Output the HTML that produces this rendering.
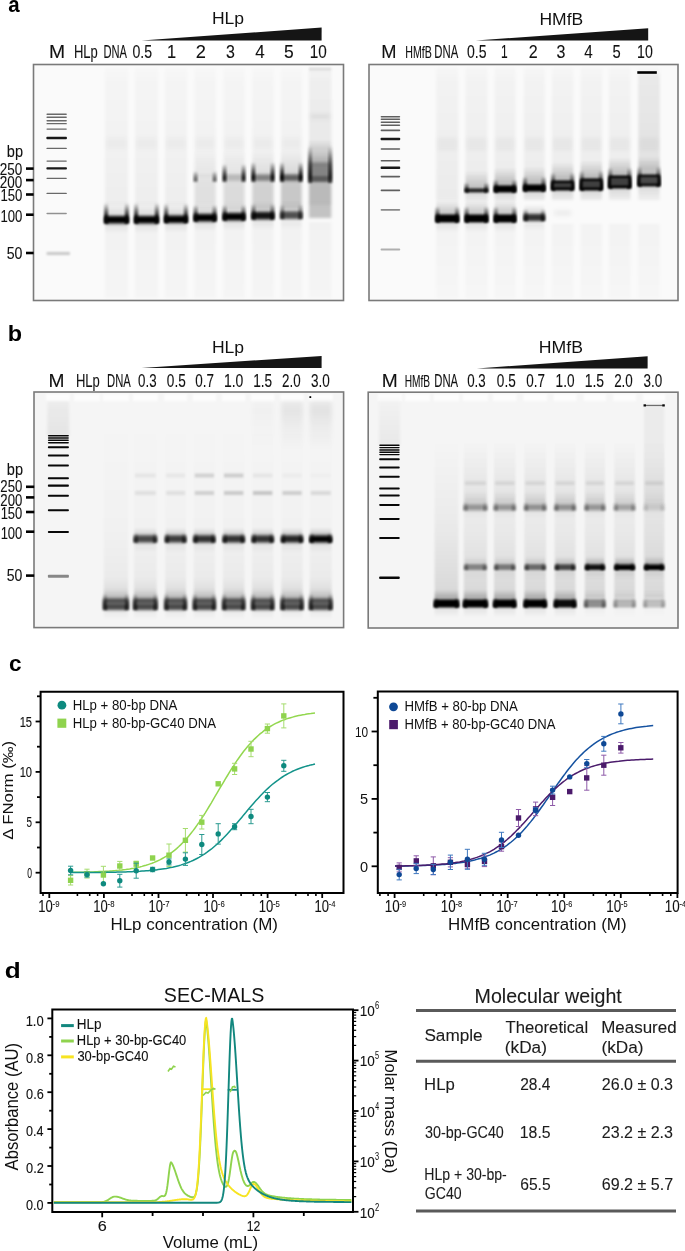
<!DOCTYPE html>
<html><head><meta charset="utf-8"><style>
html,body{margin:0;padding:0;background:#fff;}
svg{display:block;font-family:"Liberation Sans",sans-serif;will-change:transform;}
</style></head><body>
<svg width="685" height="1251" viewBox="0 0 685 1251">
<defs>
<filter id="b05" x="-20%" y="-200%" width="140%" height="500%"><feGaussianBlur stdDeviation="0.5"/></filter>
<filter id="b1" x="-30%" y="-100%" width="160%" height="300%"><feGaussianBlur stdDeviation="1"/></filter>
<filter id="b15" x="-30%" y="-100%" width="160%" height="300%"><feGaussianBlur stdDeviation="1.5"/></filter>
<filter id="b2" x="-30%" y="-100%" width="160%" height="300%"><feGaussianBlur stdDeviation="2"/></filter>
<filter id="b3" x="-30%" y="-100%" width="160%" height="300%"><feGaussianBlur stdDeviation="3"/></filter>
</defs>
<rect width="685" height="1251" fill="#fff"/>
<text x="8.19" y="12.30" font-size="22.00" text-anchor="start" font-weight="bold" fill="#000" textLength="11.38" lengthAdjust="spacingAndGlyphs">a</text>
<text x="7.68" y="341.30" font-size="22.50" text-anchor="start" font-weight="bold" fill="#000" textLength="14.27" lengthAdjust="spacingAndGlyphs">b</text>
<text x="9.10" y="670.60" font-size="21.50" text-anchor="start" font-weight="bold" fill="#000" textLength="12.55" lengthAdjust="spacingAndGlyphs">c</text>
<text x="4.75" y="978.40" font-size="21.50" text-anchor="start" font-weight="bold" fill="#000" textLength="15.97" lengthAdjust="spacingAndGlyphs">d</text>
<rect x="33.5" y="64.5" width="310.0" height="236.0" fill="#fafafa" fill-opacity="1.000"/>
<rect x="46.4" y="113.6" width="20.5" height="1.3" fill="#000" fill-opacity="0.580" rx="0.8" filter="url(#b05)"/>
<rect x="46.4" y="116.6" width="20.5" height="1.3" fill="#000" fill-opacity="0.580" rx="0.8" filter="url(#b05)"/>
<rect x="46.4" y="120.1" width="20.5" height="1.3" fill="#000" fill-opacity="0.580" rx="0.8" filter="url(#b05)"/>
<rect x="46.4" y="123.0" width="20.5" height="1.3" fill="#000" fill-opacity="0.580" rx="0.8" filter="url(#b05)"/>
<rect x="46.4" y="128.4" width="20.5" height="1.3" fill="#000" fill-opacity="0.580" rx="0.8" filter="url(#b05)"/>
<rect x="46.4" y="136.8" width="20.5" height="2.4" fill="#000" fill-opacity="0.900" rx="0.8" filter="url(#b05)"/>
<rect x="46.4" y="147.8" width="20.5" height="1.3" fill="#000" fill-opacity="0.580" rx="0.8" filter="url(#b05)"/>
<rect x="46.4" y="160.4" width="20.5" height="1.3" fill="#000" fill-opacity="0.580" rx="0.8" filter="url(#b05)"/>
<rect x="46.4" y="167.2" width="20.5" height="2.4" fill="#000" fill-opacity="0.900" rx="0.8" filter="url(#b05)"/>
<rect x="46.4" y="177.7" width="20.5" height="1.3" fill="#000" fill-opacity="0.580" rx="0.8" filter="url(#b05)"/>
<rect x="46.4" y="192.8" width="20.5" height="1.3" fill="#000" fill-opacity="0.580" rx="0.8" filter="url(#b05)"/>
<rect x="46.4" y="212.8" width="20.5" height="1.5" fill="#000" fill-opacity="0.420" rx="0.8" filter="url(#b05)"/>
<rect x="46.5" y="252.0" width="23.5" height="3.0" fill="#000" fill-opacity="0.200" rx="1" filter="url(#b1)"/>
<linearGradient id="gg1" x1="0" y1="0" x2="0" y2="1"><stop offset="0" stop-color="#000" stop-opacity="0.01"/><stop offset="0.1" stop-color="#000" stop-opacity="0.022"/><stop offset="0.6" stop-color="#000" stop-opacity="0.035"/><stop offset="1" stop-color="#000" stop-opacity="0.05"/></linearGradient>
<rect x="105.0" y="68.0" width="23.0" height="137.0" fill="url(#gg1)" filter="url(#b15)"/>
<rect x="106.0" y="137.0" width="21.0" height="12.0" fill="#000" fill-opacity="0.025" filter="url(#b2)"/>
<linearGradient id="gg2" x1="0" y1="0" x2="0" y2="1"><stop offset="0" stop-color="#000" stop-opacity="0.035"/><stop offset="1" stop-color="#000" stop-opacity="0.02"/></linearGradient>
<rect x="105.0" y="222.0" width="23.0" height="76.0" fill="url(#gg2)" filter="url(#b15)"/>
<linearGradient id="gg3" x1="0" y1="0" x2="0" y2="1"><stop offset="0" stop-color="#000" stop-opacity="0.01"/><stop offset="0.1" stop-color="#000" stop-opacity="0.022"/><stop offset="0.6" stop-color="#000" stop-opacity="0.035"/><stop offset="1" stop-color="#000" stop-opacity="0.05"/></linearGradient>
<rect x="135.0" y="68.0" width="23.0" height="137.0" fill="url(#gg3)" filter="url(#b15)"/>
<rect x="136.0" y="137.0" width="21.0" height="12.0" fill="#000" fill-opacity="0.025" filter="url(#b2)"/>
<linearGradient id="gg4" x1="0" y1="0" x2="0" y2="1"><stop offset="0" stop-color="#000" stop-opacity="0.035"/><stop offset="1" stop-color="#000" stop-opacity="0.02"/></linearGradient>
<rect x="135.0" y="222.0" width="23.0" height="76.0" fill="url(#gg4)" filter="url(#b15)"/>
<linearGradient id="gg5" x1="0" y1="0" x2="0" y2="1"><stop offset="0" stop-color="#000" stop-opacity="0.01"/><stop offset="0.1" stop-color="#000" stop-opacity="0.022"/><stop offset="0.6" stop-color="#000" stop-opacity="0.035"/><stop offset="1" stop-color="#000" stop-opacity="0.05"/></linearGradient>
<rect x="165.0" y="68.0" width="22.0" height="137.0" fill="url(#gg5)" filter="url(#b15)"/>
<rect x="166.0" y="137.0" width="20.0" height="12.0" fill="#000" fill-opacity="0.025" filter="url(#b2)"/>
<linearGradient id="gg6" x1="0" y1="0" x2="0" y2="1"><stop offset="0" stop-color="#000" stop-opacity="0.035"/><stop offset="1" stop-color="#000" stop-opacity="0.02"/></linearGradient>
<rect x="165.0" y="222.0" width="22.0" height="76.0" fill="url(#gg6)" filter="url(#b15)"/>
<linearGradient id="gg7" x1="0" y1="0" x2="0" y2="1"><stop offset="0" stop-color="#000" stop-opacity="0.01"/><stop offset="0.1" stop-color="#000" stop-opacity="0.022"/><stop offset="0.6" stop-color="#000" stop-opacity="0.035"/><stop offset="1" stop-color="#000" stop-opacity="0.05"/></linearGradient>
<rect x="194.5" y="68.0" width="21.2" height="137.0" fill="url(#gg7)" filter="url(#b15)"/>
<rect x="195.5" y="137.0" width="19.2" height="12.0" fill="#000" fill-opacity="0.025" filter="url(#b2)"/>
<linearGradient id="gg8" x1="0" y1="0" x2="0" y2="1"><stop offset="0" stop-color="#000" stop-opacity="0.035"/><stop offset="1" stop-color="#000" stop-opacity="0.02"/></linearGradient>
<rect x="194.5" y="222.0" width="21.2" height="76.0" fill="url(#gg8)" filter="url(#b15)"/>
<linearGradient id="gg9" x1="0" y1="0" x2="0" y2="1"><stop offset="0" stop-color="#000" stop-opacity="0.01"/><stop offset="0.1" stop-color="#000" stop-opacity="0.022"/><stop offset="0.6" stop-color="#000" stop-opacity="0.035"/><stop offset="1" stop-color="#000" stop-opacity="0.05"/></linearGradient>
<rect x="223.5" y="68.0" width="21.1" height="137.0" fill="url(#gg9)" filter="url(#b15)"/>
<rect x="224.5" y="137.0" width="19.1" height="12.0" fill="#000" fill-opacity="0.025" filter="url(#b2)"/>
<linearGradient id="gg10" x1="0" y1="0" x2="0" y2="1"><stop offset="0" stop-color="#000" stop-opacity="0.035"/><stop offset="1" stop-color="#000" stop-opacity="0.02"/></linearGradient>
<rect x="223.5" y="222.0" width="21.1" height="76.0" fill="url(#gg10)" filter="url(#b15)"/>
<linearGradient id="gg11" x1="0" y1="0" x2="0" y2="1"><stop offset="0" stop-color="#000" stop-opacity="0.01"/><stop offset="0.1" stop-color="#000" stop-opacity="0.022"/><stop offset="0.6" stop-color="#000" stop-opacity="0.035"/><stop offset="1" stop-color="#000" stop-opacity="0.05"/></linearGradient>
<rect x="252.3" y="68.0" width="21.3" height="137.0" fill="url(#gg11)" filter="url(#b15)"/>
<rect x="253.3" y="137.0" width="19.3" height="12.0" fill="#000" fill-opacity="0.025" filter="url(#b2)"/>
<linearGradient id="gg12" x1="0" y1="0" x2="0" y2="1"><stop offset="0" stop-color="#000" stop-opacity="0.035"/><stop offset="1" stop-color="#000" stop-opacity="0.02"/></linearGradient>
<rect x="252.3" y="222.0" width="21.3" height="76.0" fill="url(#gg12)" filter="url(#b15)"/>
<linearGradient id="gg13" x1="0" y1="0" x2="0" y2="1"><stop offset="0" stop-color="#000" stop-opacity="0.01"/><stop offset="0.1" stop-color="#000" stop-opacity="0.022"/><stop offset="0.6" stop-color="#000" stop-opacity="0.035"/><stop offset="1" stop-color="#000" stop-opacity="0.05"/></linearGradient>
<rect x="281.0" y="68.0" width="20.7" height="137.0" fill="url(#gg13)" filter="url(#b15)"/>
<rect x="282.0" y="137.0" width="18.7" height="12.0" fill="#000" fill-opacity="0.025" filter="url(#b2)"/>
<linearGradient id="gg14" x1="0" y1="0" x2="0" y2="1"><stop offset="0" stop-color="#000" stop-opacity="0.035"/><stop offset="1" stop-color="#000" stop-opacity="0.02"/></linearGradient>
<rect x="281.0" y="222.0" width="20.7" height="76.0" fill="url(#gg14)" filter="url(#b15)"/>
<linearGradient id="gg15" x1="0" y1="0" x2="0" y2="1"><stop offset="0" stop-color="#000" stop-opacity="0.01"/><stop offset="0.1" stop-color="#000" stop-opacity="0.022"/><stop offset="0.6" stop-color="#000" stop-opacity="0.035"/><stop offset="1" stop-color="#000" stop-opacity="0.05"/></linearGradient>
<rect x="309.0" y="68.0" width="22.3" height="137.0" fill="url(#gg15)" filter="url(#b15)"/>
<rect x="310.0" y="137.0" width="20.3" height="12.0" fill="#000" fill-opacity="0.000" filter="url(#b2)"/>
<linearGradient id="gg16" x1="0" y1="0" x2="0" y2="1"><stop offset="0" stop-color="#000" stop-opacity="0.035"/><stop offset="1" stop-color="#000" stop-opacity="0.02"/></linearGradient>
<rect x="309.0" y="222.0" width="22.3" height="76.0" fill="url(#gg16)" filter="url(#b15)"/>
<rect x="104.5" y="216.0" width="24.0" height="7.5" fill="#000" fill-opacity="1.000" rx="2" filter="url(#b15)"/>
<linearGradient id="gg17" x1="0" y1="0" x2="0" y2="1"><stop offset="0" stop-color="#000" stop-opacity="0"/><stop offset="0.35" stop-color="#000" stop-opacity="0.45"/><stop offset="0.7" stop-color="#000" stop-opacity="0.9"/><stop offset="1" stop-color="#000" stop-opacity="1"/></linearGradient>
<rect x="104.0" y="203.0" width="4.2" height="20.5" fill="url(#gg17)" filter="url(#b1)"/>
<linearGradient id="gg18" x1="0" y1="0" x2="0" y2="1"><stop offset="0" stop-color="#000" stop-opacity="0"/><stop offset="0.35" stop-color="#000" stop-opacity="0.45"/><stop offset="0.7" stop-color="#000" stop-opacity="0.9"/><stop offset="1" stop-color="#000" stop-opacity="1"/></linearGradient>
<rect x="124.8" y="203.0" width="4.2" height="20.5" fill="url(#gg18)" filter="url(#b1)"/>
<linearGradient id="gg19" x1="0" y1="0" x2="0" y2="1"><stop offset="0" stop-color="#000" stop-opacity="0"/><stop offset="1" stop-color="#000" stop-opacity="0.15"/></linearGradient>
<rect x="105.0" y="202.0" width="23.0" height="15.5" fill="url(#gg19)" filter="url(#b1)"/>
<linearGradient id="gg20" x1="0" y1="0" x2="0" y2="1"><stop offset="0" stop-color="#000" stop-opacity="0.08"/><stop offset="1" stop-color="#000" stop-opacity="0"/></linearGradient>
<rect x="105.0" y="223.0" width="23.0" height="10.5" fill="url(#gg20)" filter="url(#b1)"/>
<rect x="134.5" y="216.0" width="24.0" height="7.5" fill="#000" fill-opacity="1.000" rx="2" filter="url(#b15)"/>
<linearGradient id="gg21" x1="0" y1="0" x2="0" y2="1"><stop offset="0" stop-color="#000" stop-opacity="0"/><stop offset="0.35" stop-color="#000" stop-opacity="0.45"/><stop offset="0.7" stop-color="#000" stop-opacity="0.9"/><stop offset="1" stop-color="#000" stop-opacity="1"/></linearGradient>
<rect x="134.0" y="203.0" width="4.2" height="20.5" fill="url(#gg21)" filter="url(#b1)"/>
<linearGradient id="gg22" x1="0" y1="0" x2="0" y2="1"><stop offset="0" stop-color="#000" stop-opacity="0"/><stop offset="0.35" stop-color="#000" stop-opacity="0.45"/><stop offset="0.7" stop-color="#000" stop-opacity="0.9"/><stop offset="1" stop-color="#000" stop-opacity="1"/></linearGradient>
<rect x="154.8" y="203.0" width="4.2" height="20.5" fill="url(#gg22)" filter="url(#b1)"/>
<linearGradient id="gg23" x1="0" y1="0" x2="0" y2="1"><stop offset="0" stop-color="#000" stop-opacity="0"/><stop offset="1" stop-color="#000" stop-opacity="0.15"/></linearGradient>
<rect x="135.0" y="202.0" width="23.0" height="15.5" fill="url(#gg23)" filter="url(#b1)"/>
<linearGradient id="gg24" x1="0" y1="0" x2="0" y2="1"><stop offset="0" stop-color="#000" stop-opacity="0.08"/><stop offset="1" stop-color="#000" stop-opacity="0"/></linearGradient>
<rect x="135.0" y="223.0" width="23.0" height="10.5" fill="url(#gg24)" filter="url(#b1)"/>
<rect x="164.5" y="215.5" width="23.0" height="7.5" fill="#000" fill-opacity="1.000" rx="2" filter="url(#b15)"/>
<linearGradient id="gg25" x1="0" y1="0" x2="0" y2="1"><stop offset="0" stop-color="#000" stop-opacity="0"/><stop offset="0.35" stop-color="#000" stop-opacity="0.45"/><stop offset="0.7" stop-color="#000" stop-opacity="0.9"/><stop offset="1" stop-color="#000" stop-opacity="1"/></linearGradient>
<rect x="164.0" y="203.5" width="4.2" height="19.5" fill="url(#gg25)" filter="url(#b1)"/>
<linearGradient id="gg26" x1="0" y1="0" x2="0" y2="1"><stop offset="0" stop-color="#000" stop-opacity="0"/><stop offset="0.35" stop-color="#000" stop-opacity="0.45"/><stop offset="0.7" stop-color="#000" stop-opacity="0.9"/><stop offset="1" stop-color="#000" stop-opacity="1"/></linearGradient>
<rect x="183.8" y="203.5" width="4.2" height="19.5" fill="url(#gg26)" filter="url(#b1)"/>
<linearGradient id="gg27" x1="0" y1="0" x2="0" y2="1"><stop offset="0" stop-color="#000" stop-opacity="0"/><stop offset="1" stop-color="#000" stop-opacity="0.15"/></linearGradient>
<rect x="165.0" y="201.5" width="22.0" height="15.5" fill="url(#gg27)" filter="url(#b1)"/>
<linearGradient id="gg28" x1="0" y1="0" x2="0" y2="1"><stop offset="0" stop-color="#000" stop-opacity="0.08"/><stop offset="1" stop-color="#000" stop-opacity="0"/></linearGradient>
<rect x="165.0" y="222.5" width="22.0" height="10.5" fill="url(#gg28)" filter="url(#b1)"/>
<rect x="194.0" y="214.0" width="22.2" height="7.5" fill="#000" fill-opacity="1.000" rx="2" filter="url(#b15)"/>
<linearGradient id="gg29" x1="0" y1="0" x2="0" y2="1"><stop offset="0" stop-color="#000" stop-opacity="0"/><stop offset="0.35" stop-color="#000" stop-opacity="0.45"/><stop offset="0.7" stop-color="#000" stop-opacity="0.9"/><stop offset="1" stop-color="#000" stop-opacity="1"/></linearGradient>
<rect x="193.5" y="205.0" width="4.2" height="16.5" fill="url(#gg29)" filter="url(#b1)"/>
<linearGradient id="gg30" x1="0" y1="0" x2="0" y2="1"><stop offset="0" stop-color="#000" stop-opacity="0"/><stop offset="0.35" stop-color="#000" stop-opacity="0.45"/><stop offset="0.7" stop-color="#000" stop-opacity="0.9"/><stop offset="1" stop-color="#000" stop-opacity="1"/></linearGradient>
<rect x="212.5" y="205.0" width="4.2" height="16.5" fill="url(#gg30)" filter="url(#b1)"/>
<linearGradient id="gg31" x1="0" y1="0" x2="0" y2="1"><stop offset="0" stop-color="#000" stop-opacity="0"/><stop offset="1" stop-color="#000" stop-opacity="0.2"/></linearGradient>
<rect x="194.5" y="204.0" width="21.2" height="11.5" fill="url(#gg31)" filter="url(#b1)"/>
<linearGradient id="gg32" x1="0" y1="0" x2="0" y2="1"><stop offset="0" stop-color="#000" stop-opacity="0.08"/><stop offset="1" stop-color="#000" stop-opacity="0"/></linearGradient>
<rect x="194.5" y="221.0" width="21.2" height="10.5" fill="url(#gg32)" filter="url(#b1)"/>
<rect x="223.0" y="213.0" width="22.1" height="7.5" fill="#000" fill-opacity="1.000" rx="2" filter="url(#b15)"/>
<linearGradient id="gg33" x1="0" y1="0" x2="0" y2="1"><stop offset="0" stop-color="#000" stop-opacity="0"/><stop offset="0.35" stop-color="#000" stop-opacity="0.45"/><stop offset="0.7" stop-color="#000" stop-opacity="0.9"/><stop offset="1" stop-color="#000" stop-opacity="1"/></linearGradient>
<rect x="222.5" y="205.0" width="4.2" height="15.5" fill="url(#gg33)" filter="url(#b1)"/>
<linearGradient id="gg34" x1="0" y1="0" x2="0" y2="1"><stop offset="0" stop-color="#000" stop-opacity="0"/><stop offset="0.35" stop-color="#000" stop-opacity="0.45"/><stop offset="0.7" stop-color="#000" stop-opacity="0.9"/><stop offset="1" stop-color="#000" stop-opacity="1"/></linearGradient>
<rect x="241.4" y="205.0" width="4.2" height="15.5" fill="url(#gg34)" filter="url(#b1)"/>
<linearGradient id="gg35" x1="0" y1="0" x2="0" y2="1"><stop offset="0" stop-color="#000" stop-opacity="0"/><stop offset="1" stop-color="#000" stop-opacity="0.2"/></linearGradient>
<rect x="223.5" y="203.0" width="21.1" height="11.5" fill="url(#gg35)" filter="url(#b1)"/>
<linearGradient id="gg36" x1="0" y1="0" x2="0" y2="1"><stop offset="0" stop-color="#000" stop-opacity="0.08"/><stop offset="1" stop-color="#000" stop-opacity="0"/></linearGradient>
<rect x="223.5" y="220.0" width="21.1" height="10.5" fill="url(#gg36)" filter="url(#b1)"/>
<rect x="251.8" y="212.0" width="22.3" height="7.5" fill="#000" fill-opacity="0.920" rx="2" filter="url(#b15)"/>
<linearGradient id="gg37" x1="0" y1="0" x2="0" y2="1"><stop offset="0" stop-color="#000" stop-opacity="0"/><stop offset="0.35" stop-color="#000" stop-opacity="0.41400000000000003"/><stop offset="0.7" stop-color="#000" stop-opacity="0.8280000000000001"/><stop offset="1" stop-color="#000" stop-opacity="0.92"/></linearGradient>
<rect x="251.3" y="204.0" width="4.2" height="15.5" fill="url(#gg37)" filter="url(#b1)"/>
<linearGradient id="gg38" x1="0" y1="0" x2="0" y2="1"><stop offset="0" stop-color="#000" stop-opacity="0"/><stop offset="0.35" stop-color="#000" stop-opacity="0.41400000000000003"/><stop offset="0.7" stop-color="#000" stop-opacity="0.8280000000000001"/><stop offset="1" stop-color="#000" stop-opacity="0.92"/></linearGradient>
<rect x="270.4" y="204.0" width="4.2" height="15.5" fill="url(#gg38)" filter="url(#b1)"/>
<linearGradient id="gg39" x1="0" y1="0" x2="0" y2="1"><stop offset="0" stop-color="#000" stop-opacity="0"/><stop offset="1" stop-color="#000" stop-opacity="0.23"/></linearGradient>
<rect x="252.3" y="202.0" width="21.3" height="11.5" fill="url(#gg39)" filter="url(#b1)"/>
<linearGradient id="gg40" x1="0" y1="0" x2="0" y2="1"><stop offset="0" stop-color="#000" stop-opacity="0.0736"/><stop offset="1" stop-color="#000" stop-opacity="0"/></linearGradient>
<rect x="252.3" y="219.0" width="21.3" height="10.5" fill="url(#gg40)" filter="url(#b1)"/>
<rect x="280.5" y="211.5" width="21.7" height="7.5" fill="#000" fill-opacity="0.680" rx="2" filter="url(#b15)"/>
<linearGradient id="gg41" x1="0" y1="0" x2="0" y2="1"><stop offset="0" stop-color="#000" stop-opacity="0"/><stop offset="0.35" stop-color="#000" stop-opacity="0.30600000000000005"/><stop offset="0.7" stop-color="#000" stop-opacity="0.6120000000000001"/><stop offset="1" stop-color="#000" stop-opacity="0.68"/></linearGradient>
<rect x="280.0" y="204.5" width="4.2" height="14.5" fill="url(#gg41)" filter="url(#b1)"/>
<linearGradient id="gg42" x1="0" y1="0" x2="0" y2="1"><stop offset="0" stop-color="#000" stop-opacity="0"/><stop offset="0.35" stop-color="#000" stop-opacity="0.30600000000000005"/><stop offset="0.7" stop-color="#000" stop-opacity="0.6120000000000001"/><stop offset="1" stop-color="#000" stop-opacity="0.68"/></linearGradient>
<rect x="298.5" y="204.5" width="4.2" height="14.5" fill="url(#gg42)" filter="url(#b1)"/>
<linearGradient id="gg43" x1="0" y1="0" x2="0" y2="1"><stop offset="0" stop-color="#000" stop-opacity="0"/><stop offset="1" stop-color="#000" stop-opacity="0.17"/></linearGradient>
<rect x="281.0" y="201.5" width="20.7" height="11.5" fill="url(#gg43)" filter="url(#b1)"/>
<linearGradient id="gg44" x1="0" y1="0" x2="0" y2="1"><stop offset="0" stop-color="#000" stop-opacity="0.054400000000000004"/><stop offset="1" stop-color="#000" stop-opacity="0"/></linearGradient>
<rect x="281.0" y="218.5" width="20.7" height="10.5" fill="url(#gg44)" filter="url(#b1)"/>
<rect x="194.5" y="181.0" width="21.2" height="28.0" fill="#000" fill-opacity="0.060" filter="url(#b15)"/>
<linearGradient id="gg45" x1="0" y1="0" x2="0" y2="1"><stop offset="0" stop-color="#000" stop-opacity="0"/><stop offset="1" stop-color="#000" stop-opacity="0.041999999999999996"/></linearGradient>
<rect x="194.5" y="150.0" width="21.2" height="26.0" fill="url(#gg45)" filter="url(#b15)"/>
<rect x="195.0" y="174.5" width="20.2" height="6.5" fill="#000" fill-opacity="0.050" rx="1.5" filter="url(#b15)"/>
<linearGradient id="gg46" x1="0" y1="0" x2="0" y2="1"><stop offset="0" stop-color="#000" stop-opacity="0"/><stop offset="0.5" stop-color="#000" stop-opacity="0.42"/><stop offset="0.8" stop-color="#000" stop-opacity="0.6"/><stop offset="1" stop-color="#000" stop-opacity="0.36"/></linearGradient>
<rect x="193.5" y="171.0" width="4.0" height="11.0" fill="url(#gg46)" filter="url(#b1)"/>
<linearGradient id="gg47" x1="0" y1="0" x2="0" y2="1"><stop offset="0" stop-color="#000" stop-opacity="0"/><stop offset="0.5" stop-color="#000" stop-opacity="0.42"/><stop offset="0.8" stop-color="#000" stop-opacity="0.6"/><stop offset="1" stop-color="#000" stop-opacity="0.36"/></linearGradient>
<rect x="212.7" y="171.0" width="4.0" height="11.0" fill="url(#gg47)" filter="url(#b1)"/>
<rect x="223.5" y="181.0" width="21.1" height="28.0" fill="#000" fill-opacity="0.080" filter="url(#b15)"/>
<linearGradient id="gg48" x1="0" y1="0" x2="0" y2="1"><stop offset="0" stop-color="#000" stop-opacity="0"/><stop offset="1" stop-color="#000" stop-opacity="0.055999999999999994"/></linearGradient>
<rect x="223.5" y="150.0" width="21.1" height="26.0" fill="url(#gg48)" filter="url(#b15)"/>
<rect x="224.0" y="174.5" width="20.1" height="6.5" fill="#000" fill-opacity="0.220" rx="1.5" filter="url(#b15)"/>
<linearGradient id="gg49" x1="0" y1="0" x2="0" y2="1"><stop offset="0" stop-color="#000" stop-opacity="0"/><stop offset="0.5" stop-color="#000" stop-opacity="0.63"/><stop offset="0.8" stop-color="#000" stop-opacity="0.9"/><stop offset="1" stop-color="#000" stop-opacity="0.54"/></linearGradient>
<rect x="222.5" y="164.0" width="4.0" height="18.0" fill="url(#gg49)" filter="url(#b1)"/>
<linearGradient id="gg50" x1="0" y1="0" x2="0" y2="1"><stop offset="0" stop-color="#000" stop-opacity="0"/><stop offset="0.5" stop-color="#000" stop-opacity="0.63"/><stop offset="0.8" stop-color="#000" stop-opacity="0.9"/><stop offset="1" stop-color="#000" stop-opacity="0.54"/></linearGradient>
<rect x="241.6" y="164.0" width="4.0" height="18.0" fill="url(#gg50)" filter="url(#b1)"/>
<rect x="252.3" y="181.0" width="21.3" height="28.0" fill="#000" fill-opacity="0.120" filter="url(#b15)"/>
<linearGradient id="gg51" x1="0" y1="0" x2="0" y2="1"><stop offset="0" stop-color="#000" stop-opacity="0"/><stop offset="1" stop-color="#000" stop-opacity="0.08399999999999999"/></linearGradient>
<rect x="252.3" y="150.0" width="21.3" height="26.0" fill="url(#gg51)" filter="url(#b15)"/>
<rect x="252.8" y="174.5" width="20.3" height="6.5" fill="#000" fill-opacity="0.450" rx="1.5" filter="url(#b15)"/>
<linearGradient id="gg52" x1="0" y1="0" x2="0" y2="1"><stop offset="0" stop-color="#000" stop-opacity="0"/><stop offset="0.5" stop-color="#000" stop-opacity="0.6649999999999999"/><stop offset="0.8" stop-color="#000" stop-opacity="0.95"/><stop offset="1" stop-color="#000" stop-opacity="0.57"/></linearGradient>
<rect x="251.3" y="162.0" width="4.0" height="20.0" fill="url(#gg52)" filter="url(#b1)"/>
<linearGradient id="gg53" x1="0" y1="0" x2="0" y2="1"><stop offset="0" stop-color="#000" stop-opacity="0"/><stop offset="0.5" stop-color="#000" stop-opacity="0.6649999999999999"/><stop offset="0.8" stop-color="#000" stop-opacity="0.95"/><stop offset="1" stop-color="#000" stop-opacity="0.57"/></linearGradient>
<rect x="270.6" y="162.0" width="4.0" height="20.0" fill="url(#gg53)" filter="url(#b1)"/>
<rect x="281.0" y="181.0" width="20.7" height="28.0" fill="#000" fill-opacity="0.160" filter="url(#b15)"/>
<linearGradient id="gg54" x1="0" y1="0" x2="0" y2="1"><stop offset="0" stop-color="#000" stop-opacity="0"/><stop offset="1" stop-color="#000" stop-opacity="0.11199999999999999"/></linearGradient>
<rect x="281.0" y="150.0" width="20.7" height="26.0" fill="url(#gg54)" filter="url(#b15)"/>
<rect x="281.5" y="174.5" width="19.7" height="6.5" fill="#000" fill-opacity="0.600" rx="1.5" filter="url(#b15)"/>
<linearGradient id="gg55" x1="0" y1="0" x2="0" y2="1"><stop offset="0" stop-color="#000" stop-opacity="0"/><stop offset="0.5" stop-color="#000" stop-opacity="0.7"/><stop offset="0.8" stop-color="#000" stop-opacity="1.0"/><stop offset="1" stop-color="#000" stop-opacity="0.6"/></linearGradient>
<rect x="280.0" y="162.0" width="4.0" height="20.0" fill="url(#gg55)" filter="url(#b1)"/>
<linearGradient id="gg56" x1="0" y1="0" x2="0" y2="1"><stop offset="0" stop-color="#000" stop-opacity="0"/><stop offset="0.5" stop-color="#000" stop-opacity="0.7"/><stop offset="0.8" stop-color="#000" stop-opacity="1.0"/><stop offset="1" stop-color="#000" stop-opacity="0.6"/></linearGradient>
<rect x="298.7" y="162.0" width="4.0" height="20.0" fill="url(#gg56)" filter="url(#b1)"/>
<rect x="309.0" y="67.5" width="22.3" height="3.0" fill="#000" fill-opacity="0.100" filter="url(#b1)"/>
<linearGradient id="gg57" x1="0" y1="0" x2="0" y2="1"><stop offset="0" stop-color="#000" stop-opacity="0.02"/><stop offset="1" stop-color="#000" stop-opacity="0.035"/></linearGradient>
<rect x="309.0" y="70.0" width="22.3" height="80.0" fill="url(#gg57)" filter="url(#b15)"/>
<rect x="310.0" y="114.0" width="20.3" height="5.0" fill="#000" fill-opacity="0.070" filter="url(#b2)"/>
<linearGradient id="gg58" x1="0" y1="0" x2="0" y2="1"><stop offset="0" stop-color="#000" stop-opacity="0"/><stop offset="1" stop-color="#000" stop-opacity="0.3"/></linearGradient>
<rect x="309.0" y="140.0" width="22.3" height="24.0" fill="url(#gg58)" filter="url(#b15)"/>
<rect x="309.0" y="163.0" width="22.3" height="19.0" fill="#000" fill-opacity="0.450" rx="2" filter="url(#b15)"/>
<rect x="309.0" y="176.0" width="22.3" height="6.0" fill="#000" fill-opacity="0.300" rx="2" filter="url(#b1)"/>
<linearGradient id="gg59" x1="0" y1="0" x2="0" y2="1"><stop offset="0" stop-color="#000" stop-opacity="0"/><stop offset="0.4" stop-color="#000" stop-opacity="0.5"/><stop offset="0.8" stop-color="#000" stop-opacity="0.8"/><stop offset="1" stop-color="#000" stop-opacity="0.6"/></linearGradient>
<rect x="308.0" y="146.0" width="4.0" height="37.0" fill="url(#gg59)" filter="url(#b1)"/>
<linearGradient id="gg60" x1="0" y1="0" x2="0" y2="1"><stop offset="0" stop-color="#000" stop-opacity="0"/><stop offset="0.4" stop-color="#000" stop-opacity="0.5"/><stop offset="0.8" stop-color="#000" stop-opacity="0.8"/><stop offset="1" stop-color="#000" stop-opacity="0.6"/></linearGradient>
<rect x="328.3" y="146.0" width="4.0" height="37.0" fill="url(#gg60)" filter="url(#b1)"/>
<rect x="309.0" y="182.0" width="22.3" height="36.0" fill="#000" fill-opacity="0.220" filter="url(#b15)"/>
<rect x="33.5" y="64.5" width="310.0" height="236.0" fill="none" stroke="#7a7a7a" stroke-width="1.6"/>
<rect x="369.0" y="64.5" width="309.0" height="236.0" fill="#fafafa" fill-opacity="1.000"/>
<rect x="380.6" y="116.0" width="19.6" height="1.5" fill="#000" fill-opacity="0.620" rx="0.8" filter="url(#b05)"/>
<rect x="380.6" y="118.5" width="19.6" height="1.5" fill="#000" fill-opacity="0.620" rx="0.8" filter="url(#b05)"/>
<rect x="380.6" y="121.5" width="19.6" height="1.5" fill="#000" fill-opacity="0.620" rx="0.8" filter="url(#b05)"/>
<rect x="380.6" y="124.5" width="19.6" height="1.5" fill="#000" fill-opacity="0.620" rx="0.8" filter="url(#b05)"/>
<rect x="380.6" y="129.6" width="19.6" height="1.6" fill="#000" fill-opacity="0.620" rx="0.8" filter="url(#b05)"/>
<rect x="380.6" y="137.8" width="19.6" height="2.4" fill="#000" fill-opacity="0.900" rx="0.8" filter="url(#b05)"/>
<rect x="380.6" y="148.2" width="19.6" height="1.6" fill="#000" fill-opacity="0.620" rx="0.8" filter="url(#b05)"/>
<rect x="380.6" y="159.9" width="19.6" height="1.6" fill="#000" fill-opacity="0.620" rx="0.8" filter="url(#b05)"/>
<rect x="380.6" y="166.6" width="19.6" height="2.4" fill="#000" fill-opacity="0.900" rx="0.8" filter="url(#b05)"/>
<rect x="380.6" y="175.8" width="19.6" height="1.6" fill="#000" fill-opacity="0.620" rx="0.8" filter="url(#b05)"/>
<rect x="380.6" y="189.6" width="19.6" height="1.6" fill="#000" fill-opacity="0.620" rx="0.8" filter="url(#b05)"/>
<rect x="380.6" y="208.9" width="19.6" height="1.8" fill="#000" fill-opacity="0.450" rx="0.8" filter="url(#b05)"/>
<rect x="380.6" y="248.4" width="19.6" height="2.2" fill="#000" fill-opacity="0.300" rx="0.8" filter="url(#b05)"/>
<linearGradient id="gg61" x1="0" y1="0" x2="0" y2="1"><stop offset="0" stop-color="#000" stop-opacity="0.015"/><stop offset="0.1" stop-color="#000" stop-opacity="0.03"/><stop offset="0.6" stop-color="#000" stop-opacity="0.045"/><stop offset="1" stop-color="#000" stop-opacity="0.06"/></linearGradient>
<rect x="436.2" y="68.0" width="22.1" height="132.0" fill="url(#gg61)" filter="url(#b15)"/>
<rect x="437.2" y="138.0" width="20.1" height="12.0" fill="#000" fill-opacity="0.035" filter="url(#b2)"/>
<linearGradient id="gg62" x1="0" y1="0" x2="0" y2="1"><stop offset="0" stop-color="#000" stop-opacity="0.03"/><stop offset="1" stop-color="#000" stop-opacity="0.015"/></linearGradient>
<rect x="436.2" y="224.0" width="22.1" height="74.0" fill="url(#gg62)" filter="url(#b15)"/>
<linearGradient id="gg63" x1="0" y1="0" x2="0" y2="1"><stop offset="0" stop-color="#000" stop-opacity="0.015"/><stop offset="0.1" stop-color="#000" stop-opacity="0.03"/><stop offset="0.6" stop-color="#000" stop-opacity="0.045"/><stop offset="1" stop-color="#000" stop-opacity="0.06"/></linearGradient>
<rect x="465.4" y="68.0" width="22.1" height="132.0" fill="url(#gg63)" filter="url(#b15)"/>
<rect x="466.4" y="138.0" width="20.1" height="12.0" fill="#000" fill-opacity="0.035" filter="url(#b2)"/>
<linearGradient id="gg64" x1="0" y1="0" x2="0" y2="1"><stop offset="0" stop-color="#000" stop-opacity="0.03"/><stop offset="1" stop-color="#000" stop-opacity="0.015"/></linearGradient>
<rect x="465.4" y="224.0" width="22.1" height="74.0" fill="url(#gg64)" filter="url(#b15)"/>
<linearGradient id="gg65" x1="0" y1="0" x2="0" y2="1"><stop offset="0" stop-color="#000" stop-opacity="0.015"/><stop offset="0.1" stop-color="#000" stop-opacity="0.03"/><stop offset="0.6" stop-color="#000" stop-opacity="0.045"/><stop offset="1" stop-color="#000" stop-opacity="0.06"/></linearGradient>
<rect x="494.6" y="68.0" width="20.9" height="132.0" fill="url(#gg65)" filter="url(#b15)"/>
<rect x="495.6" y="138.0" width="18.9" height="12.0" fill="#000" fill-opacity="0.035" filter="url(#b2)"/>
<linearGradient id="gg66" x1="0" y1="0" x2="0" y2="1"><stop offset="0" stop-color="#000" stop-opacity="0.03"/><stop offset="1" stop-color="#000" stop-opacity="0.015"/></linearGradient>
<rect x="494.6" y="224.0" width="20.9" height="74.0" fill="url(#gg66)" filter="url(#b15)"/>
<linearGradient id="gg67" x1="0" y1="0" x2="0" y2="1"><stop offset="0" stop-color="#000" stop-opacity="0.015"/><stop offset="0.1" stop-color="#000" stop-opacity="0.03"/><stop offset="0.6" stop-color="#000" stop-opacity="0.045"/><stop offset="1" stop-color="#000" stop-opacity="0.06"/></linearGradient>
<rect x="523.9" y="68.0" width="20.8" height="132.0" fill="url(#gg67)" filter="url(#b15)"/>
<rect x="524.9" y="138.0" width="18.8" height="12.0" fill="#000" fill-opacity="0.035" filter="url(#b2)"/>
<linearGradient id="gg68" x1="0" y1="0" x2="0" y2="1"><stop offset="0" stop-color="#000" stop-opacity="0.03"/><stop offset="1" stop-color="#000" stop-opacity="0.015"/></linearGradient>
<rect x="523.9" y="224.0" width="20.8" height="74.0" fill="url(#gg68)" filter="url(#b15)"/>
<linearGradient id="gg69" x1="0" y1="0" x2="0" y2="1"><stop offset="0" stop-color="#000" stop-opacity="0.015"/><stop offset="0.1" stop-color="#000" stop-opacity="0.03"/><stop offset="0.6" stop-color="#000" stop-opacity="0.045"/><stop offset="1" stop-color="#000" stop-opacity="0.06"/></linearGradient>
<rect x="551.9" y="68.0" width="21.4" height="132.0" fill="url(#gg69)" filter="url(#b15)"/>
<rect x="552.9" y="138.0" width="19.4" height="12.0" fill="#000" fill-opacity="0.035" filter="url(#b2)"/>
<linearGradient id="gg70" x1="0" y1="0" x2="0" y2="1"><stop offset="0" stop-color="#000" stop-opacity="0.03"/><stop offset="1" stop-color="#000" stop-opacity="0.015"/></linearGradient>
<rect x="551.9" y="224.0" width="21.4" height="74.0" fill="url(#gg70)" filter="url(#b15)"/>
<linearGradient id="gg71" x1="0" y1="0" x2="0" y2="1"><stop offset="0" stop-color="#000" stop-opacity="0.015"/><stop offset="0.1" stop-color="#000" stop-opacity="0.03"/><stop offset="0.6" stop-color="#000" stop-opacity="0.045"/><stop offset="1" stop-color="#000" stop-opacity="0.06"/></linearGradient>
<rect x="580.6" y="68.0" width="21.4" height="132.0" fill="url(#gg71)" filter="url(#b15)"/>
<rect x="581.6" y="138.0" width="19.4" height="12.0" fill="#000" fill-opacity="0.035" filter="url(#b2)"/>
<linearGradient id="gg72" x1="0" y1="0" x2="0" y2="1"><stop offset="0" stop-color="#000" stop-opacity="0.03"/><stop offset="1" stop-color="#000" stop-opacity="0.015"/></linearGradient>
<rect x="580.6" y="224.0" width="21.4" height="74.0" fill="url(#gg72)" filter="url(#b15)"/>
<linearGradient id="gg73" x1="0" y1="0" x2="0" y2="1"><stop offset="0" stop-color="#000" stop-opacity="0.015"/><stop offset="0.1" stop-color="#000" stop-opacity="0.03"/><stop offset="0.6" stop-color="#000" stop-opacity="0.045"/><stop offset="1" stop-color="#000" stop-opacity="0.06"/></linearGradient>
<rect x="609.0" y="68.0" width="21.5" height="132.0" fill="url(#gg73)" filter="url(#b15)"/>
<rect x="610.0" y="138.0" width="19.5" height="12.0" fill="#000" fill-opacity="0.035" filter="url(#b2)"/>
<linearGradient id="gg74" x1="0" y1="0" x2="0" y2="1"><stop offset="0" stop-color="#000" stop-opacity="0.03"/><stop offset="1" stop-color="#000" stop-opacity="0.015"/></linearGradient>
<rect x="609.0" y="224.0" width="21.5" height="74.0" fill="url(#gg74)" filter="url(#b15)"/>
<linearGradient id="gg75" x1="0" y1="0" x2="0" y2="1"><stop offset="0" stop-color="#000" stop-opacity="0.015"/><stop offset="0.1" stop-color="#000" stop-opacity="0.03"/><stop offset="0.6" stop-color="#000" stop-opacity="0.045"/><stop offset="1" stop-color="#000" stop-opacity="0.06"/></linearGradient>
<rect x="638.3" y="68.0" width="21.4" height="132.0" fill="url(#gg75)" filter="url(#b15)"/>
<rect x="639.3" y="138.0" width="19.4" height="12.0" fill="#000" fill-opacity="0.035" filter="url(#b2)"/>
<linearGradient id="gg76" x1="0" y1="0" x2="0" y2="1"><stop offset="0" stop-color="#000" stop-opacity="0.03"/><stop offset="1" stop-color="#000" stop-opacity="0.015"/></linearGradient>
<rect x="638.3" y="224.0" width="21.4" height="74.0" fill="url(#gg76)" filter="url(#b15)"/>
<rect x="435.7" y="214.5" width="23.1" height="8.0" fill="#000" fill-opacity="1.000" rx="2" filter="url(#b1)"/>
<linearGradient id="gg77" x1="0" y1="0" x2="0" y2="1"><stop offset="0" stop-color="#000" stop-opacity="0"/><stop offset="0.35" stop-color="#000" stop-opacity="0.45"/><stop offset="0.7" stop-color="#000" stop-opacity="0.9"/><stop offset="1" stop-color="#000" stop-opacity="1"/></linearGradient>
<rect x="435.2" y="206.5" width="4.2" height="16.0" fill="url(#gg77)" filter="url(#b1)"/>
<linearGradient id="gg78" x1="0" y1="0" x2="0" y2="1"><stop offset="0" stop-color="#000" stop-opacity="0"/><stop offset="0.35" stop-color="#000" stop-opacity="0.45"/><stop offset="0.7" stop-color="#000" stop-opacity="0.9"/><stop offset="1" stop-color="#000" stop-opacity="1"/></linearGradient>
<rect x="455.1" y="206.5" width="4.2" height="16.0" fill="url(#gg78)" filter="url(#b1)"/>
<linearGradient id="gg79" x1="0" y1="0" x2="0" y2="1"><stop offset="0" stop-color="#000" stop-opacity="0"/><stop offset="1" stop-color="#000" stop-opacity="0.25"/></linearGradient>
<rect x="436.2" y="198.5" width="22.1" height="17.5" fill="url(#gg79)" filter="url(#b1)"/>
<linearGradient id="gg80" x1="0" y1="0" x2="0" y2="1"><stop offset="0" stop-color="#000" stop-opacity="0.08"/><stop offset="1" stop-color="#000" stop-opacity="0"/></linearGradient>
<rect x="436.2" y="222.0" width="22.1" height="10.5" fill="url(#gg80)" filter="url(#b1)"/>
<rect x="464.9" y="214.5" width="23.1" height="8.0" fill="#000" fill-opacity="1.000" rx="2" filter="url(#b1)"/>
<linearGradient id="gg81" x1="0" y1="0" x2="0" y2="1"><stop offset="0" stop-color="#000" stop-opacity="0"/><stop offset="0.35" stop-color="#000" stop-opacity="0.45"/><stop offset="0.7" stop-color="#000" stop-opacity="0.9"/><stop offset="1" stop-color="#000" stop-opacity="1"/></linearGradient>
<rect x="464.4" y="206.5" width="4.2" height="16.0" fill="url(#gg81)" filter="url(#b1)"/>
<linearGradient id="gg82" x1="0" y1="0" x2="0" y2="1"><stop offset="0" stop-color="#000" stop-opacity="0"/><stop offset="0.35" stop-color="#000" stop-opacity="0.45"/><stop offset="0.7" stop-color="#000" stop-opacity="0.9"/><stop offset="1" stop-color="#000" stop-opacity="1"/></linearGradient>
<rect x="484.3" y="206.5" width="4.2" height="16.0" fill="url(#gg82)" filter="url(#b1)"/>
<linearGradient id="gg83" x1="0" y1="0" x2="0" y2="1"><stop offset="0" stop-color="#000" stop-opacity="0"/><stop offset="1" stop-color="#000" stop-opacity="0.25"/></linearGradient>
<rect x="465.4" y="198.5" width="22.1" height="17.5" fill="url(#gg83)" filter="url(#b1)"/>
<linearGradient id="gg84" x1="0" y1="0" x2="0" y2="1"><stop offset="0" stop-color="#000" stop-opacity="0.08"/><stop offset="1" stop-color="#000" stop-opacity="0"/></linearGradient>
<rect x="465.4" y="222.0" width="22.1" height="10.5" fill="url(#gg84)" filter="url(#b1)"/>
<rect x="494.1" y="214.5" width="21.9" height="8.0" fill="#000" fill-opacity="1.000" rx="2" filter="url(#b1)"/>
<linearGradient id="gg85" x1="0" y1="0" x2="0" y2="1"><stop offset="0" stop-color="#000" stop-opacity="0"/><stop offset="0.35" stop-color="#000" stop-opacity="0.45"/><stop offset="0.7" stop-color="#000" stop-opacity="0.9"/><stop offset="1" stop-color="#000" stop-opacity="1"/></linearGradient>
<rect x="493.6" y="206.5" width="4.2" height="16.0" fill="url(#gg85)" filter="url(#b1)"/>
<linearGradient id="gg86" x1="0" y1="0" x2="0" y2="1"><stop offset="0" stop-color="#000" stop-opacity="0"/><stop offset="0.35" stop-color="#000" stop-opacity="0.45"/><stop offset="0.7" stop-color="#000" stop-opacity="0.9"/><stop offset="1" stop-color="#000" stop-opacity="1"/></linearGradient>
<rect x="512.3" y="206.5" width="4.2" height="16.0" fill="url(#gg86)" filter="url(#b1)"/>
<linearGradient id="gg87" x1="0" y1="0" x2="0" y2="1"><stop offset="0" stop-color="#000" stop-opacity="0"/><stop offset="1" stop-color="#000" stop-opacity="0.25"/></linearGradient>
<rect x="494.6" y="198.5" width="20.9" height="17.5" fill="url(#gg87)" filter="url(#b1)"/>
<linearGradient id="gg88" x1="0" y1="0" x2="0" y2="1"><stop offset="0" stop-color="#000" stop-opacity="0.08"/><stop offset="1" stop-color="#000" stop-opacity="0"/></linearGradient>
<rect x="494.6" y="222.0" width="20.9" height="10.5" fill="url(#gg88)" filter="url(#b1)"/>
<rect x="523.9" y="214.0" width="20.8" height="7.0" fill="#000" fill-opacity="0.800" rx="2" filter="url(#b15)"/>
<linearGradient id="gg89" x1="0" y1="0" x2="0" y2="1"><stop offset="0" stop-color="#000" stop-opacity="0"/><stop offset="0.35" stop-color="#000" stop-opacity="0.36000000000000004"/><stop offset="0.7" stop-color="#000" stop-opacity="0.7200000000000001"/><stop offset="1" stop-color="#000" stop-opacity="0.8"/></linearGradient>
<rect x="523.4" y="209.0" width="4.2" height="12.0" fill="url(#gg89)" filter="url(#b1)"/>
<linearGradient id="gg90" x1="0" y1="0" x2="0" y2="1"><stop offset="0" stop-color="#000" stop-opacity="0"/><stop offset="0.35" stop-color="#000" stop-opacity="0.36000000000000004"/><stop offset="0.7" stop-color="#000" stop-opacity="0.7200000000000001"/><stop offset="1" stop-color="#000" stop-opacity="0.8"/></linearGradient>
<rect x="541.0" y="209.0" width="4.2" height="12.0" fill="url(#gg90)" filter="url(#b1)"/>
<linearGradient id="gg91" x1="0" y1="0" x2="0" y2="1"><stop offset="0" stop-color="#000" stop-opacity="0"/><stop offset="1" stop-color="#000" stop-opacity="0.16000000000000003"/></linearGradient>
<rect x="524.4" y="204.0" width="19.8" height="11.5" fill="url(#gg91)" filter="url(#b1)"/>
<linearGradient id="gg92" x1="0" y1="0" x2="0" y2="1"><stop offset="0" stop-color="#000" stop-opacity="0.064"/><stop offset="1" stop-color="#000" stop-opacity="0"/></linearGradient>
<rect x="524.4" y="220.5" width="19.8" height="10.5" fill="url(#gg92)" filter="url(#b1)"/>
<rect x="464.9" y="188.5" width="23.1" height="4.0" fill="#000" fill-opacity="0.850" rx="2" filter="url(#b1)"/>
<linearGradient id="gg93" x1="0" y1="0" x2="0" y2="1"><stop offset="0" stop-color="#000" stop-opacity="0"/><stop offset="0.35" stop-color="#000" stop-opacity="0.3825"/><stop offset="0.7" stop-color="#000" stop-opacity="0.765"/><stop offset="1" stop-color="#000" stop-opacity="0.85"/></linearGradient>
<rect x="464.4" y="182.5" width="4.2" height="10.0" fill="url(#gg93)" filter="url(#b1)"/>
<linearGradient id="gg94" x1="0" y1="0" x2="0" y2="1"><stop offset="0" stop-color="#000" stop-opacity="0"/><stop offset="0.35" stop-color="#000" stop-opacity="0.3825"/><stop offset="0.7" stop-color="#000" stop-opacity="0.765"/><stop offset="1" stop-color="#000" stop-opacity="0.85"/></linearGradient>
<rect x="484.3" y="182.5" width="4.2" height="10.0" fill="url(#gg94)" filter="url(#b1)"/>
<linearGradient id="gg95" x1="0" y1="0" x2="0" y2="1"><stop offset="0" stop-color="#000" stop-opacity="0"/><stop offset="1" stop-color="#000" stop-opacity="0.2125"/></linearGradient>
<rect x="465.4" y="170.5" width="22.1" height="19.5" fill="url(#gg95)" filter="url(#b1)"/>
<linearGradient id="gg96" x1="0" y1="0" x2="0" y2="1"><stop offset="0" stop-color="#000" stop-opacity="0.068"/><stop offset="1" stop-color="#000" stop-opacity="0"/></linearGradient>
<rect x="465.4" y="192.0" width="22.1" height="10.5" fill="url(#gg96)" filter="url(#b1)"/>
<rect x="494.1" y="185.5" width="21.9" height="7.0" fill="#000" fill-opacity="1.000" rx="2" filter="url(#b1)"/>
<linearGradient id="gg97" x1="0" y1="0" x2="0" y2="1"><stop offset="0" stop-color="#000" stop-opacity="0"/><stop offset="0.35" stop-color="#000" stop-opacity="0.45"/><stop offset="0.7" stop-color="#000" stop-opacity="0.9"/><stop offset="1" stop-color="#000" stop-opacity="1"/></linearGradient>
<rect x="493.6" y="179.5" width="4.2" height="13.0" fill="url(#gg97)" filter="url(#b1)"/>
<linearGradient id="gg98" x1="0" y1="0" x2="0" y2="1"><stop offset="0" stop-color="#000" stop-opacity="0"/><stop offset="0.35" stop-color="#000" stop-opacity="0.45"/><stop offset="0.7" stop-color="#000" stop-opacity="0.9"/><stop offset="1" stop-color="#000" stop-opacity="1"/></linearGradient>
<rect x="512.3" y="179.5" width="4.2" height="13.0" fill="url(#gg98)" filter="url(#b1)"/>
<linearGradient id="gg99" x1="0" y1="0" x2="0" y2="1"><stop offset="0" stop-color="#000" stop-opacity="0"/><stop offset="1" stop-color="#000" stop-opacity="0.25"/></linearGradient>
<rect x="494.6" y="167.5" width="20.9" height="19.5" fill="url(#gg99)" filter="url(#b1)"/>
<linearGradient id="gg100" x1="0" y1="0" x2="0" y2="1"><stop offset="0" stop-color="#000" stop-opacity="0.08"/><stop offset="1" stop-color="#000" stop-opacity="0"/></linearGradient>
<rect x="494.6" y="192.0" width="20.9" height="10.5" fill="url(#gg100)" filter="url(#b1)"/>
<rect x="523.4" y="184.5" width="21.8" height="7.0" fill="#000" fill-opacity="1.000" rx="2" filter="url(#b1)"/>
<linearGradient id="gg101" x1="0" y1="0" x2="0" y2="1"><stop offset="0" stop-color="#000" stop-opacity="0"/><stop offset="0.35" stop-color="#000" stop-opacity="0.45"/><stop offset="0.7" stop-color="#000" stop-opacity="0.9"/><stop offset="1" stop-color="#000" stop-opacity="1"/></linearGradient>
<rect x="522.9" y="176.5" width="4.2" height="15.0" fill="url(#gg101)" filter="url(#b1)"/>
<linearGradient id="gg102" x1="0" y1="0" x2="0" y2="1"><stop offset="0" stop-color="#000" stop-opacity="0"/><stop offset="0.35" stop-color="#000" stop-opacity="0.45"/><stop offset="0.7" stop-color="#000" stop-opacity="0.9"/><stop offset="1" stop-color="#000" stop-opacity="1"/></linearGradient>
<rect x="541.5" y="176.5" width="4.2" height="15.0" fill="url(#gg102)" filter="url(#b1)"/>
<linearGradient id="gg103" x1="0" y1="0" x2="0" y2="1"><stop offset="0" stop-color="#000" stop-opacity="0"/><stop offset="1" stop-color="#000" stop-opacity="0.25"/></linearGradient>
<rect x="523.9" y="166.5" width="20.8" height="19.5" fill="url(#gg103)" filter="url(#b1)"/>
<linearGradient id="gg104" x1="0" y1="0" x2="0" y2="1"><stop offset="0" stop-color="#000" stop-opacity="0.08"/><stop offset="1" stop-color="#000" stop-opacity="0"/></linearGradient>
<rect x="523.9" y="191.0" width="20.8" height="10.5" fill="url(#gg104)" filter="url(#b1)"/>
<rect x="551.4" y="180.5" width="22.4" height="10.0" fill="#000" fill-opacity="1.000" rx="2" filter="url(#b1)"/>
<linearGradient id="gg105" x1="0" y1="0" x2="0" y2="1"><stop offset="0" stop-color="#000" stop-opacity="0"/><stop offset="0.35" stop-color="#000" stop-opacity="0.45"/><stop offset="0.7" stop-color="#000" stop-opacity="0.9"/><stop offset="1" stop-color="#000" stop-opacity="1"/></linearGradient>
<rect x="550.9" y="172.5" width="4.2" height="18.0" fill="url(#gg105)" filter="url(#b1)"/>
<linearGradient id="gg106" x1="0" y1="0" x2="0" y2="1"><stop offset="0" stop-color="#000" stop-opacity="0"/><stop offset="0.35" stop-color="#000" stop-opacity="0.45"/><stop offset="0.7" stop-color="#000" stop-opacity="0.9"/><stop offset="1" stop-color="#000" stop-opacity="1"/></linearGradient>
<rect x="570.1" y="172.5" width="4.2" height="18.0" fill="url(#gg106)" filter="url(#b1)"/>
<linearGradient id="gg107" x1="0" y1="0" x2="0" y2="1"><stop offset="0" stop-color="#000" stop-opacity="0"/><stop offset="1" stop-color="#000" stop-opacity="0.25"/></linearGradient>
<rect x="551.9" y="162.5" width="21.4" height="19.5" fill="url(#gg107)" filter="url(#b1)"/>
<linearGradient id="gg108" x1="0" y1="0" x2="0" y2="1"><stop offset="0" stop-color="#000" stop-opacity="0.08"/><stop offset="1" stop-color="#000" stop-opacity="0"/></linearGradient>
<rect x="551.9" y="190.0" width="21.4" height="10.5" fill="url(#gg108)" filter="url(#b1)"/>
<rect x="553.9" y="183.0" width="17.4" height="4.5" fill="#fff" fill-opacity="0.250" filter="url(#b1)"/>
<rect x="580.1" y="178.5" width="22.4" height="12.0" fill="#000" fill-opacity="1.000" rx="2" filter="url(#b1)"/>
<linearGradient id="gg109" x1="0" y1="0" x2="0" y2="1"><stop offset="0" stop-color="#000" stop-opacity="0"/><stop offset="0.35" stop-color="#000" stop-opacity="0.45"/><stop offset="0.7" stop-color="#000" stop-opacity="0.9"/><stop offset="1" stop-color="#000" stop-opacity="1"/></linearGradient>
<rect x="579.6" y="170.5" width="4.2" height="20.0" fill="url(#gg109)" filter="url(#b1)"/>
<linearGradient id="gg110" x1="0" y1="0" x2="0" y2="1"><stop offset="0" stop-color="#000" stop-opacity="0"/><stop offset="0.35" stop-color="#000" stop-opacity="0.45"/><stop offset="0.7" stop-color="#000" stop-opacity="0.9"/><stop offset="1" stop-color="#000" stop-opacity="1"/></linearGradient>
<rect x="598.8" y="170.5" width="4.2" height="20.0" fill="url(#gg110)" filter="url(#b1)"/>
<linearGradient id="gg111" x1="0" y1="0" x2="0" y2="1"><stop offset="0" stop-color="#000" stop-opacity="0"/><stop offset="1" stop-color="#000" stop-opacity="0.25"/></linearGradient>
<rect x="580.6" y="160.5" width="21.4" height="19.5" fill="url(#gg111)" filter="url(#b1)"/>
<linearGradient id="gg112" x1="0" y1="0" x2="0" y2="1"><stop offset="0" stop-color="#000" stop-opacity="0.08"/><stop offset="1" stop-color="#000" stop-opacity="0"/></linearGradient>
<rect x="580.6" y="190.0" width="21.4" height="10.5" fill="url(#gg112)" filter="url(#b1)"/>
<rect x="582.6" y="181.0" width="17.4" height="6.5" fill="#fff" fill-opacity="0.250" filter="url(#b1)"/>
<rect x="608.5" y="175.5" width="22.5" height="13.0" fill="#000" fill-opacity="1.000" rx="2" filter="url(#b1)"/>
<linearGradient id="gg113" x1="0" y1="0" x2="0" y2="1"><stop offset="0" stop-color="#000" stop-opacity="0"/><stop offset="0.35" stop-color="#000" stop-opacity="0.45"/><stop offset="0.7" stop-color="#000" stop-opacity="0.9"/><stop offset="1" stop-color="#000" stop-opacity="1"/></linearGradient>
<rect x="608.0" y="167.5" width="4.2" height="21.0" fill="url(#gg113)" filter="url(#b1)"/>
<linearGradient id="gg114" x1="0" y1="0" x2="0" y2="1"><stop offset="0" stop-color="#000" stop-opacity="0"/><stop offset="0.35" stop-color="#000" stop-opacity="0.45"/><stop offset="0.7" stop-color="#000" stop-opacity="0.9"/><stop offset="1" stop-color="#000" stop-opacity="1"/></linearGradient>
<rect x="627.3" y="167.5" width="4.2" height="21.0" fill="url(#gg114)" filter="url(#b1)"/>
<linearGradient id="gg115" x1="0" y1="0" x2="0" y2="1"><stop offset="0" stop-color="#000" stop-opacity="0"/><stop offset="1" stop-color="#000" stop-opacity="0.25"/></linearGradient>
<rect x="609.0" y="157.5" width="21.5" height="19.5" fill="url(#gg115)" filter="url(#b1)"/>
<linearGradient id="gg116" x1="0" y1="0" x2="0" y2="1"><stop offset="0" stop-color="#000" stop-opacity="0.08"/><stop offset="1" stop-color="#000" stop-opacity="0"/></linearGradient>
<rect x="609.0" y="188.0" width="21.5" height="10.5" fill="url(#gg116)" filter="url(#b1)"/>
<rect x="611.0" y="178.0" width="17.5" height="7.5" fill="#fff" fill-opacity="0.250" filter="url(#b1)"/>
<rect x="637.8" y="174.5" width="22.4" height="12.0" fill="#000" fill-opacity="0.950" rx="2" filter="url(#b1)"/>
<linearGradient id="gg117" x1="0" y1="0" x2="0" y2="1"><stop offset="0" stop-color="#000" stop-opacity="0"/><stop offset="0.35" stop-color="#000" stop-opacity="0.4275"/><stop offset="0.7" stop-color="#000" stop-opacity="0.855"/><stop offset="1" stop-color="#000" stop-opacity="0.95"/></linearGradient>
<rect x="637.3" y="166.5" width="4.2" height="20.0" fill="url(#gg117)" filter="url(#b1)"/>
<linearGradient id="gg118" x1="0" y1="0" x2="0" y2="1"><stop offset="0" stop-color="#000" stop-opacity="0"/><stop offset="0.35" stop-color="#000" stop-opacity="0.4275"/><stop offset="0.7" stop-color="#000" stop-opacity="0.855"/><stop offset="1" stop-color="#000" stop-opacity="0.95"/></linearGradient>
<rect x="656.5" y="166.5" width="4.2" height="20.0" fill="url(#gg118)" filter="url(#b1)"/>
<linearGradient id="gg119" x1="0" y1="0" x2="0" y2="1"><stop offset="0" stop-color="#000" stop-opacity="0"/><stop offset="1" stop-color="#000" stop-opacity="0.2375"/></linearGradient>
<rect x="638.3" y="156.5" width="21.4" height="19.5" fill="url(#gg119)" filter="url(#b1)"/>
<linearGradient id="gg120" x1="0" y1="0" x2="0" y2="1"><stop offset="0" stop-color="#000" stop-opacity="0.076"/><stop offset="1" stop-color="#000" stop-opacity="0"/></linearGradient>
<rect x="638.3" y="186.0" width="21.4" height="10.5" fill="url(#gg120)" filter="url(#b1)"/>
<rect x="640.3" y="177.0" width="17.4" height="6.5" fill="#fff" fill-opacity="0.250" filter="url(#b1)"/>
<rect x="553.9" y="210.0" width="17.4" height="6.0" fill="#000" fill-opacity="0.050" filter="url(#b2)"/>
<rect x="637.3" y="71.2" width="19.5" height="2.6" fill="#000" fill-opacity="1.000" filter="url(#b05)"/>
<linearGradient id="gg121" x1="0" y1="0" x2="0" y2="1"><stop offset="0" stop-color="#000" stop-opacity="0.04"/><stop offset="1" stop-color="#000" stop-opacity="0.05"/></linearGradient>
<rect x="638.3" y="74.0" width="21.4" height="96.0" fill="url(#gg121)" filter="url(#b1)"/>
<rect x="369.0" y="64.5" width="309.0" height="236.0" fill="none" stroke="#7a7a7a" stroke-width="1.6"/>
<rect x="34.0" y="392.0" width="309.6" height="235.6" fill="#f5f5f5" fill-opacity="1.000"/>
<rect x="47.9" y="434.9" width="21.0" height="1.6" fill="#000" fill-opacity="0.970" rx="0.8" filter="url(#b05)"/>
<rect x="47.9" y="437.2" width="21.0" height="1.6" fill="#000" fill-opacity="0.970" rx="0.8" filter="url(#b05)"/>
<rect x="47.9" y="439.5" width="21.0" height="1.6" fill="#000" fill-opacity="0.970" rx="0.8" filter="url(#b05)"/>
<rect x="47.9" y="441.9" width="21.0" height="1.6" fill="#000" fill-opacity="0.970" rx="0.8" filter="url(#b05)"/>
<rect x="47.9" y="446.3" width="21.0" height="2.0" fill="#000" fill-opacity="0.970" rx="0.8" filter="url(#b05)"/>
<rect x="47.9" y="454.5" width="21.0" height="2.0" fill="#000" fill-opacity="0.970" rx="0.8" filter="url(#b05)"/>
<rect x="47.9" y="464.6" width="21.0" height="2.0" fill="#000" fill-opacity="0.970" rx="0.8" filter="url(#b05)"/>
<rect x="47.9" y="477.2" width="21.0" height="2.0" fill="#000" fill-opacity="0.970" rx="0.8" filter="url(#b05)"/>
<rect x="47.9" y="484.6" width="21.0" height="2.2" fill="#000" fill-opacity="0.970" rx="0.8" filter="url(#b05)"/>
<rect x="47.9" y="494.7" width="21.0" height="2.0" fill="#000" fill-opacity="0.970" rx="0.8" filter="url(#b05)"/>
<rect x="47.9" y="509.2" width="21.0" height="2.0" fill="#000" fill-opacity="0.970" rx="0.8" filter="url(#b05)"/>
<rect x="47.9" y="531.0" width="21.0" height="2.0" fill="#000" fill-opacity="0.970" rx="0.8" filter="url(#b05)"/>
<rect x="47.9" y="574.8" width="21.0" height="3.0" fill="#000" fill-opacity="0.450" rx="0.8" filter="url(#b05)"/>
<linearGradient id="gg122" x1="0" y1="0" x2="0" y2="1"><stop offset="0" stop-color="#000" stop-opacity="0.02"/><stop offset="0.3" stop-color="#000" stop-opacity="0.045"/><stop offset="1" stop-color="#000" stop-opacity="0.07"/></linearGradient>
<rect x="47.5" y="397.0" width="21.5" height="39.0" fill="url(#gg122)" filter="url(#b15)"/>
<rect x="46.0" y="394.0" width="24.0" height="7.0" fill="#fff" fill-opacity="0.800" filter="url(#b1)"/>
<rect x="74.0" y="394.0" width="26.0" height="7.0" fill="#fff" fill-opacity="0.800" filter="url(#b1)"/>
<rect x="102.8" y="394.0" width="26.2" height="7.0" fill="#fff" fill-opacity="0.800" filter="url(#b1)"/>
<linearGradient id="gg123" x1="0" y1="0" x2="0" y2="1"><stop offset="0" stop-color="#000" stop-opacity="0.0"/><stop offset="0.6" stop-color="#000" stop-opacity="0.015"/><stop offset="0.88" stop-color="#000" stop-opacity="0.04"/><stop offset="1" stop-color="#000" stop-opacity="0.12"/></linearGradient>
<rect x="103.8" y="420.0" width="24.2" height="178.0" fill="url(#gg123)" filter="url(#b1)"/>
<rect x="103.3" y="598.5" width="25.2" height="11.5" fill="#000" fill-opacity="0.700" rx="2" filter="url(#b15)"/>
<linearGradient id="gg124" x1="0" y1="0" x2="0" y2="1"><stop offset="0" stop-color="#000" stop-opacity="0"/><stop offset="0.35" stop-color="#000" stop-opacity="0.315"/><stop offset="0.7" stop-color="#000" stop-opacity="0.63"/><stop offset="1" stop-color="#000" stop-opacity="0.7"/></linearGradient>
<rect x="102.8" y="593.5" width="4.2" height="16.5" fill="url(#gg124)" filter="url(#b1)"/>
<linearGradient id="gg125" x1="0" y1="0" x2="0" y2="1"><stop offset="0" stop-color="#000" stop-opacity="0"/><stop offset="0.35" stop-color="#000" stop-opacity="0.315"/><stop offset="0.7" stop-color="#000" stop-opacity="0.63"/><stop offset="1" stop-color="#000" stop-opacity="0.7"/></linearGradient>
<rect x="124.8" y="593.5" width="4.2" height="16.5" fill="url(#gg125)" filter="url(#b1)"/>
<linearGradient id="gg126" x1="0" y1="0" x2="0" y2="1"><stop offset="0" stop-color="#000" stop-opacity="0"/><stop offset="1" stop-color="#000" stop-opacity="0.175"/></linearGradient>
<rect x="103.8" y="588.5" width="24.2" height="11.5" fill="url(#gg126)" filter="url(#b1)"/>
<linearGradient id="gg127" x1="0" y1="0" x2="0" y2="1"><stop offset="0" stop-color="#000" stop-opacity="0.055999999999999994"/><stop offset="1" stop-color="#000" stop-opacity="0"/></linearGradient>
<rect x="103.8" y="609.5" width="24.2" height="10.5" fill="url(#gg127)" filter="url(#b1)"/>
<rect x="105.8" y="601.5" width="20.2" height="3.5" fill="#fff" fill-opacity="0.120" filter="url(#b1)"/>
<rect x="133.0" y="394.0" width="24.7" height="7.0" fill="#fff" fill-opacity="0.800" filter="url(#b1)"/>
<linearGradient id="gg128" x1="0" y1="0" x2="0" y2="1"><stop offset="0" stop-color="#000" stop-opacity="0.0"/><stop offset="0.6" stop-color="#000" stop-opacity="0.015"/><stop offset="0.88" stop-color="#000" stop-opacity="0.04"/><stop offset="1" stop-color="#000" stop-opacity="0.12"/></linearGradient>
<rect x="134.0" y="420.0" width="22.7" height="178.0" fill="url(#gg128)" filter="url(#b1)"/>
<rect x="133.5" y="598.5" width="23.7" height="11.5" fill="#000" fill-opacity="0.700" rx="2" filter="url(#b15)"/>
<linearGradient id="gg129" x1="0" y1="0" x2="0" y2="1"><stop offset="0" stop-color="#000" stop-opacity="0"/><stop offset="0.35" stop-color="#000" stop-opacity="0.315"/><stop offset="0.7" stop-color="#000" stop-opacity="0.63"/><stop offset="1" stop-color="#000" stop-opacity="0.7"/></linearGradient>
<rect x="133.0" y="593.5" width="4.2" height="16.5" fill="url(#gg129)" filter="url(#b1)"/>
<linearGradient id="gg130" x1="0" y1="0" x2="0" y2="1"><stop offset="0" stop-color="#000" stop-opacity="0"/><stop offset="0.35" stop-color="#000" stop-opacity="0.315"/><stop offset="0.7" stop-color="#000" stop-opacity="0.63"/><stop offset="1" stop-color="#000" stop-opacity="0.7"/></linearGradient>
<rect x="153.5" y="593.5" width="4.2" height="16.5" fill="url(#gg130)" filter="url(#b1)"/>
<linearGradient id="gg131" x1="0" y1="0" x2="0" y2="1"><stop offset="0" stop-color="#000" stop-opacity="0"/><stop offset="1" stop-color="#000" stop-opacity="0.175"/></linearGradient>
<rect x="134.0" y="588.5" width="22.7" height="11.5" fill="url(#gg131)" filter="url(#b1)"/>
<linearGradient id="gg132" x1="0" y1="0" x2="0" y2="1"><stop offset="0" stop-color="#000" stop-opacity="0.055999999999999994"/><stop offset="1" stop-color="#000" stop-opacity="0"/></linearGradient>
<rect x="134.0" y="609.5" width="22.7" height="10.5" fill="url(#gg132)" filter="url(#b1)"/>
<rect x="136.0" y="601.5" width="18.7" height="3.5" fill="#fff" fill-opacity="0.120" filter="url(#b1)"/>
<rect x="134.0" y="535.6" width="22.7" height="7.0" fill="#000" fill-opacity="0.700" rx="2" filter="url(#b15)"/>
<linearGradient id="gg133" x1="0" y1="0" x2="0" y2="1"><stop offset="0" stop-color="#000" stop-opacity="0"/><stop offset="0.35" stop-color="#000" stop-opacity="0.315"/><stop offset="0.7" stop-color="#000" stop-opacity="0.63"/><stop offset="1" stop-color="#000" stop-opacity="0.7"/></linearGradient>
<rect x="133.5" y="533.1" width="4.2" height="9.5" fill="url(#gg133)" filter="url(#b1)"/>
<linearGradient id="gg134" x1="0" y1="0" x2="0" y2="1"><stop offset="0" stop-color="#000" stop-opacity="0"/><stop offset="0.35" stop-color="#000" stop-opacity="0.315"/><stop offset="0.7" stop-color="#000" stop-opacity="0.63"/><stop offset="1" stop-color="#000" stop-opacity="0.7"/></linearGradient>
<rect x="153.0" y="533.1" width="4.2" height="9.5" fill="url(#gg134)" filter="url(#b1)"/>
<linearGradient id="gg135" x1="0" y1="0" x2="0" y2="1"><stop offset="0" stop-color="#000" stop-opacity="0"/><stop offset="1" stop-color="#000" stop-opacity="0.175"/></linearGradient>
<rect x="134.5" y="527.6" width="21.7" height="9.5" fill="url(#gg135)" filter="url(#b1)"/>
<linearGradient id="gg136" x1="0" y1="0" x2="0" y2="1"><stop offset="0" stop-color="#000" stop-opacity="0.055999999999999994"/><stop offset="1" stop-color="#000" stop-opacity="0"/></linearGradient>
<rect x="134.5" y="542.1" width="21.7" height="10.5" fill="url(#gg136)" filter="url(#b1)"/>
<rect x="135.0" y="491.0" width="20.7" height="4.0" fill="#000" fill-opacity="0.080" filter="url(#b1)"/>
<rect x="135.0" y="473.5" width="20.7" height="4.0" fill="#000" fill-opacity="0.060" filter="url(#b1)"/>
<rect x="164.2" y="394.0" width="22.8" height="7.0" fill="#fff" fill-opacity="0.800" filter="url(#b1)"/>
<linearGradient id="gg137" x1="0" y1="0" x2="0" y2="1"><stop offset="0" stop-color="#000" stop-opacity="0.0"/><stop offset="0.6" stop-color="#000" stop-opacity="0.015"/><stop offset="0.88" stop-color="#000" stop-opacity="0.04"/><stop offset="1" stop-color="#000" stop-opacity="0.12"/></linearGradient>
<rect x="165.2" y="420.0" width="20.8" height="178.0" fill="url(#gg137)" filter="url(#b1)"/>
<rect x="164.7" y="598.5" width="21.8" height="11.5" fill="#000" fill-opacity="0.700" rx="2" filter="url(#b15)"/>
<linearGradient id="gg138" x1="0" y1="0" x2="0" y2="1"><stop offset="0" stop-color="#000" stop-opacity="0"/><stop offset="0.35" stop-color="#000" stop-opacity="0.315"/><stop offset="0.7" stop-color="#000" stop-opacity="0.63"/><stop offset="1" stop-color="#000" stop-opacity="0.7"/></linearGradient>
<rect x="164.2" y="593.5" width="4.2" height="16.5" fill="url(#gg138)" filter="url(#b1)"/>
<linearGradient id="gg139" x1="0" y1="0" x2="0" y2="1"><stop offset="0" stop-color="#000" stop-opacity="0"/><stop offset="0.35" stop-color="#000" stop-opacity="0.315"/><stop offset="0.7" stop-color="#000" stop-opacity="0.63"/><stop offset="1" stop-color="#000" stop-opacity="0.7"/></linearGradient>
<rect x="182.8" y="593.5" width="4.2" height="16.5" fill="url(#gg139)" filter="url(#b1)"/>
<linearGradient id="gg140" x1="0" y1="0" x2="0" y2="1"><stop offset="0" stop-color="#000" stop-opacity="0"/><stop offset="1" stop-color="#000" stop-opacity="0.175"/></linearGradient>
<rect x="165.2" y="588.5" width="20.8" height="11.5" fill="url(#gg140)" filter="url(#b1)"/>
<linearGradient id="gg141" x1="0" y1="0" x2="0" y2="1"><stop offset="0" stop-color="#000" stop-opacity="0.055999999999999994"/><stop offset="1" stop-color="#000" stop-opacity="0"/></linearGradient>
<rect x="165.2" y="609.5" width="20.8" height="10.5" fill="url(#gg141)" filter="url(#b1)"/>
<rect x="167.2" y="601.5" width="16.8" height="3.5" fill="#fff" fill-opacity="0.120" filter="url(#b1)"/>
<rect x="165.2" y="535.6" width="20.8" height="7.0" fill="#000" fill-opacity="0.750" rx="2" filter="url(#b15)"/>
<linearGradient id="gg142" x1="0" y1="0" x2="0" y2="1"><stop offset="0" stop-color="#000" stop-opacity="0"/><stop offset="0.35" stop-color="#000" stop-opacity="0.3375"/><stop offset="0.7" stop-color="#000" stop-opacity="0.675"/><stop offset="1" stop-color="#000" stop-opacity="0.75"/></linearGradient>
<rect x="164.7" y="533.1" width="4.2" height="9.5" fill="url(#gg142)" filter="url(#b1)"/>
<linearGradient id="gg143" x1="0" y1="0" x2="0" y2="1"><stop offset="0" stop-color="#000" stop-opacity="0"/><stop offset="0.35" stop-color="#000" stop-opacity="0.3375"/><stop offset="0.7" stop-color="#000" stop-opacity="0.675"/><stop offset="1" stop-color="#000" stop-opacity="0.75"/></linearGradient>
<rect x="182.3" y="533.1" width="4.2" height="9.5" fill="url(#gg143)" filter="url(#b1)"/>
<linearGradient id="gg144" x1="0" y1="0" x2="0" y2="1"><stop offset="0" stop-color="#000" stop-opacity="0"/><stop offset="1" stop-color="#000" stop-opacity="0.1875"/></linearGradient>
<rect x="165.7" y="527.6" width="19.8" height="9.5" fill="url(#gg144)" filter="url(#b1)"/>
<linearGradient id="gg145" x1="0" y1="0" x2="0" y2="1"><stop offset="0" stop-color="#000" stop-opacity="0.06"/><stop offset="1" stop-color="#000" stop-opacity="0"/></linearGradient>
<rect x="165.7" y="542.1" width="19.8" height="10.5" fill="url(#gg145)" filter="url(#b1)"/>
<rect x="166.2" y="491.0" width="18.8" height="4.0" fill="#000" fill-opacity="0.080" filter="url(#b1)"/>
<rect x="166.2" y="473.5" width="18.8" height="4.0" fill="#000" fill-opacity="0.050" filter="url(#b1)"/>
<rect x="192.7" y="394.0" width="23.3" height="7.0" fill="#fff" fill-opacity="0.800" filter="url(#b1)"/>
<linearGradient id="gg146" x1="0" y1="0" x2="0" y2="1"><stop offset="0" stop-color="#000" stop-opacity="0.0"/><stop offset="0.6" stop-color="#000" stop-opacity="0.015"/><stop offset="0.88" stop-color="#000" stop-opacity="0.04"/><stop offset="1" stop-color="#000" stop-opacity="0.12"/></linearGradient>
<rect x="193.7" y="420.0" width="21.3" height="178.0" fill="url(#gg146)" filter="url(#b1)"/>
<rect x="193.2" y="598.5" width="22.3" height="11.5" fill="#000" fill-opacity="0.700" rx="2" filter="url(#b15)"/>
<linearGradient id="gg147" x1="0" y1="0" x2="0" y2="1"><stop offset="0" stop-color="#000" stop-opacity="0"/><stop offset="0.35" stop-color="#000" stop-opacity="0.315"/><stop offset="0.7" stop-color="#000" stop-opacity="0.63"/><stop offset="1" stop-color="#000" stop-opacity="0.7"/></linearGradient>
<rect x="192.7" y="593.5" width="4.2" height="16.5" fill="url(#gg147)" filter="url(#b1)"/>
<linearGradient id="gg148" x1="0" y1="0" x2="0" y2="1"><stop offset="0" stop-color="#000" stop-opacity="0"/><stop offset="0.35" stop-color="#000" stop-opacity="0.315"/><stop offset="0.7" stop-color="#000" stop-opacity="0.63"/><stop offset="1" stop-color="#000" stop-opacity="0.7"/></linearGradient>
<rect x="211.8" y="593.5" width="4.2" height="16.5" fill="url(#gg148)" filter="url(#b1)"/>
<linearGradient id="gg149" x1="0" y1="0" x2="0" y2="1"><stop offset="0" stop-color="#000" stop-opacity="0"/><stop offset="1" stop-color="#000" stop-opacity="0.175"/></linearGradient>
<rect x="193.7" y="588.5" width="21.3" height="11.5" fill="url(#gg149)" filter="url(#b1)"/>
<linearGradient id="gg150" x1="0" y1="0" x2="0" y2="1"><stop offset="0" stop-color="#000" stop-opacity="0.055999999999999994"/><stop offset="1" stop-color="#000" stop-opacity="0"/></linearGradient>
<rect x="193.7" y="609.5" width="21.3" height="10.5" fill="url(#gg150)" filter="url(#b1)"/>
<rect x="195.7" y="601.5" width="17.3" height="3.5" fill="#fff" fill-opacity="0.120" filter="url(#b1)"/>
<rect x="193.7" y="535.6" width="21.3" height="7.0" fill="#000" fill-opacity="0.800" rx="2" filter="url(#b15)"/>
<linearGradient id="gg151" x1="0" y1="0" x2="0" y2="1"><stop offset="0" stop-color="#000" stop-opacity="0"/><stop offset="0.35" stop-color="#000" stop-opacity="0.36000000000000004"/><stop offset="0.7" stop-color="#000" stop-opacity="0.7200000000000001"/><stop offset="1" stop-color="#000" stop-opacity="0.8"/></linearGradient>
<rect x="193.2" y="533.1" width="4.2" height="9.5" fill="url(#gg151)" filter="url(#b1)"/>
<linearGradient id="gg152" x1="0" y1="0" x2="0" y2="1"><stop offset="0" stop-color="#000" stop-opacity="0"/><stop offset="0.35" stop-color="#000" stop-opacity="0.36000000000000004"/><stop offset="0.7" stop-color="#000" stop-opacity="0.7200000000000001"/><stop offset="1" stop-color="#000" stop-opacity="0.8"/></linearGradient>
<rect x="211.3" y="533.1" width="4.2" height="9.5" fill="url(#gg152)" filter="url(#b1)"/>
<linearGradient id="gg153" x1="0" y1="0" x2="0" y2="1"><stop offset="0" stop-color="#000" stop-opacity="0"/><stop offset="1" stop-color="#000" stop-opacity="0.2"/></linearGradient>
<rect x="194.2" y="527.6" width="20.3" height="9.5" fill="url(#gg153)" filter="url(#b1)"/>
<linearGradient id="gg154" x1="0" y1="0" x2="0" y2="1"><stop offset="0" stop-color="#000" stop-opacity="0.064"/><stop offset="1" stop-color="#000" stop-opacity="0"/></linearGradient>
<rect x="194.2" y="542.1" width="20.3" height="10.5" fill="url(#gg154)" filter="url(#b1)"/>
<rect x="194.7" y="491.0" width="19.3" height="4.0" fill="#000" fill-opacity="0.140" filter="url(#b1)"/>
<rect x="194.7" y="473.5" width="19.3" height="4.0" fill="#000" fill-opacity="0.140" filter="url(#b1)"/>
<rect x="222.0" y="394.0" width="23.4" height="7.0" fill="#fff" fill-opacity="0.800" filter="url(#b1)"/>
<linearGradient id="gg155" x1="0" y1="0" x2="0" y2="1"><stop offset="0" stop-color="#000" stop-opacity="0.0"/><stop offset="0.6" stop-color="#000" stop-opacity="0.015"/><stop offset="0.88" stop-color="#000" stop-opacity="0.04"/><stop offset="1" stop-color="#000" stop-opacity="0.12"/></linearGradient>
<rect x="223.0" y="420.0" width="21.4" height="178.0" fill="url(#gg155)" filter="url(#b1)"/>
<rect x="222.5" y="598.5" width="22.4" height="11.5" fill="#000" fill-opacity="0.700" rx="2" filter="url(#b15)"/>
<linearGradient id="gg156" x1="0" y1="0" x2="0" y2="1"><stop offset="0" stop-color="#000" stop-opacity="0"/><stop offset="0.35" stop-color="#000" stop-opacity="0.315"/><stop offset="0.7" stop-color="#000" stop-opacity="0.63"/><stop offset="1" stop-color="#000" stop-opacity="0.7"/></linearGradient>
<rect x="222.0" y="593.5" width="4.2" height="16.5" fill="url(#gg156)" filter="url(#b1)"/>
<linearGradient id="gg157" x1="0" y1="0" x2="0" y2="1"><stop offset="0" stop-color="#000" stop-opacity="0"/><stop offset="0.35" stop-color="#000" stop-opacity="0.315"/><stop offset="0.7" stop-color="#000" stop-opacity="0.63"/><stop offset="1" stop-color="#000" stop-opacity="0.7"/></linearGradient>
<rect x="241.2" y="593.5" width="4.2" height="16.5" fill="url(#gg157)" filter="url(#b1)"/>
<linearGradient id="gg158" x1="0" y1="0" x2="0" y2="1"><stop offset="0" stop-color="#000" stop-opacity="0"/><stop offset="1" stop-color="#000" stop-opacity="0.175"/></linearGradient>
<rect x="223.0" y="588.5" width="21.4" height="11.5" fill="url(#gg158)" filter="url(#b1)"/>
<linearGradient id="gg159" x1="0" y1="0" x2="0" y2="1"><stop offset="0" stop-color="#000" stop-opacity="0.055999999999999994"/><stop offset="1" stop-color="#000" stop-opacity="0"/></linearGradient>
<rect x="223.0" y="609.5" width="21.4" height="10.5" fill="url(#gg159)" filter="url(#b1)"/>
<rect x="225.0" y="601.5" width="17.4" height="3.5" fill="#fff" fill-opacity="0.120" filter="url(#b1)"/>
<rect x="223.0" y="535.6" width="21.4" height="7.0" fill="#000" fill-opacity="0.800" rx="2" filter="url(#b15)"/>
<linearGradient id="gg160" x1="0" y1="0" x2="0" y2="1"><stop offset="0" stop-color="#000" stop-opacity="0"/><stop offset="0.35" stop-color="#000" stop-opacity="0.36000000000000004"/><stop offset="0.7" stop-color="#000" stop-opacity="0.7200000000000001"/><stop offset="1" stop-color="#000" stop-opacity="0.8"/></linearGradient>
<rect x="222.5" y="533.1" width="4.2" height="9.5" fill="url(#gg160)" filter="url(#b1)"/>
<linearGradient id="gg161" x1="0" y1="0" x2="0" y2="1"><stop offset="0" stop-color="#000" stop-opacity="0"/><stop offset="0.35" stop-color="#000" stop-opacity="0.36000000000000004"/><stop offset="0.7" stop-color="#000" stop-opacity="0.7200000000000001"/><stop offset="1" stop-color="#000" stop-opacity="0.8"/></linearGradient>
<rect x="240.7" y="533.1" width="4.2" height="9.5" fill="url(#gg161)" filter="url(#b1)"/>
<linearGradient id="gg162" x1="0" y1="0" x2="0" y2="1"><stop offset="0" stop-color="#000" stop-opacity="0"/><stop offset="1" stop-color="#000" stop-opacity="0.2"/></linearGradient>
<rect x="223.5" y="527.6" width="20.4" height="9.5" fill="url(#gg162)" filter="url(#b1)"/>
<linearGradient id="gg163" x1="0" y1="0" x2="0" y2="1"><stop offset="0" stop-color="#000" stop-opacity="0.064"/><stop offset="1" stop-color="#000" stop-opacity="0"/></linearGradient>
<rect x="223.5" y="542.1" width="20.4" height="10.5" fill="url(#gg163)" filter="url(#b1)"/>
<rect x="224.0" y="491.0" width="19.4" height="4.0" fill="#000" fill-opacity="0.160" filter="url(#b1)"/>
<rect x="224.0" y="473.5" width="19.4" height="4.0" fill="#000" fill-opacity="0.160" filter="url(#b1)"/>
<rect x="251.0" y="394.0" width="23.4" height="7.0" fill="#fff" fill-opacity="0.800" filter="url(#b1)"/>
<linearGradient id="gg164" x1="0" y1="0" x2="0" y2="1"><stop offset="0" stop-color="#000" stop-opacity="0.0"/><stop offset="0.6" stop-color="#000" stop-opacity="0.015"/><stop offset="0.88" stop-color="#000" stop-opacity="0.04"/><stop offset="1" stop-color="#000" stop-opacity="0.12"/></linearGradient>
<rect x="252.0" y="420.0" width="21.4" height="178.0" fill="url(#gg164)" filter="url(#b1)"/>
<rect x="251.5" y="598.5" width="22.4" height="11.5" fill="#000" fill-opacity="0.700" rx="2" filter="url(#b15)"/>
<linearGradient id="gg165" x1="0" y1="0" x2="0" y2="1"><stop offset="0" stop-color="#000" stop-opacity="0"/><stop offset="0.35" stop-color="#000" stop-opacity="0.315"/><stop offset="0.7" stop-color="#000" stop-opacity="0.63"/><stop offset="1" stop-color="#000" stop-opacity="0.7"/></linearGradient>
<rect x="251.0" y="593.5" width="4.2" height="16.5" fill="url(#gg165)" filter="url(#b1)"/>
<linearGradient id="gg166" x1="0" y1="0" x2="0" y2="1"><stop offset="0" stop-color="#000" stop-opacity="0"/><stop offset="0.35" stop-color="#000" stop-opacity="0.315"/><stop offset="0.7" stop-color="#000" stop-opacity="0.63"/><stop offset="1" stop-color="#000" stop-opacity="0.7"/></linearGradient>
<rect x="270.2" y="593.5" width="4.2" height="16.5" fill="url(#gg166)" filter="url(#b1)"/>
<linearGradient id="gg167" x1="0" y1="0" x2="0" y2="1"><stop offset="0" stop-color="#000" stop-opacity="0"/><stop offset="1" stop-color="#000" stop-opacity="0.175"/></linearGradient>
<rect x="252.0" y="588.5" width="21.4" height="11.5" fill="url(#gg167)" filter="url(#b1)"/>
<linearGradient id="gg168" x1="0" y1="0" x2="0" y2="1"><stop offset="0" stop-color="#000" stop-opacity="0.055999999999999994"/><stop offset="1" stop-color="#000" stop-opacity="0"/></linearGradient>
<rect x="252.0" y="609.5" width="21.4" height="10.5" fill="url(#gg168)" filter="url(#b1)"/>
<rect x="254.0" y="601.5" width="17.4" height="3.5" fill="#fff" fill-opacity="0.120" filter="url(#b1)"/>
<rect x="252.0" y="535.6" width="21.4" height="7.0" fill="#000" fill-opacity="0.800" rx="2" filter="url(#b15)"/>
<linearGradient id="gg169" x1="0" y1="0" x2="0" y2="1"><stop offset="0" stop-color="#000" stop-opacity="0"/><stop offset="0.35" stop-color="#000" stop-opacity="0.36000000000000004"/><stop offset="0.7" stop-color="#000" stop-opacity="0.7200000000000001"/><stop offset="1" stop-color="#000" stop-opacity="0.8"/></linearGradient>
<rect x="251.5" y="533.1" width="4.2" height="9.5" fill="url(#gg169)" filter="url(#b1)"/>
<linearGradient id="gg170" x1="0" y1="0" x2="0" y2="1"><stop offset="0" stop-color="#000" stop-opacity="0"/><stop offset="0.35" stop-color="#000" stop-opacity="0.36000000000000004"/><stop offset="0.7" stop-color="#000" stop-opacity="0.7200000000000001"/><stop offset="1" stop-color="#000" stop-opacity="0.8"/></linearGradient>
<rect x="269.7" y="533.1" width="4.2" height="9.5" fill="url(#gg170)" filter="url(#b1)"/>
<linearGradient id="gg171" x1="0" y1="0" x2="0" y2="1"><stop offset="0" stop-color="#000" stop-opacity="0"/><stop offset="1" stop-color="#000" stop-opacity="0.2"/></linearGradient>
<rect x="252.5" y="527.6" width="20.4" height="9.5" fill="url(#gg171)" filter="url(#b1)"/>
<linearGradient id="gg172" x1="0" y1="0" x2="0" y2="1"><stop offset="0" stop-color="#000" stop-opacity="0.064"/><stop offset="1" stop-color="#000" stop-opacity="0"/></linearGradient>
<rect x="252.5" y="542.1" width="20.4" height="10.5" fill="url(#gg172)" filter="url(#b1)"/>
<rect x="253.0" y="491.0" width="19.4" height="4.0" fill="#000" fill-opacity="0.180" filter="url(#b1)"/>
<rect x="253.0" y="473.5" width="19.4" height="4.0" fill="#000" fill-opacity="0.060" filter="url(#b1)"/>
<rect x="280.4" y="394.0" width="23.3" height="7.0" fill="#fff" fill-opacity="0.800" filter="url(#b1)"/>
<linearGradient id="gg173" x1="0" y1="0" x2="0" y2="1"><stop offset="0" stop-color="#000" stop-opacity="0.0"/><stop offset="0.6" stop-color="#000" stop-opacity="0.015"/><stop offset="0.88" stop-color="#000" stop-opacity="0.04"/><stop offset="1" stop-color="#000" stop-opacity="0.12"/></linearGradient>
<rect x="281.4" y="420.0" width="21.3" height="178.0" fill="url(#gg173)" filter="url(#b1)"/>
<rect x="280.9" y="598.5" width="22.3" height="11.5" fill="#000" fill-opacity="0.700" rx="2" filter="url(#b15)"/>
<linearGradient id="gg174" x1="0" y1="0" x2="0" y2="1"><stop offset="0" stop-color="#000" stop-opacity="0"/><stop offset="0.35" stop-color="#000" stop-opacity="0.315"/><stop offset="0.7" stop-color="#000" stop-opacity="0.63"/><stop offset="1" stop-color="#000" stop-opacity="0.7"/></linearGradient>
<rect x="280.4" y="593.5" width="4.2" height="16.5" fill="url(#gg174)" filter="url(#b1)"/>
<linearGradient id="gg175" x1="0" y1="0" x2="0" y2="1"><stop offset="0" stop-color="#000" stop-opacity="0"/><stop offset="0.35" stop-color="#000" stop-opacity="0.315"/><stop offset="0.7" stop-color="#000" stop-opacity="0.63"/><stop offset="1" stop-color="#000" stop-opacity="0.7"/></linearGradient>
<rect x="299.5" y="593.5" width="4.2" height="16.5" fill="url(#gg175)" filter="url(#b1)"/>
<linearGradient id="gg176" x1="0" y1="0" x2="0" y2="1"><stop offset="0" stop-color="#000" stop-opacity="0"/><stop offset="1" stop-color="#000" stop-opacity="0.175"/></linearGradient>
<rect x="281.4" y="588.5" width="21.3" height="11.5" fill="url(#gg176)" filter="url(#b1)"/>
<linearGradient id="gg177" x1="0" y1="0" x2="0" y2="1"><stop offset="0" stop-color="#000" stop-opacity="0.055999999999999994"/><stop offset="1" stop-color="#000" stop-opacity="0"/></linearGradient>
<rect x="281.4" y="609.5" width="21.3" height="10.5" fill="url(#gg177)" filter="url(#b1)"/>
<rect x="283.4" y="601.5" width="17.3" height="3.5" fill="#fff" fill-opacity="0.120" filter="url(#b1)"/>
<rect x="281.4" y="535.6" width="21.3" height="7.0" fill="#000" fill-opacity="0.850" rx="2" filter="url(#b15)"/>
<linearGradient id="gg178" x1="0" y1="0" x2="0" y2="1"><stop offset="0" stop-color="#000" stop-opacity="0"/><stop offset="0.35" stop-color="#000" stop-opacity="0.3825"/><stop offset="0.7" stop-color="#000" stop-opacity="0.765"/><stop offset="1" stop-color="#000" stop-opacity="0.85"/></linearGradient>
<rect x="280.9" y="533.1" width="4.2" height="9.5" fill="url(#gg178)" filter="url(#b1)"/>
<linearGradient id="gg179" x1="0" y1="0" x2="0" y2="1"><stop offset="0" stop-color="#000" stop-opacity="0"/><stop offset="0.35" stop-color="#000" stop-opacity="0.3825"/><stop offset="0.7" stop-color="#000" stop-opacity="0.765"/><stop offset="1" stop-color="#000" stop-opacity="0.85"/></linearGradient>
<rect x="299.0" y="533.1" width="4.2" height="9.5" fill="url(#gg179)" filter="url(#b1)"/>
<linearGradient id="gg180" x1="0" y1="0" x2="0" y2="1"><stop offset="0" stop-color="#000" stop-opacity="0"/><stop offset="1" stop-color="#000" stop-opacity="0.2125"/></linearGradient>
<rect x="281.9" y="527.6" width="20.3" height="9.5" fill="url(#gg180)" filter="url(#b1)"/>
<linearGradient id="gg181" x1="0" y1="0" x2="0" y2="1"><stop offset="0" stop-color="#000" stop-opacity="0.068"/><stop offset="1" stop-color="#000" stop-opacity="0"/></linearGradient>
<rect x="281.9" y="542.1" width="20.3" height="10.5" fill="url(#gg181)" filter="url(#b1)"/>
<rect x="282.4" y="491.0" width="19.3" height="4.0" fill="#000" fill-opacity="0.150" filter="url(#b1)"/>
<rect x="282.4" y="473.5" width="19.3" height="4.0" fill="#000" fill-opacity="0.030" filter="url(#b1)"/>
<rect x="308.8" y="394.0" width="23.9" height="7.0" fill="#fff" fill-opacity="0.800" filter="url(#b1)"/>
<linearGradient id="gg182" x1="0" y1="0" x2="0" y2="1"><stop offset="0" stop-color="#000" stop-opacity="0.0"/><stop offset="0.6" stop-color="#000" stop-opacity="0.015"/><stop offset="0.88" stop-color="#000" stop-opacity="0.04"/><stop offset="1" stop-color="#000" stop-opacity="0.12"/></linearGradient>
<rect x="309.8" y="420.0" width="21.9" height="178.0" fill="url(#gg182)" filter="url(#b1)"/>
<rect x="309.3" y="598.5" width="22.9" height="11.5" fill="#000" fill-opacity="0.700" rx="2" filter="url(#b15)"/>
<linearGradient id="gg183" x1="0" y1="0" x2="0" y2="1"><stop offset="0" stop-color="#000" stop-opacity="0"/><stop offset="0.35" stop-color="#000" stop-opacity="0.315"/><stop offset="0.7" stop-color="#000" stop-opacity="0.63"/><stop offset="1" stop-color="#000" stop-opacity="0.7"/></linearGradient>
<rect x="308.8" y="593.5" width="4.2" height="16.5" fill="url(#gg183)" filter="url(#b1)"/>
<linearGradient id="gg184" x1="0" y1="0" x2="0" y2="1"><stop offset="0" stop-color="#000" stop-opacity="0"/><stop offset="0.35" stop-color="#000" stop-opacity="0.315"/><stop offset="0.7" stop-color="#000" stop-opacity="0.63"/><stop offset="1" stop-color="#000" stop-opacity="0.7"/></linearGradient>
<rect x="328.5" y="593.5" width="4.2" height="16.5" fill="url(#gg184)" filter="url(#b1)"/>
<linearGradient id="gg185" x1="0" y1="0" x2="0" y2="1"><stop offset="0" stop-color="#000" stop-opacity="0"/><stop offset="1" stop-color="#000" stop-opacity="0.175"/></linearGradient>
<rect x="309.8" y="588.5" width="21.9" height="11.5" fill="url(#gg185)" filter="url(#b1)"/>
<linearGradient id="gg186" x1="0" y1="0" x2="0" y2="1"><stop offset="0" stop-color="#000" stop-opacity="0.055999999999999994"/><stop offset="1" stop-color="#000" stop-opacity="0"/></linearGradient>
<rect x="309.8" y="609.5" width="21.9" height="10.5" fill="url(#gg186)" filter="url(#b1)"/>
<rect x="311.8" y="601.5" width="17.9" height="3.5" fill="#fff" fill-opacity="0.120" filter="url(#b1)"/>
<rect x="309.8" y="535.6" width="21.9" height="7.0" fill="#000" fill-opacity="1.000" rx="2" filter="url(#b15)"/>
<linearGradient id="gg187" x1="0" y1="0" x2="0" y2="1"><stop offset="0" stop-color="#000" stop-opacity="0"/><stop offset="0.35" stop-color="#000" stop-opacity="0.45"/><stop offset="0.7" stop-color="#000" stop-opacity="0.9"/><stop offset="1" stop-color="#000" stop-opacity="1"/></linearGradient>
<rect x="309.3" y="533.1" width="4.2" height="9.5" fill="url(#gg187)" filter="url(#b1)"/>
<linearGradient id="gg188" x1="0" y1="0" x2="0" y2="1"><stop offset="0" stop-color="#000" stop-opacity="0"/><stop offset="0.35" stop-color="#000" stop-opacity="0.45"/><stop offset="0.7" stop-color="#000" stop-opacity="0.9"/><stop offset="1" stop-color="#000" stop-opacity="1"/></linearGradient>
<rect x="328.0" y="533.1" width="4.2" height="9.5" fill="url(#gg188)" filter="url(#b1)"/>
<linearGradient id="gg189" x1="0" y1="0" x2="0" y2="1"><stop offset="0" stop-color="#000" stop-opacity="0"/><stop offset="1" stop-color="#000" stop-opacity="0.25"/></linearGradient>
<rect x="310.3" y="527.6" width="20.9" height="9.5" fill="url(#gg189)" filter="url(#b1)"/>
<linearGradient id="gg190" x1="0" y1="0" x2="0" y2="1"><stop offset="0" stop-color="#000" stop-opacity="0.08"/><stop offset="1" stop-color="#000" stop-opacity="0"/></linearGradient>
<rect x="310.3" y="542.1" width="20.9" height="10.5" fill="url(#gg190)" filter="url(#b1)"/>
<rect x="310.8" y="491.0" width="19.9" height="4.0" fill="#000" fill-opacity="0.100" filter="url(#b1)"/>
<rect x="310.8" y="473.5" width="19.9" height="4.0" fill="#000" fill-opacity="0.020" filter="url(#b1)"/>
<linearGradient id="gg191" x1="0" y1="0" x2="0" y2="1"><stop offset="0" stop-color="#000" stop-opacity="0.012"/><stop offset="0.2" stop-color="#000" stop-opacity="0.02"/><stop offset="0.5" stop-color="#000" stop-opacity="0.01"/><stop offset="1" stop-color="#000" stop-opacity="0.0"/></linearGradient>
<rect x="252.0" y="401.0" width="21.4" height="49.0" fill="url(#gg191)" filter="url(#b2)"/>
<linearGradient id="gg192" x1="0" y1="0" x2="0" y2="1"><stop offset="0" stop-color="#000" stop-opacity="0.042"/><stop offset="0.2" stop-color="#000" stop-opacity="0.07"/><stop offset="0.5" stop-color="#000" stop-opacity="0.035"/><stop offset="1" stop-color="#000" stop-opacity="0.0"/></linearGradient>
<rect x="281.4" y="401.0" width="21.3" height="49.0" fill="url(#gg192)" filter="url(#b2)"/>
<linearGradient id="gg193" x1="0" y1="0" x2="0" y2="1"><stop offset="0" stop-color="#000" stop-opacity="0.048"/><stop offset="0.2" stop-color="#000" stop-opacity="0.08"/><stop offset="0.5" stop-color="#000" stop-opacity="0.04"/><stop offset="1" stop-color="#000" stop-opacity="0.0"/></linearGradient>
<rect x="309.8" y="401.0" width="21.9" height="49.0" fill="url(#gg193)" filter="url(#b2)"/>
<rect x="309.4" y="396.2" width="1.8" height="1.8" fill="#000" fill-opacity="1.000"/>
<rect x="34.0" y="392.0" width="309.6" height="235.6" fill="none" stroke="#7a7a7a" stroke-width="1.6"/>
<rect x="368.2" y="392.2" width="309.8" height="235.8" fill="#f5f5f5" fill-opacity="1.000"/>
<rect x="379.2" y="444.6" width="20.5" height="1.4" fill="#000" fill-opacity="0.970" rx="0.8" filter="url(#b05)"/>
<rect x="379.2" y="446.9" width="20.5" height="1.4" fill="#000" fill-opacity="0.970" rx="0.8" filter="url(#b05)"/>
<rect x="379.2" y="449.3" width="20.5" height="1.4" fill="#000" fill-opacity="0.970" rx="0.8" filter="url(#b05)"/>
<rect x="379.2" y="451.6" width="20.5" height="1.4" fill="#000" fill-opacity="0.970" rx="0.8" filter="url(#b05)"/>
<rect x="379.2" y="453.9" width="20.5" height="1.4" fill="#000" fill-opacity="0.970" rx="0.8" filter="url(#b05)"/>
<rect x="379.2" y="458.3" width="20.5" height="2.0" fill="#000" fill-opacity="0.970" rx="0.8" filter="url(#b05)"/>
<rect x="379.2" y="466.5" width="20.5" height="2.0" fill="#000" fill-opacity="0.970" rx="0.8" filter="url(#b05)"/>
<rect x="379.2" y="475.8" width="20.5" height="2.0" fill="#000" fill-opacity="0.970" rx="0.8" filter="url(#b05)"/>
<rect x="379.2" y="487.5" width="20.5" height="2.0" fill="#000" fill-opacity="0.970" rx="0.8" filter="url(#b05)"/>
<rect x="379.2" y="494.5" width="20.5" height="2.0" fill="#000" fill-opacity="0.970" rx="0.8" filter="url(#b05)"/>
<rect x="379.2" y="503.9" width="20.5" height="2.0" fill="#000" fill-opacity="0.970" rx="0.8" filter="url(#b05)"/>
<rect x="379.2" y="517.9" width="20.5" height="2.0" fill="#000" fill-opacity="0.970" rx="0.8" filter="url(#b05)"/>
<rect x="379.2" y="536.9" width="20.5" height="2.2" fill="#000" fill-opacity="0.970" rx="0.8" filter="url(#b05)"/>
<rect x="379.2" y="576.5" width="20.5" height="2.6" fill="#000" fill-opacity="0.970" rx="0.8" filter="url(#b05)"/>
<rect x="378.0" y="394.0" width="24.0" height="7.0" fill="#fff" fill-opacity="0.800" filter="url(#b1)"/>
<rect x="405.0" y="394.0" width="25.0" height="7.0" fill="#fff" fill-opacity="0.800" filter="url(#b1)"/>
<linearGradient id="gg194" x1="0" y1="0" x2="0" y2="1"><stop offset="0" stop-color="#000" stop-opacity="0.01"/><stop offset="0.5" stop-color="#000" stop-opacity="0.03"/><stop offset="1" stop-color="#000" stop-opacity="0.05"/></linearGradient>
<rect x="379.0" y="397.0" width="21.0" height="48.0" fill="url(#gg194)" filter="url(#b15)"/>
<rect x="433.6" y="394.0" width="25.7" height="7.0" fill="#fff" fill-opacity="0.800" filter="url(#b1)"/>
<linearGradient id="gg195" x1="0" y1="0" x2="0" y2="1"><stop offset="0" stop-color="#000" stop-opacity="0.0"/><stop offset="0.5" stop-color="#000" stop-opacity="0.04"/><stop offset="1" stop-color="#000" stop-opacity="0.12"/></linearGradient>
<rect x="434.6" y="440.0" width="23.7" height="158.0" fill="url(#gg195)" filter="url(#b1)"/>
<rect x="434.1" y="599.5" width="24.7" height="8.0" fill="#000" fill-opacity="1.000" rx="2" filter="url(#b1)"/>
<linearGradient id="gg196" x1="0" y1="0" x2="0" y2="1"><stop offset="0" stop-color="#000" stop-opacity="0"/><stop offset="0.35" stop-color="#000" stop-opacity="0.45"/><stop offset="0.7" stop-color="#000" stop-opacity="0.9"/><stop offset="1" stop-color="#000" stop-opacity="1"/></linearGradient>
<rect x="433.6" y="597.5" width="4.2" height="10.0" fill="url(#gg196)" filter="url(#b1)"/>
<linearGradient id="gg197" x1="0" y1="0" x2="0" y2="1"><stop offset="0" stop-color="#000" stop-opacity="0"/><stop offset="0.35" stop-color="#000" stop-opacity="0.45"/><stop offset="0.7" stop-color="#000" stop-opacity="0.9"/><stop offset="1" stop-color="#000" stop-opacity="1"/></linearGradient>
<rect x="455.1" y="597.5" width="4.2" height="10.0" fill="url(#gg197)" filter="url(#b1)"/>
<linearGradient id="gg198" x1="0" y1="0" x2="0" y2="1"><stop offset="0" stop-color="#000" stop-opacity="0"/><stop offset="1" stop-color="#000" stop-opacity="0.3"/></linearGradient>
<rect x="434.6" y="589.5" width="23.7" height="11.5" fill="url(#gg198)" filter="url(#b1)"/>
<linearGradient id="gg199" x1="0" y1="0" x2="0" y2="1"><stop offset="0" stop-color="#000" stop-opacity="0.08"/><stop offset="1" stop-color="#000" stop-opacity="0"/></linearGradient>
<rect x="434.6" y="607.0" width="23.7" height="10.5" fill="url(#gg199)" filter="url(#b1)"/>
<rect x="462.8" y="394.0" width="25.2" height="7.0" fill="#fff" fill-opacity="0.800" filter="url(#b1)"/>
<linearGradient id="gg200" x1="0" y1="0" x2="0" y2="1"><stop offset="0" stop-color="#000" stop-opacity="0.0"/><stop offset="0.5" stop-color="#000" stop-opacity="0.04"/><stop offset="1" stop-color="#000" stop-opacity="0.12"/></linearGradient>
<rect x="463.8" y="440.0" width="23.2" height="158.0" fill="url(#gg200)" filter="url(#b1)"/>
<rect x="463.3" y="599.5" width="24.2" height="8.0" fill="#000" fill-opacity="1.000" rx="2" filter="url(#b1)"/>
<linearGradient id="gg201" x1="0" y1="0" x2="0" y2="1"><stop offset="0" stop-color="#000" stop-opacity="0"/><stop offset="0.35" stop-color="#000" stop-opacity="0.45"/><stop offset="0.7" stop-color="#000" stop-opacity="0.9"/><stop offset="1" stop-color="#000" stop-opacity="1"/></linearGradient>
<rect x="462.8" y="597.5" width="4.2" height="10.0" fill="url(#gg201)" filter="url(#b1)"/>
<linearGradient id="gg202" x1="0" y1="0" x2="0" y2="1"><stop offset="0" stop-color="#000" stop-opacity="0"/><stop offset="0.35" stop-color="#000" stop-opacity="0.45"/><stop offset="0.7" stop-color="#000" stop-opacity="0.9"/><stop offset="1" stop-color="#000" stop-opacity="1"/></linearGradient>
<rect x="483.8" y="597.5" width="4.2" height="10.0" fill="url(#gg202)" filter="url(#b1)"/>
<linearGradient id="gg203" x1="0" y1="0" x2="0" y2="1"><stop offset="0" stop-color="#000" stop-opacity="0"/><stop offset="1" stop-color="#000" stop-opacity="0.3"/></linearGradient>
<rect x="463.8" y="589.5" width="23.2" height="11.5" fill="url(#gg203)" filter="url(#b1)"/>
<linearGradient id="gg204" x1="0" y1="0" x2="0" y2="1"><stop offset="0" stop-color="#000" stop-opacity="0.08"/><stop offset="1" stop-color="#000" stop-opacity="0"/></linearGradient>
<rect x="463.8" y="607.0" width="23.2" height="10.5" fill="url(#gg204)" filter="url(#b1)"/>
<rect x="464.3" y="564.5" width="22.2" height="5.5" fill="#000" fill-opacity="0.400" rx="2" filter="url(#b1)"/>
<linearGradient id="gg205" x1="0" y1="0" x2="0" y2="1"><stop offset="0" stop-color="#000" stop-opacity="0"/><stop offset="0.35" stop-color="#000" stop-opacity="0.18000000000000002"/><stop offset="0.7" stop-color="#000" stop-opacity="0.36000000000000004"/><stop offset="1" stop-color="#000" stop-opacity="0.4"/></linearGradient>
<rect x="463.8" y="562.5" width="4.2" height="7.5" fill="url(#gg205)" filter="url(#b1)"/>
<linearGradient id="gg206" x1="0" y1="0" x2="0" y2="1"><stop offset="0" stop-color="#000" stop-opacity="0"/><stop offset="0.35" stop-color="#000" stop-opacity="0.18000000000000002"/><stop offset="0.7" stop-color="#000" stop-opacity="0.36000000000000004"/><stop offset="1" stop-color="#000" stop-opacity="0.4"/></linearGradient>
<rect x="482.8" y="562.5" width="4.2" height="7.5" fill="url(#gg206)" filter="url(#b1)"/>
<linearGradient id="gg207" x1="0" y1="0" x2="0" y2="1"><stop offset="0" stop-color="#000" stop-opacity="0"/><stop offset="1" stop-color="#000" stop-opacity="0.12"/></linearGradient>
<rect x="464.8" y="556.5" width="21.2" height="9.5" fill="url(#gg207)" filter="url(#b1)"/>
<linearGradient id="gg208" x1="0" y1="0" x2="0" y2="1"><stop offset="0" stop-color="#000" stop-opacity="0.032"/><stop offset="1" stop-color="#000" stop-opacity="0"/></linearGradient>
<rect x="464.8" y="569.5" width="21.2" height="10.5" fill="url(#gg208)" filter="url(#b1)"/>
<rect x="463.8" y="505.0" width="23.2" height="5.5" fill="#000" fill-opacity="0.360" rx="2" filter="url(#b15)"/>
<linearGradient id="gg209" x1="0" y1="0" x2="0" y2="1"><stop offset="0" stop-color="#000" stop-opacity="0"/><stop offset="0.35" stop-color="#000" stop-opacity="0.162"/><stop offset="0.7" stop-color="#000" stop-opacity="0.324"/><stop offset="1" stop-color="#000" stop-opacity="0.36"/></linearGradient>
<rect x="463.3" y="502.0" width="4.2" height="8.5" fill="url(#gg209)" filter="url(#b1)"/>
<linearGradient id="gg210" x1="0" y1="0" x2="0" y2="1"><stop offset="0" stop-color="#000" stop-opacity="0"/><stop offset="0.35" stop-color="#000" stop-opacity="0.162"/><stop offset="0.7" stop-color="#000" stop-opacity="0.324"/><stop offset="1" stop-color="#000" stop-opacity="0.36"/></linearGradient>
<rect x="483.3" y="502.0" width="4.2" height="8.5" fill="url(#gg210)" filter="url(#b1)"/>
<linearGradient id="gg211" x1="0" y1="0" x2="0" y2="1"><stop offset="0" stop-color="#000" stop-opacity="0"/><stop offset="1" stop-color="#000" stop-opacity="0.126"/></linearGradient>
<rect x="464.3" y="491.0" width="22.2" height="15.5" fill="url(#gg211)" filter="url(#b1)"/>
<linearGradient id="gg212" x1="0" y1="0" x2="0" y2="1"><stop offset="0" stop-color="#000" stop-opacity="0.0288"/><stop offset="1" stop-color="#000" stop-opacity="0"/></linearGradient>
<rect x="464.3" y="510.0" width="22.2" height="10.5" fill="url(#gg212)" filter="url(#b1)"/>
<rect x="464.8" y="481.0" width="21.2" height="4.0" fill="#000" fill-opacity="0.080" filter="url(#b1)"/>
<linearGradient id="gg213" x1="0" y1="0" x2="0" y2="1"><stop offset="0" stop-color="#000" stop-opacity="0.0"/><stop offset="1" stop-color="#000" stop-opacity="0.05"/></linearGradient>
<rect x="463.8" y="440.0" width="23.2" height="65.0" fill="url(#gg213)" filter="url(#b1)"/>
<rect x="493.0" y="394.0" width="23.5" height="7.0" fill="#fff" fill-opacity="0.800" filter="url(#b1)"/>
<linearGradient id="gg214" x1="0" y1="0" x2="0" y2="1"><stop offset="0" stop-color="#000" stop-opacity="0.0"/><stop offset="0.5" stop-color="#000" stop-opacity="0.04"/><stop offset="1" stop-color="#000" stop-opacity="0.12"/></linearGradient>
<rect x="494.0" y="440.0" width="21.5" height="158.0" fill="url(#gg214)" filter="url(#b1)"/>
<rect x="493.5" y="599.5" width="22.5" height="8.0" fill="#000" fill-opacity="1.000" rx="2" filter="url(#b1)"/>
<linearGradient id="gg215" x1="0" y1="0" x2="0" y2="1"><stop offset="0" stop-color="#000" stop-opacity="0"/><stop offset="0.35" stop-color="#000" stop-opacity="0.45"/><stop offset="0.7" stop-color="#000" stop-opacity="0.9"/><stop offset="1" stop-color="#000" stop-opacity="1"/></linearGradient>
<rect x="493.0" y="597.5" width="4.2" height="10.0" fill="url(#gg215)" filter="url(#b1)"/>
<linearGradient id="gg216" x1="0" y1="0" x2="0" y2="1"><stop offset="0" stop-color="#000" stop-opacity="0"/><stop offset="0.35" stop-color="#000" stop-opacity="0.45"/><stop offset="0.7" stop-color="#000" stop-opacity="0.9"/><stop offset="1" stop-color="#000" stop-opacity="1"/></linearGradient>
<rect x="512.3" y="597.5" width="4.2" height="10.0" fill="url(#gg216)" filter="url(#b1)"/>
<linearGradient id="gg217" x1="0" y1="0" x2="0" y2="1"><stop offset="0" stop-color="#000" stop-opacity="0"/><stop offset="1" stop-color="#000" stop-opacity="0.3"/></linearGradient>
<rect x="494.0" y="589.5" width="21.5" height="11.5" fill="url(#gg217)" filter="url(#b1)"/>
<linearGradient id="gg218" x1="0" y1="0" x2="0" y2="1"><stop offset="0" stop-color="#000" stop-opacity="0.08"/><stop offset="1" stop-color="#000" stop-opacity="0"/></linearGradient>
<rect x="494.0" y="607.0" width="21.5" height="10.5" fill="url(#gg218)" filter="url(#b1)"/>
<rect x="494.5" y="564.5" width="20.5" height="5.5" fill="#000" fill-opacity="0.450" rx="2" filter="url(#b1)"/>
<linearGradient id="gg219" x1="0" y1="0" x2="0" y2="1"><stop offset="0" stop-color="#000" stop-opacity="0"/><stop offset="0.35" stop-color="#000" stop-opacity="0.2025"/><stop offset="0.7" stop-color="#000" stop-opacity="0.405"/><stop offset="1" stop-color="#000" stop-opacity="0.45"/></linearGradient>
<rect x="494.0" y="562.5" width="4.2" height="7.5" fill="url(#gg219)" filter="url(#b1)"/>
<linearGradient id="gg220" x1="0" y1="0" x2="0" y2="1"><stop offset="0" stop-color="#000" stop-opacity="0"/><stop offset="0.35" stop-color="#000" stop-opacity="0.2025"/><stop offset="0.7" stop-color="#000" stop-opacity="0.405"/><stop offset="1" stop-color="#000" stop-opacity="0.45"/></linearGradient>
<rect x="511.3" y="562.5" width="4.2" height="7.5" fill="url(#gg220)" filter="url(#b1)"/>
<linearGradient id="gg221" x1="0" y1="0" x2="0" y2="1"><stop offset="0" stop-color="#000" stop-opacity="0"/><stop offset="1" stop-color="#000" stop-opacity="0.135"/></linearGradient>
<rect x="495.0" y="556.5" width="19.5" height="9.5" fill="url(#gg221)" filter="url(#b1)"/>
<linearGradient id="gg222" x1="0" y1="0" x2="0" y2="1"><stop offset="0" stop-color="#000" stop-opacity="0.036000000000000004"/><stop offset="1" stop-color="#000" stop-opacity="0"/></linearGradient>
<rect x="495.0" y="569.5" width="19.5" height="10.5" fill="url(#gg222)" filter="url(#b1)"/>
<rect x="494.0" y="505.0" width="21.5" height="5.5" fill="#000" fill-opacity="0.360" rx="2" filter="url(#b15)"/>
<linearGradient id="gg223" x1="0" y1="0" x2="0" y2="1"><stop offset="0" stop-color="#000" stop-opacity="0"/><stop offset="0.35" stop-color="#000" stop-opacity="0.162"/><stop offset="0.7" stop-color="#000" stop-opacity="0.324"/><stop offset="1" stop-color="#000" stop-opacity="0.36"/></linearGradient>
<rect x="493.5" y="502.0" width="4.2" height="8.5" fill="url(#gg223)" filter="url(#b1)"/>
<linearGradient id="gg224" x1="0" y1="0" x2="0" y2="1"><stop offset="0" stop-color="#000" stop-opacity="0"/><stop offset="0.35" stop-color="#000" stop-opacity="0.162"/><stop offset="0.7" stop-color="#000" stop-opacity="0.324"/><stop offset="1" stop-color="#000" stop-opacity="0.36"/></linearGradient>
<rect x="511.8" y="502.0" width="4.2" height="8.5" fill="url(#gg224)" filter="url(#b1)"/>
<linearGradient id="gg225" x1="0" y1="0" x2="0" y2="1"><stop offset="0" stop-color="#000" stop-opacity="0"/><stop offset="1" stop-color="#000" stop-opacity="0.126"/></linearGradient>
<rect x="494.5" y="491.0" width="20.5" height="15.5" fill="url(#gg225)" filter="url(#b1)"/>
<linearGradient id="gg226" x1="0" y1="0" x2="0" y2="1"><stop offset="0" stop-color="#000" stop-opacity="0.0288"/><stop offset="1" stop-color="#000" stop-opacity="0"/></linearGradient>
<rect x="494.5" y="510.0" width="20.5" height="10.5" fill="url(#gg226)" filter="url(#b1)"/>
<rect x="495.0" y="481.0" width="19.5" height="4.0" fill="#000" fill-opacity="0.080" filter="url(#b1)"/>
<linearGradient id="gg227" x1="0" y1="0" x2="0" y2="1"><stop offset="0" stop-color="#000" stop-opacity="0.0"/><stop offset="1" stop-color="#000" stop-opacity="0.05"/></linearGradient>
<rect x="494.0" y="440.0" width="21.5" height="65.0" fill="url(#gg227)" filter="url(#b1)"/>
<rect x="523.4" y="394.0" width="23.6" height="7.0" fill="#fff" fill-opacity="0.800" filter="url(#b1)"/>
<linearGradient id="gg228" x1="0" y1="0" x2="0" y2="1"><stop offset="0" stop-color="#000" stop-opacity="0.0"/><stop offset="0.5" stop-color="#000" stop-opacity="0.04"/><stop offset="1" stop-color="#000" stop-opacity="0.12"/></linearGradient>
<rect x="524.4" y="440.0" width="21.6" height="158.0" fill="url(#gg228)" filter="url(#b1)"/>
<rect x="523.9" y="599.5" width="22.6" height="8.0" fill="#000" fill-opacity="1.000" rx="2" filter="url(#b1)"/>
<linearGradient id="gg229" x1="0" y1="0" x2="0" y2="1"><stop offset="0" stop-color="#000" stop-opacity="0"/><stop offset="0.35" stop-color="#000" stop-opacity="0.45"/><stop offset="0.7" stop-color="#000" stop-opacity="0.9"/><stop offset="1" stop-color="#000" stop-opacity="1"/></linearGradient>
<rect x="523.4" y="597.5" width="4.2" height="10.0" fill="url(#gg229)" filter="url(#b1)"/>
<linearGradient id="gg230" x1="0" y1="0" x2="0" y2="1"><stop offset="0" stop-color="#000" stop-opacity="0"/><stop offset="0.35" stop-color="#000" stop-opacity="0.45"/><stop offset="0.7" stop-color="#000" stop-opacity="0.9"/><stop offset="1" stop-color="#000" stop-opacity="1"/></linearGradient>
<rect x="542.8" y="597.5" width="4.2" height="10.0" fill="url(#gg230)" filter="url(#b1)"/>
<linearGradient id="gg231" x1="0" y1="0" x2="0" y2="1"><stop offset="0" stop-color="#000" stop-opacity="0"/><stop offset="1" stop-color="#000" stop-opacity="0.3"/></linearGradient>
<rect x="524.4" y="589.5" width="21.6" height="11.5" fill="url(#gg231)" filter="url(#b1)"/>
<linearGradient id="gg232" x1="0" y1="0" x2="0" y2="1"><stop offset="0" stop-color="#000" stop-opacity="0.08"/><stop offset="1" stop-color="#000" stop-opacity="0"/></linearGradient>
<rect x="524.4" y="607.0" width="21.6" height="10.5" fill="url(#gg232)" filter="url(#b1)"/>
<rect x="524.9" y="564.5" width="20.6" height="5.5" fill="#000" fill-opacity="0.520" rx="2" filter="url(#b1)"/>
<linearGradient id="gg233" x1="0" y1="0" x2="0" y2="1"><stop offset="0" stop-color="#000" stop-opacity="0"/><stop offset="0.35" stop-color="#000" stop-opacity="0.234"/><stop offset="0.7" stop-color="#000" stop-opacity="0.468"/><stop offset="1" stop-color="#000" stop-opacity="0.52"/></linearGradient>
<rect x="524.4" y="562.5" width="4.2" height="7.5" fill="url(#gg233)" filter="url(#b1)"/>
<linearGradient id="gg234" x1="0" y1="0" x2="0" y2="1"><stop offset="0" stop-color="#000" stop-opacity="0"/><stop offset="0.35" stop-color="#000" stop-opacity="0.234"/><stop offset="0.7" stop-color="#000" stop-opacity="0.468"/><stop offset="1" stop-color="#000" stop-opacity="0.52"/></linearGradient>
<rect x="541.8" y="562.5" width="4.2" height="7.5" fill="url(#gg234)" filter="url(#b1)"/>
<linearGradient id="gg235" x1="0" y1="0" x2="0" y2="1"><stop offset="0" stop-color="#000" stop-opacity="0"/><stop offset="1" stop-color="#000" stop-opacity="0.156"/></linearGradient>
<rect x="525.4" y="556.5" width="19.6" height="9.5" fill="url(#gg235)" filter="url(#b1)"/>
<linearGradient id="gg236" x1="0" y1="0" x2="0" y2="1"><stop offset="0" stop-color="#000" stop-opacity="0.041600000000000005"/><stop offset="1" stop-color="#000" stop-opacity="0"/></linearGradient>
<rect x="525.4" y="569.5" width="19.6" height="10.5" fill="url(#gg236)" filter="url(#b1)"/>
<rect x="524.4" y="505.0" width="21.6" height="5.5" fill="#000" fill-opacity="0.380" rx="2" filter="url(#b15)"/>
<linearGradient id="gg237" x1="0" y1="0" x2="0" y2="1"><stop offset="0" stop-color="#000" stop-opacity="0"/><stop offset="0.35" stop-color="#000" stop-opacity="0.171"/><stop offset="0.7" stop-color="#000" stop-opacity="0.342"/><stop offset="1" stop-color="#000" stop-opacity="0.38"/></linearGradient>
<rect x="523.9" y="502.0" width="4.2" height="8.5" fill="url(#gg237)" filter="url(#b1)"/>
<linearGradient id="gg238" x1="0" y1="0" x2="0" y2="1"><stop offset="0" stop-color="#000" stop-opacity="0"/><stop offset="0.35" stop-color="#000" stop-opacity="0.171"/><stop offset="0.7" stop-color="#000" stop-opacity="0.342"/><stop offset="1" stop-color="#000" stop-opacity="0.38"/></linearGradient>
<rect x="542.3" y="502.0" width="4.2" height="8.5" fill="url(#gg238)" filter="url(#b1)"/>
<linearGradient id="gg239" x1="0" y1="0" x2="0" y2="1"><stop offset="0" stop-color="#000" stop-opacity="0"/><stop offset="1" stop-color="#000" stop-opacity="0.13299999999999998"/></linearGradient>
<rect x="524.9" y="491.0" width="20.6" height="15.5" fill="url(#gg239)" filter="url(#b1)"/>
<linearGradient id="gg240" x1="0" y1="0" x2="0" y2="1"><stop offset="0" stop-color="#000" stop-opacity="0.0304"/><stop offset="1" stop-color="#000" stop-opacity="0"/></linearGradient>
<rect x="524.9" y="510.0" width="20.6" height="10.5" fill="url(#gg240)" filter="url(#b1)"/>
<rect x="525.4" y="481.0" width="19.6" height="4.0" fill="#000" fill-opacity="0.080" filter="url(#b1)"/>
<linearGradient id="gg241" x1="0" y1="0" x2="0" y2="1"><stop offset="0" stop-color="#000" stop-opacity="0.0"/><stop offset="1" stop-color="#000" stop-opacity="0.05"/></linearGradient>
<rect x="524.4" y="440.0" width="21.6" height="65.0" fill="url(#gg241)" filter="url(#b1)"/>
<rect x="553.6" y="394.0" width="22.9" height="7.0" fill="#fff" fill-opacity="0.800" filter="url(#b1)"/>
<linearGradient id="gg242" x1="0" y1="0" x2="0" y2="1"><stop offset="0" stop-color="#000" stop-opacity="0.0"/><stop offset="0.5" stop-color="#000" stop-opacity="0.04"/><stop offset="1" stop-color="#000" stop-opacity="0.12"/></linearGradient>
<rect x="554.6" y="440.0" width="20.9" height="158.0" fill="url(#gg242)" filter="url(#b1)"/>
<rect x="554.1" y="599.5" width="21.9" height="8.0" fill="#000" fill-opacity="0.950" rx="2" filter="url(#b1)"/>
<linearGradient id="gg243" x1="0" y1="0" x2="0" y2="1"><stop offset="0" stop-color="#000" stop-opacity="0"/><stop offset="0.35" stop-color="#000" stop-opacity="0.4275"/><stop offset="0.7" stop-color="#000" stop-opacity="0.855"/><stop offset="1" stop-color="#000" stop-opacity="0.95"/></linearGradient>
<rect x="553.6" y="597.5" width="4.2" height="10.0" fill="url(#gg243)" filter="url(#b1)"/>
<linearGradient id="gg244" x1="0" y1="0" x2="0" y2="1"><stop offset="0" stop-color="#000" stop-opacity="0"/><stop offset="0.35" stop-color="#000" stop-opacity="0.4275"/><stop offset="0.7" stop-color="#000" stop-opacity="0.855"/><stop offset="1" stop-color="#000" stop-opacity="0.95"/></linearGradient>
<rect x="572.3" y="597.5" width="4.2" height="10.0" fill="url(#gg244)" filter="url(#b1)"/>
<linearGradient id="gg245" x1="0" y1="0" x2="0" y2="1"><stop offset="0" stop-color="#000" stop-opacity="0"/><stop offset="1" stop-color="#000" stop-opacity="0.285"/></linearGradient>
<rect x="554.6" y="589.5" width="20.9" height="11.5" fill="url(#gg245)" filter="url(#b1)"/>
<linearGradient id="gg246" x1="0" y1="0" x2="0" y2="1"><stop offset="0" stop-color="#000" stop-opacity="0.076"/><stop offset="1" stop-color="#000" stop-opacity="0"/></linearGradient>
<rect x="554.6" y="607.0" width="20.9" height="10.5" fill="url(#gg246)" filter="url(#b1)"/>
<rect x="555.1" y="564.5" width="19.9" height="5.5" fill="#000" fill-opacity="0.680" rx="2" filter="url(#b1)"/>
<linearGradient id="gg247" x1="0" y1="0" x2="0" y2="1"><stop offset="0" stop-color="#000" stop-opacity="0"/><stop offset="0.35" stop-color="#000" stop-opacity="0.30600000000000005"/><stop offset="0.7" stop-color="#000" stop-opacity="0.6120000000000001"/><stop offset="1" stop-color="#000" stop-opacity="0.68"/></linearGradient>
<rect x="554.6" y="562.5" width="4.2" height="7.5" fill="url(#gg247)" filter="url(#b1)"/>
<linearGradient id="gg248" x1="0" y1="0" x2="0" y2="1"><stop offset="0" stop-color="#000" stop-opacity="0"/><stop offset="0.35" stop-color="#000" stop-opacity="0.30600000000000005"/><stop offset="0.7" stop-color="#000" stop-opacity="0.6120000000000001"/><stop offset="1" stop-color="#000" stop-opacity="0.68"/></linearGradient>
<rect x="571.3" y="562.5" width="4.2" height="7.5" fill="url(#gg248)" filter="url(#b1)"/>
<linearGradient id="gg249" x1="0" y1="0" x2="0" y2="1"><stop offset="0" stop-color="#000" stop-opacity="0"/><stop offset="1" stop-color="#000" stop-opacity="0.20400000000000001"/></linearGradient>
<rect x="555.6" y="556.5" width="18.9" height="9.5" fill="url(#gg249)" filter="url(#b1)"/>
<linearGradient id="gg250" x1="0" y1="0" x2="0" y2="1"><stop offset="0" stop-color="#000" stop-opacity="0.054400000000000004"/><stop offset="1" stop-color="#000" stop-opacity="0"/></linearGradient>
<rect x="555.6" y="569.5" width="18.9" height="10.5" fill="url(#gg250)" filter="url(#b1)"/>
<rect x="554.6" y="505.0" width="20.9" height="5.5" fill="#000" fill-opacity="0.380" rx="2" filter="url(#b15)"/>
<linearGradient id="gg251" x1="0" y1="0" x2="0" y2="1"><stop offset="0" stop-color="#000" stop-opacity="0"/><stop offset="0.35" stop-color="#000" stop-opacity="0.171"/><stop offset="0.7" stop-color="#000" stop-opacity="0.342"/><stop offset="1" stop-color="#000" stop-opacity="0.38"/></linearGradient>
<rect x="554.1" y="502.0" width="4.2" height="8.5" fill="url(#gg251)" filter="url(#b1)"/>
<linearGradient id="gg252" x1="0" y1="0" x2="0" y2="1"><stop offset="0" stop-color="#000" stop-opacity="0"/><stop offset="0.35" stop-color="#000" stop-opacity="0.171"/><stop offset="0.7" stop-color="#000" stop-opacity="0.342"/><stop offset="1" stop-color="#000" stop-opacity="0.38"/></linearGradient>
<rect x="571.8" y="502.0" width="4.2" height="8.5" fill="url(#gg252)" filter="url(#b1)"/>
<linearGradient id="gg253" x1="0" y1="0" x2="0" y2="1"><stop offset="0" stop-color="#000" stop-opacity="0"/><stop offset="1" stop-color="#000" stop-opacity="0.13299999999999998"/></linearGradient>
<rect x="555.1" y="491.0" width="19.9" height="15.5" fill="url(#gg253)" filter="url(#b1)"/>
<linearGradient id="gg254" x1="0" y1="0" x2="0" y2="1"><stop offset="0" stop-color="#000" stop-opacity="0.0304"/><stop offset="1" stop-color="#000" stop-opacity="0"/></linearGradient>
<rect x="555.1" y="510.0" width="19.9" height="10.5" fill="url(#gg254)" filter="url(#b1)"/>
<rect x="555.6" y="481.0" width="18.9" height="4.0" fill="#000" fill-opacity="0.080" filter="url(#b1)"/>
<linearGradient id="gg255" x1="0" y1="0" x2="0" y2="1"><stop offset="0" stop-color="#000" stop-opacity="0.0"/><stop offset="1" stop-color="#000" stop-opacity="0.05"/></linearGradient>
<rect x="554.6" y="440.0" width="20.9" height="65.0" fill="url(#gg255)" filter="url(#b1)"/>
<rect x="583.8" y="394.0" width="22.2" height="7.0" fill="#fff" fill-opacity="0.800" filter="url(#b1)"/>
<linearGradient id="gg256" x1="0" y1="0" x2="0" y2="1"><stop offset="0" stop-color="#000" stop-opacity="0.0"/><stop offset="0.5" stop-color="#000" stop-opacity="0.04"/><stop offset="1" stop-color="#000" stop-opacity="0.12"/></linearGradient>
<rect x="584.8" y="440.0" width="20.2" height="158.0" fill="url(#gg256)" filter="url(#b1)"/>
<rect x="584.3" y="599.5" width="21.2" height="8.0" fill="#000" fill-opacity="0.420" rx="2" filter="url(#b1)"/>
<linearGradient id="gg257" x1="0" y1="0" x2="0" y2="1"><stop offset="0" stop-color="#000" stop-opacity="0"/><stop offset="0.35" stop-color="#000" stop-opacity="0.189"/><stop offset="0.7" stop-color="#000" stop-opacity="0.378"/><stop offset="1" stop-color="#000" stop-opacity="0.42"/></linearGradient>
<rect x="583.8" y="597.5" width="4.2" height="10.0" fill="url(#gg257)" filter="url(#b1)"/>
<linearGradient id="gg258" x1="0" y1="0" x2="0" y2="1"><stop offset="0" stop-color="#000" stop-opacity="0"/><stop offset="0.35" stop-color="#000" stop-opacity="0.189"/><stop offset="0.7" stop-color="#000" stop-opacity="0.378"/><stop offset="1" stop-color="#000" stop-opacity="0.42"/></linearGradient>
<rect x="601.8" y="597.5" width="4.2" height="10.0" fill="url(#gg258)" filter="url(#b1)"/>
<linearGradient id="gg259" x1="0" y1="0" x2="0" y2="1"><stop offset="0" stop-color="#000" stop-opacity="0"/><stop offset="1" stop-color="#000" stop-opacity="0.126"/></linearGradient>
<rect x="584.8" y="589.5" width="20.2" height="11.5" fill="url(#gg259)" filter="url(#b1)"/>
<linearGradient id="gg260" x1="0" y1="0" x2="0" y2="1"><stop offset="0" stop-color="#000" stop-opacity="0.0336"/><stop offset="1" stop-color="#000" stop-opacity="0"/></linearGradient>
<rect x="584.8" y="607.0" width="20.2" height="10.5" fill="url(#gg260)" filter="url(#b1)"/>
<rect x="585.3" y="564.5" width="19.2" height="5.5" fill="#000" fill-opacity="0.920" rx="2" filter="url(#b1)"/>
<linearGradient id="gg261" x1="0" y1="0" x2="0" y2="1"><stop offset="0" stop-color="#000" stop-opacity="0"/><stop offset="0.35" stop-color="#000" stop-opacity="0.41400000000000003"/><stop offset="0.7" stop-color="#000" stop-opacity="0.8280000000000001"/><stop offset="1" stop-color="#000" stop-opacity="0.92"/></linearGradient>
<rect x="584.8" y="562.5" width="4.2" height="7.5" fill="url(#gg261)" filter="url(#b1)"/>
<linearGradient id="gg262" x1="0" y1="0" x2="0" y2="1"><stop offset="0" stop-color="#000" stop-opacity="0"/><stop offset="0.35" stop-color="#000" stop-opacity="0.41400000000000003"/><stop offset="0.7" stop-color="#000" stop-opacity="0.8280000000000001"/><stop offset="1" stop-color="#000" stop-opacity="0.92"/></linearGradient>
<rect x="600.8" y="562.5" width="4.2" height="7.5" fill="url(#gg262)" filter="url(#b1)"/>
<linearGradient id="gg263" x1="0" y1="0" x2="0" y2="1"><stop offset="0" stop-color="#000" stop-opacity="0"/><stop offset="1" stop-color="#000" stop-opacity="0.276"/></linearGradient>
<rect x="585.8" y="556.5" width="18.2" height="9.5" fill="url(#gg263)" filter="url(#b1)"/>
<linearGradient id="gg264" x1="0" y1="0" x2="0" y2="1"><stop offset="0" stop-color="#000" stop-opacity="0.0736"/><stop offset="1" stop-color="#000" stop-opacity="0"/></linearGradient>
<rect x="585.8" y="569.5" width="18.2" height="10.5" fill="url(#gg264)" filter="url(#b1)"/>
<rect x="584.8" y="505.0" width="20.2" height="5.5" fill="#000" fill-opacity="0.360" rx="2" filter="url(#b15)"/>
<linearGradient id="gg265" x1="0" y1="0" x2="0" y2="1"><stop offset="0" stop-color="#000" stop-opacity="0"/><stop offset="0.35" stop-color="#000" stop-opacity="0.162"/><stop offset="0.7" stop-color="#000" stop-opacity="0.324"/><stop offset="1" stop-color="#000" stop-opacity="0.36"/></linearGradient>
<rect x="584.3" y="502.0" width="4.2" height="8.5" fill="url(#gg265)" filter="url(#b1)"/>
<linearGradient id="gg266" x1="0" y1="0" x2="0" y2="1"><stop offset="0" stop-color="#000" stop-opacity="0"/><stop offset="0.35" stop-color="#000" stop-opacity="0.162"/><stop offset="0.7" stop-color="#000" stop-opacity="0.324"/><stop offset="1" stop-color="#000" stop-opacity="0.36"/></linearGradient>
<rect x="601.3" y="502.0" width="4.2" height="8.5" fill="url(#gg266)" filter="url(#b1)"/>
<linearGradient id="gg267" x1="0" y1="0" x2="0" y2="1"><stop offset="0" stop-color="#000" stop-opacity="0"/><stop offset="1" stop-color="#000" stop-opacity="0.126"/></linearGradient>
<rect x="585.3" y="491.0" width="19.2" height="15.5" fill="url(#gg267)" filter="url(#b1)"/>
<linearGradient id="gg268" x1="0" y1="0" x2="0" y2="1"><stop offset="0" stop-color="#000" stop-opacity="0.0288"/><stop offset="1" stop-color="#000" stop-opacity="0"/></linearGradient>
<rect x="585.3" y="510.0" width="19.2" height="10.5" fill="url(#gg268)" filter="url(#b1)"/>
<rect x="585.8" y="481.0" width="18.2" height="4.0" fill="#000" fill-opacity="0.080" filter="url(#b1)"/>
<linearGradient id="gg269" x1="0" y1="0" x2="0" y2="1"><stop offset="0" stop-color="#000" stop-opacity="0.0"/><stop offset="1" stop-color="#000" stop-opacity="0.05"/></linearGradient>
<rect x="584.8" y="440.0" width="20.2" height="65.0" fill="url(#gg269)" filter="url(#b1)"/>
<rect x="613.2" y="394.0" width="22.8" height="7.0" fill="#fff" fill-opacity="0.800" filter="url(#b1)"/>
<linearGradient id="gg270" x1="0" y1="0" x2="0" y2="1"><stop offset="0" stop-color="#000" stop-opacity="0.0"/><stop offset="0.5" stop-color="#000" stop-opacity="0.04"/><stop offset="1" stop-color="#000" stop-opacity="0.12"/></linearGradient>
<rect x="614.2" y="440.0" width="20.8" height="158.0" fill="url(#gg270)" filter="url(#b1)"/>
<rect x="613.7" y="599.5" width="21.8" height="8.0" fill="#000" fill-opacity="0.260" rx="2" filter="url(#b1)"/>
<linearGradient id="gg271" x1="0" y1="0" x2="0" y2="1"><stop offset="0" stop-color="#000" stop-opacity="0"/><stop offset="0.35" stop-color="#000" stop-opacity="0.117"/><stop offset="0.7" stop-color="#000" stop-opacity="0.234"/><stop offset="1" stop-color="#000" stop-opacity="0.26"/></linearGradient>
<rect x="613.2" y="597.5" width="4.2" height="10.0" fill="url(#gg271)" filter="url(#b1)"/>
<linearGradient id="gg272" x1="0" y1="0" x2="0" y2="1"><stop offset="0" stop-color="#000" stop-opacity="0"/><stop offset="0.35" stop-color="#000" stop-opacity="0.117"/><stop offset="0.7" stop-color="#000" stop-opacity="0.234"/><stop offset="1" stop-color="#000" stop-opacity="0.26"/></linearGradient>
<rect x="631.8" y="597.5" width="4.2" height="10.0" fill="url(#gg272)" filter="url(#b1)"/>
<linearGradient id="gg273" x1="0" y1="0" x2="0" y2="1"><stop offset="0" stop-color="#000" stop-opacity="0"/><stop offset="1" stop-color="#000" stop-opacity="0.078"/></linearGradient>
<rect x="614.2" y="589.5" width="20.8" height="11.5" fill="url(#gg273)" filter="url(#b1)"/>
<linearGradient id="gg274" x1="0" y1="0" x2="0" y2="1"><stop offset="0" stop-color="#000" stop-opacity="0.020800000000000003"/><stop offset="1" stop-color="#000" stop-opacity="0"/></linearGradient>
<rect x="614.2" y="607.0" width="20.8" height="10.5" fill="url(#gg274)" filter="url(#b1)"/>
<rect x="614.7" y="564.5" width="19.8" height="5.5" fill="#000" fill-opacity="1.000" rx="2" filter="url(#b1)"/>
<linearGradient id="gg275" x1="0" y1="0" x2="0" y2="1"><stop offset="0" stop-color="#000" stop-opacity="0"/><stop offset="0.35" stop-color="#000" stop-opacity="0.45"/><stop offset="0.7" stop-color="#000" stop-opacity="0.9"/><stop offset="1" stop-color="#000" stop-opacity="1"/></linearGradient>
<rect x="614.2" y="562.5" width="4.2" height="7.5" fill="url(#gg275)" filter="url(#b1)"/>
<linearGradient id="gg276" x1="0" y1="0" x2="0" y2="1"><stop offset="0" stop-color="#000" stop-opacity="0"/><stop offset="0.35" stop-color="#000" stop-opacity="0.45"/><stop offset="0.7" stop-color="#000" stop-opacity="0.9"/><stop offset="1" stop-color="#000" stop-opacity="1"/></linearGradient>
<rect x="630.8" y="562.5" width="4.2" height="7.5" fill="url(#gg276)" filter="url(#b1)"/>
<linearGradient id="gg277" x1="0" y1="0" x2="0" y2="1"><stop offset="0" stop-color="#000" stop-opacity="0"/><stop offset="1" stop-color="#000" stop-opacity="0.3"/></linearGradient>
<rect x="615.2" y="556.5" width="18.8" height="9.5" fill="url(#gg277)" filter="url(#b1)"/>
<linearGradient id="gg278" x1="0" y1="0" x2="0" y2="1"><stop offset="0" stop-color="#000" stop-opacity="0.08"/><stop offset="1" stop-color="#000" stop-opacity="0"/></linearGradient>
<rect x="615.2" y="569.5" width="18.8" height="10.5" fill="url(#gg278)" filter="url(#b1)"/>
<rect x="614.2" y="505.0" width="20.8" height="5.5" fill="#000" fill-opacity="0.300" rx="2" filter="url(#b15)"/>
<linearGradient id="gg279" x1="0" y1="0" x2="0" y2="1"><stop offset="0" stop-color="#000" stop-opacity="0"/><stop offset="0.35" stop-color="#000" stop-opacity="0.135"/><stop offset="0.7" stop-color="#000" stop-opacity="0.27"/><stop offset="1" stop-color="#000" stop-opacity="0.3"/></linearGradient>
<rect x="613.7" y="502.0" width="4.2" height="8.5" fill="url(#gg279)" filter="url(#b1)"/>
<linearGradient id="gg280" x1="0" y1="0" x2="0" y2="1"><stop offset="0" stop-color="#000" stop-opacity="0"/><stop offset="0.35" stop-color="#000" stop-opacity="0.135"/><stop offset="0.7" stop-color="#000" stop-opacity="0.27"/><stop offset="1" stop-color="#000" stop-opacity="0.3"/></linearGradient>
<rect x="631.3" y="502.0" width="4.2" height="8.5" fill="url(#gg280)" filter="url(#b1)"/>
<linearGradient id="gg281" x1="0" y1="0" x2="0" y2="1"><stop offset="0" stop-color="#000" stop-opacity="0"/><stop offset="1" stop-color="#000" stop-opacity="0.105"/></linearGradient>
<rect x="614.7" y="491.0" width="19.8" height="15.5" fill="url(#gg281)" filter="url(#b1)"/>
<linearGradient id="gg282" x1="0" y1="0" x2="0" y2="1"><stop offset="0" stop-color="#000" stop-opacity="0.024"/><stop offset="1" stop-color="#000" stop-opacity="0"/></linearGradient>
<rect x="614.7" y="510.0" width="19.8" height="10.5" fill="url(#gg282)" filter="url(#b1)"/>
<rect x="615.2" y="481.0" width="18.8" height="4.0" fill="#000" fill-opacity="0.080" filter="url(#b1)"/>
<linearGradient id="gg283" x1="0" y1="0" x2="0" y2="1"><stop offset="0" stop-color="#000" stop-opacity="0.0"/><stop offset="1" stop-color="#000" stop-opacity="0.05"/></linearGradient>
<rect x="614.2" y="440.0" width="20.8" height="65.0" fill="url(#gg283)" filter="url(#b1)"/>
<rect x="643.0" y="394.0" width="22.3" height="7.0" fill="#fff" fill-opacity="0.800" filter="url(#b1)"/>
<linearGradient id="gg284" x1="0" y1="0" x2="0" y2="1"><stop offset="0" stop-color="#000" stop-opacity="0.0"/><stop offset="0.5" stop-color="#000" stop-opacity="0.04"/><stop offset="1" stop-color="#000" stop-opacity="0.12"/></linearGradient>
<rect x="644.0" y="440.0" width="20.3" height="158.0" fill="url(#gg284)" filter="url(#b1)"/>
<rect x="643.5" y="599.5" width="21.3" height="8.0" fill="#000" fill-opacity="0.220" rx="2" filter="url(#b1)"/>
<linearGradient id="gg285" x1="0" y1="0" x2="0" y2="1"><stop offset="0" stop-color="#000" stop-opacity="0"/><stop offset="0.35" stop-color="#000" stop-opacity="0.099"/><stop offset="0.7" stop-color="#000" stop-opacity="0.198"/><stop offset="1" stop-color="#000" stop-opacity="0.22"/></linearGradient>
<rect x="643.0" y="597.5" width="4.2" height="10.0" fill="url(#gg285)" filter="url(#b1)"/>
<linearGradient id="gg286" x1="0" y1="0" x2="0" y2="1"><stop offset="0" stop-color="#000" stop-opacity="0"/><stop offset="0.35" stop-color="#000" stop-opacity="0.099"/><stop offset="0.7" stop-color="#000" stop-opacity="0.198"/><stop offset="1" stop-color="#000" stop-opacity="0.22"/></linearGradient>
<rect x="661.1" y="597.5" width="4.2" height="10.0" fill="url(#gg286)" filter="url(#b1)"/>
<linearGradient id="gg287" x1="0" y1="0" x2="0" y2="1"><stop offset="0" stop-color="#000" stop-opacity="0"/><stop offset="1" stop-color="#000" stop-opacity="0.066"/></linearGradient>
<rect x="644.0" y="589.5" width="20.3" height="11.5" fill="url(#gg287)" filter="url(#b1)"/>
<linearGradient id="gg288" x1="0" y1="0" x2="0" y2="1"><stop offset="0" stop-color="#000" stop-opacity="0.0176"/><stop offset="1" stop-color="#000" stop-opacity="0"/></linearGradient>
<rect x="644.0" y="607.0" width="20.3" height="10.5" fill="url(#gg288)" filter="url(#b1)"/>
<rect x="644.5" y="564.5" width="19.3" height="5.5" fill="#000" fill-opacity="1.000" rx="2" filter="url(#b1)"/>
<linearGradient id="gg289" x1="0" y1="0" x2="0" y2="1"><stop offset="0" stop-color="#000" stop-opacity="0"/><stop offset="0.35" stop-color="#000" stop-opacity="0.45"/><stop offset="0.7" stop-color="#000" stop-opacity="0.9"/><stop offset="1" stop-color="#000" stop-opacity="1"/></linearGradient>
<rect x="644.0" y="562.5" width="4.2" height="7.5" fill="url(#gg289)" filter="url(#b1)"/>
<linearGradient id="gg290" x1="0" y1="0" x2="0" y2="1"><stop offset="0" stop-color="#000" stop-opacity="0"/><stop offset="0.35" stop-color="#000" stop-opacity="0.45"/><stop offset="0.7" stop-color="#000" stop-opacity="0.9"/><stop offset="1" stop-color="#000" stop-opacity="1"/></linearGradient>
<rect x="660.1" y="562.5" width="4.2" height="7.5" fill="url(#gg290)" filter="url(#b1)"/>
<linearGradient id="gg291" x1="0" y1="0" x2="0" y2="1"><stop offset="0" stop-color="#000" stop-opacity="0"/><stop offset="1" stop-color="#000" stop-opacity="0.3"/></linearGradient>
<rect x="645.0" y="556.5" width="18.3" height="9.5" fill="url(#gg291)" filter="url(#b1)"/>
<linearGradient id="gg292" x1="0" y1="0" x2="0" y2="1"><stop offset="0" stop-color="#000" stop-opacity="0.08"/><stop offset="1" stop-color="#000" stop-opacity="0"/></linearGradient>
<rect x="645.0" y="569.5" width="18.3" height="10.5" fill="url(#gg292)" filter="url(#b1)"/>
<rect x="644.0" y="505.0" width="20.3" height="5.5" fill="#000" fill-opacity="0.120" rx="2" filter="url(#b15)"/>
<linearGradient id="gg293" x1="0" y1="0" x2="0" y2="1"><stop offset="0" stop-color="#000" stop-opacity="0"/><stop offset="0.35" stop-color="#000" stop-opacity="0.054"/><stop offset="0.7" stop-color="#000" stop-opacity="0.108"/><stop offset="1" stop-color="#000" stop-opacity="0.12"/></linearGradient>
<rect x="643.5" y="502.0" width="4.2" height="8.5" fill="url(#gg293)" filter="url(#b1)"/>
<linearGradient id="gg294" x1="0" y1="0" x2="0" y2="1"><stop offset="0" stop-color="#000" stop-opacity="0"/><stop offset="0.35" stop-color="#000" stop-opacity="0.054"/><stop offset="0.7" stop-color="#000" stop-opacity="0.108"/><stop offset="1" stop-color="#000" stop-opacity="0.12"/></linearGradient>
<rect x="660.6" y="502.0" width="4.2" height="8.5" fill="url(#gg294)" filter="url(#b1)"/>
<linearGradient id="gg295" x1="0" y1="0" x2="0" y2="1"><stop offset="0" stop-color="#000" stop-opacity="0"/><stop offset="1" stop-color="#000" stop-opacity="0.041999999999999996"/></linearGradient>
<rect x="644.5" y="491.0" width="19.3" height="15.5" fill="url(#gg295)" filter="url(#b1)"/>
<linearGradient id="gg296" x1="0" y1="0" x2="0" y2="1"><stop offset="0" stop-color="#000" stop-opacity="0.0096"/><stop offset="1" stop-color="#000" stop-opacity="0"/></linearGradient>
<rect x="644.5" y="510.0" width="19.3" height="10.5" fill="url(#gg296)" filter="url(#b1)"/>
<rect x="645.0" y="481.0" width="18.3" height="4.0" fill="#000" fill-opacity="0.080" filter="url(#b1)"/>
<linearGradient id="gg297" x1="0" y1="0" x2="0" y2="1"><stop offset="0" stop-color="#000" stop-opacity="0.0"/><stop offset="1" stop-color="#000" stop-opacity="0.05"/></linearGradient>
<rect x="644.0" y="440.0" width="20.3" height="65.0" fill="url(#gg297)" filter="url(#b1)"/>
<rect x="644.0" y="404.8" width="20.3" height="1.3" fill="#000" fill-opacity="0.550" filter="url(#b05)"/>
<rect x="643.5" y="404.3" width="2.5" height="2.2" fill="#000" fill-opacity="0.900" filter="url(#b05)"/>
<rect x="662.3" y="404.3" width="2.5" height="2.2" fill="#000" fill-opacity="0.900" filter="url(#b05)"/>
<linearGradient id="gg298" x1="0" y1="0" x2="0" y2="1"><stop offset="0" stop-color="#000" stop-opacity="0.04"/><stop offset="1" stop-color="#000" stop-opacity="0.03"/></linearGradient>
<rect x="644.0" y="406.0" width="20.3" height="154.0" fill="url(#gg298)" filter="url(#b1)"/>
<rect x="368.2" y="392.2" width="309.8" height="235.8" fill="none" stroke="#7a7a7a" stroke-width="1.6"/>
<text x="48.91" y="58.00" font-size="17.70" text-anchor="start" font-weight="normal" fill="#111" textLength="16.10" lengthAdjust="spacingAndGlyphs" stroke="#111" stroke-width="0.1">M</text>
<text x="73.93" y="58.00" font-size="17.70" text-anchor="start" font-weight="normal" fill="#111" textLength="23.82" lengthAdjust="spacingAndGlyphs" stroke="#111" stroke-width="0.1">HLp</text>
<text x="103.38" y="58.00" font-size="17.70" text-anchor="start" font-weight="normal" fill="#111" textLength="23.53" lengthAdjust="spacingAndGlyphs" stroke="#111" stroke-width="0.1">DNA</text>
<text x="132.44" y="58.00" font-size="17.70" text-anchor="start" font-weight="normal" fill="#111" textLength="19.63" lengthAdjust="spacingAndGlyphs" stroke="#111" stroke-width="0.1">0.5</text>
<text x="167.07" y="58.00" font-size="17.70" text-anchor="start" font-weight="normal" fill="#111" textLength="9.13" lengthAdjust="spacingAndGlyphs" stroke="#111" stroke-width="0.1">1</text>
<text x="195.89" y="58.00" font-size="17.70" text-anchor="start" font-weight="normal" fill="#111" textLength="10.15" lengthAdjust="spacingAndGlyphs" stroke="#111" stroke-width="0.1">2</text>
<text x="226.00" y="58.00" font-size="17.70" text-anchor="start" font-weight="normal" fill="#111" textLength="8.90" lengthAdjust="spacingAndGlyphs" stroke="#111" stroke-width="0.1">3</text>
<text x="255.32" y="58.00" font-size="17.70" text-anchor="start" font-weight="normal" fill="#111" textLength="9.47" lengthAdjust="spacingAndGlyphs" stroke="#111" stroke-width="0.1">4</text>
<text x="284.10" y="58.00" font-size="17.70" text-anchor="start" font-weight="normal" fill="#111" textLength="9.72" lengthAdjust="spacingAndGlyphs" stroke="#111" stroke-width="0.1">5</text>
<text x="309.75" y="58.00" font-size="17.70" text-anchor="start" font-weight="normal" fill="#111" textLength="17.06" lengthAdjust="spacingAndGlyphs" stroke="#111" stroke-width="0.1">10</text>
<text x="381.39" y="58.10" font-size="17.70" text-anchor="start" font-weight="normal" fill="#111" textLength="15.23" lengthAdjust="spacingAndGlyphs" stroke="#111" stroke-width="0.1">M</text>
<text x="405.32" y="58.10" font-size="15.60" text-anchor="start" font-weight="normal" fill="#111" textLength="26.53" lengthAdjust="spacingAndGlyphs" stroke="#111" stroke-width="0.1">HMfB</text>
<text x="434.36" y="58.10" font-size="17.70" text-anchor="start" font-weight="normal" fill="#111" textLength="23.95" lengthAdjust="spacingAndGlyphs" stroke="#111" stroke-width="0.1">DNA</text>
<text x="466.94" y="58.10" font-size="17.70" text-anchor="start" font-weight="normal" fill="#111" textLength="19.53" lengthAdjust="spacingAndGlyphs" stroke="#111" stroke-width="0.1">0.5</text>
<text x="501.10" y="58.10" font-size="17.70" text-anchor="start" font-weight="normal" fill="#111" textLength="6.69" lengthAdjust="spacingAndGlyphs" stroke="#111" stroke-width="0.1">1</text>
<text x="528.80" y="58.10" font-size="17.70" text-anchor="start" font-weight="normal" fill="#111" textLength="8.92" lengthAdjust="spacingAndGlyphs" stroke="#111" stroke-width="0.1">2</text>
<text x="556.60" y="58.10" font-size="17.70" text-anchor="start" font-weight="normal" fill="#111" textLength="8.90" lengthAdjust="spacingAndGlyphs" stroke="#111" stroke-width="0.1">3</text>
<text x="584.36" y="58.10" font-size="17.70" text-anchor="start" font-weight="normal" fill="#111" textLength="8.48" lengthAdjust="spacingAndGlyphs" stroke="#111" stroke-width="0.1">4</text>
<text x="612.41" y="58.10" font-size="17.70" text-anchor="start" font-weight="normal" fill="#111" textLength="8.20" lengthAdjust="spacingAndGlyphs" stroke="#111" stroke-width="0.1">5</text>
<text x="637.04" y="58.10" font-size="17.70" text-anchor="start" font-weight="normal" fill="#111" textLength="15.72" lengthAdjust="spacingAndGlyphs" stroke="#111" stroke-width="0.1">10</text>
<path d="M141.6,40.5 L321.6,27.6 L321.6,40.5 Z" fill="#151515"/>
<path d="M475.8,40.5 L648.2,28.2 L648.2,40.5 Z" fill="#151515"/>
<text x="211.95" y="23.90" font-size="16.90" text-anchor="start" font-weight="normal" fill="#111" textLength="32.18" lengthAdjust="spacingAndGlyphs">HLp</text>
<text x="539.46" y="24.50" font-size="16.90" text-anchor="start" font-weight="normal" fill="#111" textLength="43.76" lengthAdjust="spacingAndGlyphs">HMfB</text>
<text x="48.62" y="386.60" font-size="17.70" text-anchor="start" font-weight="normal" fill="#111" textLength="15.97" lengthAdjust="spacingAndGlyphs" stroke="#111" stroke-width="0.1">M</text>
<text x="75.92" y="386.60" font-size="17.70" text-anchor="start" font-weight="normal" fill="#111" textLength="23.92" lengthAdjust="spacingAndGlyphs" stroke="#111" stroke-width="0.1">HLp</text>
<text x="107.07" y="386.60" font-size="17.70" text-anchor="start" font-weight="normal" fill="#111" textLength="23.74" lengthAdjust="spacingAndGlyphs" stroke="#111" stroke-width="0.1">DNA</text>
<text x="138.07" y="386.60" font-size="17.70" text-anchor="start" font-weight="normal" fill="#111" textLength="18.50" lengthAdjust="spacingAndGlyphs" stroke="#111" stroke-width="0.1">0.3</text>
<text x="166.86" y="386.60" font-size="17.70" text-anchor="start" font-weight="normal" fill="#111" textLength="18.89" lengthAdjust="spacingAndGlyphs" stroke="#111" stroke-width="0.1">0.5</text>
<text x="195.36" y="386.60" font-size="17.70" text-anchor="start" font-weight="normal" fill="#111" textLength="18.71" lengthAdjust="spacingAndGlyphs" stroke="#111" stroke-width="0.1">0.7</text>
<text x="223.95" y="386.60" font-size="17.70" text-anchor="start" font-weight="normal" fill="#111" textLength="19.37" lengthAdjust="spacingAndGlyphs" stroke="#111" stroke-width="0.1">1.0</text>
<text x="253.18" y="386.60" font-size="17.70" text-anchor="start" font-weight="normal" fill="#111" textLength="18.97" lengthAdjust="spacingAndGlyphs" stroke="#111" stroke-width="0.1">1.5</text>
<text x="282.03" y="386.60" font-size="17.70" text-anchor="start" font-weight="normal" fill="#111" textLength="18.57" lengthAdjust="spacingAndGlyphs" stroke="#111" stroke-width="0.1">2.0</text>
<text x="310.99" y="386.60" font-size="17.70" text-anchor="start" font-weight="normal" fill="#111" textLength="18.82" lengthAdjust="spacingAndGlyphs" stroke="#111" stroke-width="0.1">3.0</text>
<text x="381.82" y="387.00" font-size="17.70" text-anchor="start" font-weight="normal" fill="#111" textLength="15.97" lengthAdjust="spacingAndGlyphs" stroke="#111" stroke-width="0.1">M</text>
<text x="404.76" y="387.00" font-size="15.60" text-anchor="start" font-weight="normal" fill="#111" textLength="25.37" lengthAdjust="spacingAndGlyphs" stroke="#111" stroke-width="0.1">HMfB</text>
<text x="434.27" y="387.00" font-size="17.70" text-anchor="start" font-weight="normal" fill="#111" textLength="23.85" lengthAdjust="spacingAndGlyphs" stroke="#111" stroke-width="0.1">DNA</text>
<text x="467.17" y="387.00" font-size="17.70" text-anchor="start" font-weight="normal" fill="#111" textLength="18.50" lengthAdjust="spacingAndGlyphs" stroke="#111" stroke-width="0.1">0.3</text>
<text x="496.86" y="387.00" font-size="17.70" text-anchor="start" font-weight="normal" fill="#111" textLength="18.89" lengthAdjust="spacingAndGlyphs" stroke="#111" stroke-width="0.1">0.5</text>
<text x="526.26" y="387.00" font-size="17.70" text-anchor="start" font-weight="normal" fill="#111" textLength="18.71" lengthAdjust="spacingAndGlyphs" stroke="#111" stroke-width="0.1">0.7</text>
<text x="555.58" y="387.00" font-size="17.70" text-anchor="start" font-weight="normal" fill="#111" textLength="18.93" lengthAdjust="spacingAndGlyphs" stroke="#111" stroke-width="0.1">1.0</text>
<text x="584.65" y="387.00" font-size="17.70" text-anchor="start" font-weight="normal" fill="#111" textLength="19.41" lengthAdjust="spacingAndGlyphs" stroke="#111" stroke-width="0.1">1.5</text>
<text x="614.13" y="387.00" font-size="17.70" text-anchor="start" font-weight="normal" fill="#111" textLength="18.68" lengthAdjust="spacingAndGlyphs" stroke="#111" stroke-width="0.1">2.0</text>
<text x="643.50" y="387.00" font-size="17.70" text-anchor="start" font-weight="normal" fill="#111" textLength="18.71" lengthAdjust="spacingAndGlyphs" stroke="#111" stroke-width="0.1">3.0</text>
<path d="M141.6,368.1 L321.6,355.9 L321.6,368.1 Z" fill="#151515"/>
<path d="M476.9,368.4 L647.6,356.2 L647.6,368.4 Z" fill="#151515"/>
<text x="211.95" y="353.10" font-size="16.90" text-anchor="start" font-weight="normal" fill="#111" textLength="32.18" lengthAdjust="spacingAndGlyphs">HLp</text>
<text x="538.85" y="353.10" font-size="16.90" text-anchor="start" font-weight="normal" fill="#111" textLength="44.08" lengthAdjust="spacingAndGlyphs">HMfB</text>
<text x="6.86" y="157.30" font-size="16.50" text-anchor="start" font-weight="normal" fill="#111" textLength="16.16" lengthAdjust="spacingAndGlyphs" stroke="#111" stroke-width="0.1">bp</text>
<text x="-0.17" y="174.50" font-size="16.50" text-anchor="start" font-weight="normal" fill="#111" textLength="22.49" lengthAdjust="spacingAndGlyphs" stroke="#111" stroke-width="0.1">250</text>
<line x1="26.0" y1="168.6" x2="33.6" y2="168.6" stroke="#000" stroke-width="2.6" />
<text x="-0.17" y="187.50" font-size="16.50" text-anchor="start" font-weight="normal" fill="#111" textLength="22.49" lengthAdjust="spacingAndGlyphs" stroke="#111" stroke-width="0.1">200</text>
<line x1="26.0" y1="180.1" x2="33.6" y2="180.1" stroke="#000" stroke-width="2.6" />
<text x="0.42" y="201.00" font-size="16.50" text-anchor="start" font-weight="normal" fill="#111" textLength="21.89" lengthAdjust="spacingAndGlyphs" stroke="#111" stroke-width="0.1">150</text>
<line x1="26.0" y1="194.5" x2="33.6" y2="194.5" stroke="#000" stroke-width="2.6" />
<text x="0.42" y="221.60" font-size="16.50" text-anchor="start" font-weight="normal" fill="#111" textLength="21.89" lengthAdjust="spacingAndGlyphs" stroke="#111" stroke-width="0.1">100</text>
<line x1="26.0" y1="214.7" x2="33.6" y2="214.7" stroke="#000" stroke-width="2.6" />
<text x="6.63" y="258.50" font-size="16.50" text-anchor="start" font-weight="normal" fill="#111" textLength="15.73" lengthAdjust="spacingAndGlyphs" stroke="#111" stroke-width="0.1">50</text>
<line x1="26.0" y1="253.0" x2="33.6" y2="253.0" stroke="#000" stroke-width="2.6" />
<text x="6.86" y="474.60" font-size="16.50" text-anchor="start" font-weight="normal" fill="#111" textLength="16.16" lengthAdjust="spacingAndGlyphs" stroke="#111" stroke-width="0.1">bp</text>
<text x="0.34" y="491.70" font-size="16.50" text-anchor="start" font-weight="normal" fill="#111" textLength="21.97" lengthAdjust="spacingAndGlyphs" stroke="#111" stroke-width="0.1">250</text>
<line x1="26.0" y1="486.8" x2="34.2" y2="486.8" stroke="#000" stroke-width="2.6" />
<text x="0.34" y="505.70" font-size="16.50" text-anchor="start" font-weight="normal" fill="#111" textLength="21.97" lengthAdjust="spacingAndGlyphs" stroke="#111" stroke-width="0.1">200</text>
<line x1="26.0" y1="497.4" x2="34.2" y2="497.4" stroke="#000" stroke-width="2.6" />
<text x="0.63" y="518.70" font-size="16.50" text-anchor="start" font-weight="normal" fill="#111" textLength="21.67" lengthAdjust="spacingAndGlyphs" stroke="#111" stroke-width="0.1">150</text>
<line x1="26.0" y1="512.0" x2="34.2" y2="512.0" stroke="#000" stroke-width="2.6" />
<text x="0.63" y="539.00" font-size="16.50" text-anchor="start" font-weight="normal" fill="#111" textLength="21.67" lengthAdjust="spacingAndGlyphs" stroke="#111" stroke-width="0.1">100</text>
<line x1="26.0" y1="531.7" x2="34.2" y2="531.7" stroke="#000" stroke-width="2.6" />
<text x="6.74" y="581.10" font-size="16.50" text-anchor="start" font-weight="normal" fill="#111" textLength="15.62" lengthAdjust="spacingAndGlyphs" stroke="#111" stroke-width="0.1">50</text>
<line x1="26.0" y1="575.6" x2="34.2" y2="575.6" stroke="#000" stroke-width="2.6" />
<line x1="35.6" y1="872.7" x2="40.6" y2="872.7" stroke="#000" stroke-width="1.8" />
<line x1="35.6" y1="822.3" x2="40.6" y2="822.3" stroke="#000" stroke-width="1.8" />
<line x1="35.6" y1="771.9" x2="40.6" y2="771.9" stroke="#000" stroke-width="1.8" />
<line x1="35.6" y1="721.5" x2="40.6" y2="721.5" stroke="#000" stroke-width="1.8" />
<line x1="37.0" y1="847.5" x2="40.6" y2="847.5" stroke="#000" stroke-width="1.8" />
<line x1="37.0" y1="797.1" x2="40.6" y2="797.1" stroke="#000" stroke-width="1.8" />
<line x1="37.0" y1="746.7" x2="40.6" y2="746.7" stroke="#000" stroke-width="1.8" />
<line x1="37.0" y1="696.3" x2="40.6" y2="696.3" stroke="#000" stroke-width="1.8" />
<text x="27.16" y="877.80" font-size="14.60" text-anchor="start" font-weight="normal" fill="#111" textLength="4.78" lengthAdjust="spacingAndGlyphs" stroke="#111" stroke-width="0.12">0</text>
<text x="26.50" y="827.40" font-size="14.60" text-anchor="start" font-weight="normal" fill="#111" textLength="5.50" lengthAdjust="spacingAndGlyphs" stroke="#111" stroke-width="0.12">5</text>
<text x="19.67" y="777.00" font-size="14.60" text-anchor="start" font-weight="normal" fill="#111" textLength="12.38" lengthAdjust="spacingAndGlyphs" stroke="#111" stroke-width="0.12">10</text>
<text x="19.66" y="726.60" font-size="14.60" text-anchor="start" font-weight="normal" fill="#111" textLength="12.41" lengthAdjust="spacingAndGlyphs" stroke="#111" stroke-width="0.12">15</text>
<line x1="49.3" y1="892.9" x2="49.3" y2="898.0" stroke="#000" stroke-width="1.8" />
<line x1="103.9" y1="892.9" x2="103.9" y2="898.0" stroke="#000" stroke-width="1.8" />
<line x1="158.5" y1="892.9" x2="158.5" y2="898.0" stroke="#000" stroke-width="1.8" />
<line x1="213.0" y1="892.9" x2="213.0" y2="898.0" stroke="#000" stroke-width="1.8" />
<line x1="267.6" y1="892.9" x2="267.6" y2="898.0" stroke="#000" stroke-width="1.8" />
<line x1="322.2" y1="892.9" x2="322.2" y2="898.0" stroke="#000" stroke-width="1.8" />
<line x1="43.0" y1="892.9" x2="43.0" y2="896.0" stroke="#000" stroke-width="1.6" />
<line x1="77.4" y1="892.9" x2="77.4" y2="896.0" stroke="#000" stroke-width="1.6" />
<line x1="89.7" y1="892.9" x2="89.7" y2="896.0" stroke="#000" stroke-width="1.6" />
<line x1="97.6" y1="892.9" x2="97.6" y2="896.0" stroke="#000" stroke-width="1.6" />
<line x1="132.0" y1="892.9" x2="132.0" y2="896.0" stroke="#000" stroke-width="1.6" />
<line x1="144.3" y1="892.9" x2="144.3" y2="896.0" stroke="#000" stroke-width="1.6" />
<line x1="152.2" y1="892.9" x2="152.2" y2="896.0" stroke="#000" stroke-width="1.6" />
<line x1="186.6" y1="892.9" x2="186.6" y2="896.0" stroke="#000" stroke-width="1.6" />
<line x1="198.8" y1="892.9" x2="198.8" y2="896.0" stroke="#000" stroke-width="1.6" />
<line x1="206.8" y1="892.9" x2="206.8" y2="896.0" stroke="#000" stroke-width="1.6" />
<line x1="241.1" y1="892.9" x2="241.1" y2="896.0" stroke="#000" stroke-width="1.6" />
<line x1="253.4" y1="892.9" x2="253.4" y2="896.0" stroke="#000" stroke-width="1.6" />
<line x1="261.3" y1="892.9" x2="261.3" y2="896.0" stroke="#000" stroke-width="1.6" />
<line x1="295.7" y1="892.9" x2="295.7" y2="896.0" stroke="#000" stroke-width="1.6" />
<line x1="308.0" y1="892.9" x2="308.0" y2="896.0" stroke="#000" stroke-width="1.6" />
<line x1="315.9" y1="892.9" x2="315.9" y2="896.0" stroke="#000" stroke-width="1.6" />
<text x="38.32" y="911.90" font-size="16.30" text-anchor="start" font-weight="normal" fill="#111" textLength="14.50" lengthAdjust="spacingAndGlyphs" stroke="#111" stroke-width="0.1">10</text>
<text x="52.55" y="906.80" font-size="9.60" text-anchor="start" font-weight="normal" fill="#111" textLength="6.91" lengthAdjust="spacingAndGlyphs" stroke="#111" stroke-width="0.08">-9</text>
<text x="93.32" y="911.90" font-size="16.30" text-anchor="start" font-weight="normal" fill="#111" textLength="14.50" lengthAdjust="spacingAndGlyphs" stroke="#111" stroke-width="0.1">10</text>
<text x="107.55" y="906.80" font-size="9.60" text-anchor="start" font-weight="normal" fill="#111" textLength="6.89" lengthAdjust="spacingAndGlyphs" stroke="#111" stroke-width="0.08">-8</text>
<text x="148.52" y="911.90" font-size="16.30" text-anchor="start" font-weight="normal" fill="#111" textLength="14.50" lengthAdjust="spacingAndGlyphs" stroke="#111" stroke-width="0.1">10</text>
<text x="162.75" y="906.80" font-size="9.60" text-anchor="start" font-weight="normal" fill="#111" textLength="6.96" lengthAdjust="spacingAndGlyphs" stroke="#111" stroke-width="0.08">-7</text>
<text x="203.62" y="911.90" font-size="16.30" text-anchor="start" font-weight="normal" fill="#111" textLength="14.50" lengthAdjust="spacingAndGlyphs" stroke="#111" stroke-width="0.1">10</text>
<text x="217.85" y="906.80" font-size="9.60" text-anchor="start" font-weight="normal" fill="#111" textLength="6.89" lengthAdjust="spacingAndGlyphs" stroke="#111" stroke-width="0.08">-6</text>
<text x="258.82" y="911.90" font-size="16.30" text-anchor="start" font-weight="normal" fill="#111" textLength="14.50" lengthAdjust="spacingAndGlyphs" stroke="#111" stroke-width="0.1">10</text>
<text x="273.05" y="906.80" font-size="9.60" text-anchor="start" font-weight="normal" fill="#111" textLength="6.87" lengthAdjust="spacingAndGlyphs" stroke="#111" stroke-width="0.08">-5</text>
<text x="314.42" y="911.90" font-size="16.30" text-anchor="start" font-weight="normal" fill="#111" textLength="14.50" lengthAdjust="spacingAndGlyphs" stroke="#111" stroke-width="0.1">10</text>
<text x="328.66" y="906.80" font-size="9.60" text-anchor="start" font-weight="normal" fill="#111" textLength="6.76" lengthAdjust="spacingAndGlyphs" stroke="#111" stroke-width="0.08">-4</text>
<path d="M40.6,691.8 L40.6,892.9 L343.5,892.9 L343.5,691.8 Z" fill="none" stroke="#000" stroke-width="2"/>
<text transform="translate(13.4,839.8) rotate(-90)" font-size="14.8" fill="#111" textLength="99" lengthAdjust="spacingAndGlyphs">Δ FNorm (‰)</text>
<text x="110.40" y="929.50" font-size="16.80" text-anchor="start" font-weight="normal" fill="#111" textLength="167.63" lengthAdjust="spacingAndGlyphs">HLp concentration (M)</text>
<polyline points="70.7,872.4 72.7,872.3 74.8,872.3 76.8,872.3 78.8,872.2 80.9,872.2 82.9,872.2 85.0,872.1 87.0,872.1 89.0,872.0 91.1,871.9 93.1,871.9 95.1,871.8 97.2,871.7 99.2,871.6 101.2,871.5 103.3,871.4 105.3,871.3 107.3,871.2 109.4,871.1 111.4,870.9 113.5,870.7 115.5,870.6 117.5,870.4 119.6,870.2 121.6,870.0 123.6,869.7 125.7,869.5 127.7,869.2 129.7,868.9 131.8,868.5 133.8,868.2 135.8,867.8 137.9,867.3 139.9,866.9 142.0,866.4 144.0,865.8 146.0,865.3 148.1,864.6 150.1,863.9 152.1,863.2 154.2,862.4 156.2,861.5 158.2,860.6 160.3,859.6 162.3,858.5 164.3,857.4 166.4,856.2 168.4,854.8 170.5,853.4 172.5,851.9 174.5,850.3 176.6,848.6 178.6,846.8 180.6,844.9 182.7,842.8 184.7,840.7 186.7,838.4 188.8,836.0 190.8,833.5 192.9,830.9 194.9,828.2 196.9,825.4 199.0,822.4 201.0,819.4 203.0,816.3 205.1,813.1 207.1,809.8 209.1,806.5 211.2,803.1 213.2,799.6 215.2,796.2 217.3,792.7 219.3,789.2 221.4,785.7 223.4,782.3 225.4,778.9 227.5,775.5 229.5,772.2 231.5,768.9 233.6,765.8 235.6,762.7 237.6,759.7 239.7,756.8 241.7,754.0 243.7,751.3 245.8,748.7 247.8,746.3 249.9,743.9 251.9,741.7 253.9,739.6 256.0,737.6 258.0,735.7 260.0,733.9 262.1,732.3 264.1,730.7 266.1,729.2 268.2,727.8 270.2,726.5 272.2,725.3 274.3,724.2 276.3,723.2 278.4,722.2 280.4,721.3 282.4,720.4 284.5,719.7 286.5,718.9 288.5,718.3 290.6,717.7 292.6,717.1 294.6,716.6 296.7,716.1 298.7,715.6 300.7,715.2 302.8,714.8 304.8,714.5 306.9,714.1 308.9,713.8 310.9,713.6 313.0,713.3 315.0,713.1" fill="none" stroke="#93d74f" stroke-width="1.5"/>
<polyline points="70.7,872.6 72.7,872.6 74.8,872.6 76.8,872.6 78.8,872.6 80.9,872.6 82.9,872.6 85.0,872.6 87.0,872.5 89.0,872.5 91.1,872.5 93.1,872.5 95.1,872.5 97.2,872.5 99.2,872.4 101.2,872.4 103.3,872.4 105.3,872.4 107.3,872.3 109.4,872.3 111.4,872.3 113.5,872.2 115.5,872.2 117.5,872.1 119.6,872.1 121.6,872.0 123.6,872.0 125.7,871.9 127.7,871.8 129.7,871.8 131.8,871.7 133.8,871.6 135.8,871.5 137.9,871.4 139.9,871.3 142.0,871.1 144.0,871.0 146.0,870.8 148.1,870.7 150.1,870.5 152.1,870.3 154.2,870.1 156.2,869.9 158.2,869.6 160.3,869.3 162.3,869.0 164.3,868.7 166.4,868.4 168.4,868.0 170.5,867.6 172.5,867.2 174.5,866.7 176.6,866.2 178.6,865.7 180.6,865.1 182.7,864.4 184.7,863.7 186.7,863.0 188.8,862.2 190.8,861.4 192.9,860.5 194.9,859.5 196.9,858.5 199.0,857.4 201.0,856.2 203.0,854.9 205.1,853.6 207.1,852.2 209.1,850.7 211.2,849.2 213.2,847.5 215.2,845.8 217.3,844.0 219.3,842.1 221.4,840.1 223.4,838.1 225.4,836.0 227.5,833.8 229.5,831.6 231.5,829.3 233.6,827.0 235.6,824.6 237.6,822.2 239.7,819.8 241.7,817.4 243.7,814.9 245.8,812.5 247.8,810.1 249.9,807.6 251.9,805.3 253.9,802.9 256.0,800.6 258.0,798.4 260.0,796.2 262.1,794.1 264.1,792.0 266.1,790.0 268.2,788.1 270.2,786.3 272.2,784.5 274.3,782.9 276.3,781.3 278.4,779.8 280.4,778.3 282.4,777.0 284.5,775.7 286.5,774.5 288.5,773.4 290.6,772.3 292.6,771.3 294.6,770.4 296.7,769.5 298.7,768.7 300.7,768.0 302.8,767.3 304.8,766.6 306.9,766.0 308.9,765.5 310.9,764.9 313.0,764.5 315.0,764.0" fill="none" stroke="#13938a" stroke-width="1.5"/>
<line x1="70.6" y1="875.6" x2="70.6" y2="885.0" stroke="#a6dc6e" stroke-width="1" />
<line x1="68.0" y1="875.6" x2="73.2" y2="875.6" stroke="#a6dc6e" stroke-width="1" />
<line x1="68.0" y1="885.0" x2="73.2" y2="885.0" stroke="#a6dc6e" stroke-width="1" />
<rect x="67.9" y="877.6" width="5.4" height="5.4" fill="#8fd34e" />
<line x1="87.0" y1="869.2" x2="87.0" y2="878.0" stroke="#a6dc6e" stroke-width="1" />
<line x1="84.4" y1="869.2" x2="89.6" y2="869.2" stroke="#a6dc6e" stroke-width="1" />
<line x1="84.4" y1="878.0" x2="89.6" y2="878.0" stroke="#a6dc6e" stroke-width="1" />
<rect x="84.3" y="870.9" width="5.4" height="5.4" fill="#8fd34e" />
<line x1="103.4" y1="866.3" x2="103.4" y2="883.7" stroke="#a6dc6e" stroke-width="1" />
<line x1="100.8" y1="866.3" x2="106.0" y2="866.3" stroke="#a6dc6e" stroke-width="1" />
<line x1="100.8" y1="883.7" x2="106.0" y2="883.7" stroke="#a6dc6e" stroke-width="1" />
<rect x="100.7" y="872.3" width="5.4" height="5.4" fill="#8fd34e" />
<line x1="119.8" y1="861.4" x2="119.8" y2="870.6" stroke="#a6dc6e" stroke-width="1" />
<line x1="117.2" y1="861.4" x2="122.4" y2="861.4" stroke="#a6dc6e" stroke-width="1" />
<line x1="117.2" y1="870.6" x2="122.4" y2="870.6" stroke="#a6dc6e" stroke-width="1" />
<rect x="117.1" y="863.3" width="5.4" height="5.4" fill="#8fd34e" />
<line x1="136.2" y1="861.2" x2="136.2" y2="866.4" stroke="#a6dc6e" stroke-width="1" />
<line x1="133.6" y1="861.2" x2="138.8" y2="861.2" stroke="#a6dc6e" stroke-width="1" />
<line x1="133.6" y1="866.4" x2="138.8" y2="866.4" stroke="#a6dc6e" stroke-width="1" />
<rect x="133.5" y="861.1" width="5.4" height="5.4" fill="#8fd34e" />
<rect x="149.9" y="855.3" width="5.4" height="5.4" fill="#8fd34e" />
<line x1="169.0" y1="844.0" x2="169.0" y2="866.4" stroke="#a6dc6e" stroke-width="1" />
<line x1="166.4" y1="844.0" x2="171.6" y2="844.0" stroke="#a6dc6e" stroke-width="1" />
<line x1="166.4" y1="866.4" x2="171.6" y2="866.4" stroke="#a6dc6e" stroke-width="1" />
<rect x="166.3" y="852.5" width="5.4" height="5.4" fill="#8fd34e" />
<line x1="185.4" y1="828.5" x2="185.4" y2="852.1" stroke="#a6dc6e" stroke-width="1" />
<line x1="182.8" y1="828.5" x2="188.0" y2="828.5" stroke="#a6dc6e" stroke-width="1" />
<line x1="182.8" y1="852.1" x2="188.0" y2="852.1" stroke="#a6dc6e" stroke-width="1" />
<rect x="182.7" y="837.6" width="5.4" height="5.4" fill="#8fd34e" />
<line x1="201.8" y1="815.4" x2="201.8" y2="829.0" stroke="#a6dc6e" stroke-width="1" />
<line x1="199.2" y1="815.4" x2="204.4" y2="815.4" stroke="#a6dc6e" stroke-width="1" />
<line x1="199.2" y1="829.0" x2="204.4" y2="829.0" stroke="#a6dc6e" stroke-width="1" />
<rect x="199.1" y="819.5" width="5.4" height="5.4" fill="#8fd34e" />
<rect x="215.5" y="781.1" width="5.4" height="5.4" fill="#8fd34e" />
<line x1="234.6" y1="763.3" x2="234.6" y2="774.5" stroke="#a6dc6e" stroke-width="1" />
<line x1="232.0" y1="763.3" x2="237.2" y2="763.3" stroke="#a6dc6e" stroke-width="1" />
<line x1="232.0" y1="774.5" x2="237.2" y2="774.5" stroke="#a6dc6e" stroke-width="1" />
<rect x="231.9" y="766.2" width="5.4" height="5.4" fill="#8fd34e" />
<line x1="251.0" y1="741.3" x2="251.0" y2="756.7" stroke="#a6dc6e" stroke-width="1" />
<line x1="248.4" y1="741.3" x2="253.6" y2="741.3" stroke="#a6dc6e" stroke-width="1" />
<line x1="248.4" y1="756.7" x2="253.6" y2="756.7" stroke="#a6dc6e" stroke-width="1" />
<rect x="248.3" y="746.3" width="5.4" height="5.4" fill="#8fd34e" />
<line x1="267.4" y1="724.0" x2="267.4" y2="733.2" stroke="#a6dc6e" stroke-width="1" />
<line x1="264.8" y1="724.0" x2="270.0" y2="724.0" stroke="#a6dc6e" stroke-width="1" />
<line x1="264.8" y1="733.2" x2="270.0" y2="733.2" stroke="#a6dc6e" stroke-width="1" />
<rect x="264.7" y="725.9" width="5.4" height="5.4" fill="#8fd34e" />
<line x1="283.8" y1="703.9" x2="283.8" y2="727.9" stroke="#a6dc6e" stroke-width="1" />
<line x1="281.2" y1="703.9" x2="286.4" y2="703.9" stroke="#a6dc6e" stroke-width="1" />
<line x1="281.2" y1="727.9" x2="286.4" y2="727.9" stroke="#a6dc6e" stroke-width="1" />
<rect x="281.1" y="713.2" width="5.4" height="5.4" fill="#8fd34e" />
<line x1="70.6" y1="866.2" x2="70.6" y2="874.8" stroke="#2a9a90" stroke-width="1" />
<line x1="68.0" y1="866.2" x2="73.2" y2="866.2" stroke="#2a9a90" stroke-width="1" />
<line x1="68.0" y1="874.8" x2="73.2" y2="874.8" stroke="#2a9a90" stroke-width="1" />
<circle cx="70.6" cy="870.5" r="2.7" fill="#0e8a7f"/>
<line x1="87.0" y1="872.1" x2="87.0" y2="877.1" stroke="#2a9a90" stroke-width="1" />
<line x1="84.4" y1="872.1" x2="89.6" y2="872.1" stroke="#2a9a90" stroke-width="1" />
<line x1="84.4" y1="877.1" x2="89.6" y2="877.1" stroke="#2a9a90" stroke-width="1" />
<circle cx="87.0" cy="874.6" r="2.7" fill="#0e8a7f"/>
<circle cx="103.4" cy="883.8" r="2.7" fill="#0e8a7f"/>
<line x1="119.8" y1="874.3" x2="119.8" y2="887.1" stroke="#2a9a90" stroke-width="1" />
<line x1="117.2" y1="874.3" x2="122.4" y2="874.3" stroke="#2a9a90" stroke-width="1" />
<line x1="117.2" y1="887.1" x2="122.4" y2="887.1" stroke="#2a9a90" stroke-width="1" />
<circle cx="119.8" cy="880.7" r="2.7" fill="#0e8a7f"/>
<line x1="136.2" y1="863.2" x2="136.2" y2="878.2" stroke="#2a9a90" stroke-width="1" />
<line x1="133.6" y1="863.2" x2="138.8" y2="863.2" stroke="#2a9a90" stroke-width="1" />
<line x1="133.6" y1="878.2" x2="138.8" y2="878.2" stroke="#2a9a90" stroke-width="1" />
<circle cx="136.2" cy="870.7" r="2.7" fill="#0e8a7f"/>
<line x1="152.6" y1="867.3" x2="152.6" y2="871.7" stroke="#2a9a90" stroke-width="1" />
<line x1="150.0" y1="867.3" x2="155.2" y2="867.3" stroke="#2a9a90" stroke-width="1" />
<line x1="150.0" y1="871.7" x2="155.2" y2="871.7" stroke="#2a9a90" stroke-width="1" />
<circle cx="152.6" cy="869.5" r="2.7" fill="#0e8a7f"/>
<line x1="169.0" y1="858.9" x2="169.0" y2="864.9" stroke="#2a9a90" stroke-width="1" />
<line x1="166.4" y1="858.9" x2="171.6" y2="858.9" stroke="#2a9a90" stroke-width="1" />
<line x1="166.4" y1="864.9" x2="171.6" y2="864.9" stroke="#2a9a90" stroke-width="1" />
<circle cx="169.0" cy="861.9" r="2.7" fill="#0e8a7f"/>
<line x1="185.4" y1="852.8" x2="185.4" y2="865.4" stroke="#2a9a90" stroke-width="1" />
<line x1="182.8" y1="852.8" x2="188.0" y2="852.8" stroke="#2a9a90" stroke-width="1" />
<line x1="182.8" y1="865.4" x2="188.0" y2="865.4" stroke="#2a9a90" stroke-width="1" />
<circle cx="185.4" cy="859.1" r="2.7" fill="#0e8a7f"/>
<line x1="201.8" y1="834.5" x2="201.8" y2="854.5" stroke="#2a9a90" stroke-width="1" />
<line x1="199.2" y1="834.5" x2="204.4" y2="834.5" stroke="#2a9a90" stroke-width="1" />
<line x1="199.2" y1="854.5" x2="204.4" y2="854.5" stroke="#2a9a90" stroke-width="1" />
<circle cx="201.8" cy="844.5" r="2.7" fill="#0e8a7f"/>
<line x1="218.2" y1="823.7" x2="218.2" y2="844.1" stroke="#2a9a90" stroke-width="1" />
<line x1="215.6" y1="823.7" x2="220.8" y2="823.7" stroke="#2a9a90" stroke-width="1" />
<line x1="215.6" y1="844.1" x2="220.8" y2="844.1" stroke="#2a9a90" stroke-width="1" />
<circle cx="218.2" cy="833.9" r="2.7" fill="#0e8a7f"/>
<line x1="234.6" y1="823.7" x2="234.6" y2="829.7" stroke="#2a9a90" stroke-width="1" />
<line x1="232.0" y1="823.7" x2="237.2" y2="823.7" stroke="#2a9a90" stroke-width="1" />
<line x1="232.0" y1="829.7" x2="237.2" y2="829.7" stroke="#2a9a90" stroke-width="1" />
<circle cx="234.6" cy="826.7" r="2.7" fill="#0e8a7f"/>
<line x1="251.0" y1="809.3" x2="251.0" y2="823.7" stroke="#2a9a90" stroke-width="1" />
<line x1="248.4" y1="809.3" x2="253.6" y2="809.3" stroke="#2a9a90" stroke-width="1" />
<line x1="248.4" y1="823.7" x2="253.6" y2="823.7" stroke="#2a9a90" stroke-width="1" />
<circle cx="251.0" cy="816.5" r="2.7" fill="#0e8a7f"/>
<line x1="267.4" y1="792.5" x2="267.4" y2="801.7" stroke="#2a9a90" stroke-width="1" />
<line x1="264.8" y1="792.5" x2="270.0" y2="792.5" stroke="#2a9a90" stroke-width="1" />
<line x1="264.8" y1="801.7" x2="270.0" y2="801.7" stroke="#2a9a90" stroke-width="1" />
<circle cx="267.4" cy="797.1" r="2.7" fill="#0e8a7f"/>
<line x1="283.8" y1="760.3" x2="283.8" y2="771.3" stroke="#2a9a90" stroke-width="1" />
<line x1="281.2" y1="760.3" x2="286.4" y2="760.3" stroke="#2a9a90" stroke-width="1" />
<line x1="281.2" y1="771.3" x2="286.4" y2="771.3" stroke="#2a9a90" stroke-width="1" />
<circle cx="283.8" cy="765.8" r="2.7" fill="#0e8a7f"/>
<circle cx="61.9" cy="705.2" r="4.4" fill="#0e8a7f"/>
<rect x="57.4" y="718.6" width="8.9" height="9.2" fill="#8fd34e" />
<text x="72.71" y="709.60" font-size="14.80" text-anchor="start" font-weight="normal" fill="#111" textLength="104.71" lengthAdjust="spacingAndGlyphs">HLp + 80-bp DNA</text>
<text x="72.71" y="727.90" font-size="14.80" text-anchor="start" font-weight="normal" fill="#111" textLength="143.31" lengthAdjust="spacingAndGlyphs">HLp + 80-bp-GC40 DNA</text>
<line x1="371.6" y1="866.3" x2="377.8" y2="866.3" stroke="#000" stroke-width="1.8" />
<line x1="371.6" y1="798.9" x2="377.8" y2="798.9" stroke="#000" stroke-width="1.8" />
<line x1="371.6" y1="731.5" x2="377.8" y2="731.5" stroke="#000" stroke-width="1.8" />
<line x1="373.4" y1="832.6" x2="377.8" y2="832.6" stroke="#000" stroke-width="1.8" />
<line x1="373.4" y1="765.2" x2="377.8" y2="765.2" stroke="#000" stroke-width="1.8" />
<line x1="373.4" y1="697.8" x2="377.8" y2="697.8" stroke="#000" stroke-width="1.8" />
<text x="360.00" y="871.50" font-size="14.5" text-anchor="start" font-weight="normal" fill="#111" textLength="8.10" lengthAdjust="spacingAndGlyphs">0</text>
<text x="360.00" y="804.10" font-size="14.5" text-anchor="start" font-weight="normal" fill="#111" textLength="8.10" lengthAdjust="spacingAndGlyphs">5</text>
<text x="354.90" y="736.70" font-size="14.5" text-anchor="start" font-weight="normal" fill="#111" textLength="13.20" lengthAdjust="spacingAndGlyphs">10</text>
<line x1="394.6" y1="893.0" x2="394.6" y2="898.0" stroke="#000" stroke-width="1.8" />
<line x1="451.2" y1="893.0" x2="451.2" y2="898.0" stroke="#000" stroke-width="1.8" />
<line x1="507.7" y1="893.0" x2="507.7" y2="898.0" stroke="#000" stroke-width="1.8" />
<line x1="564.2" y1="893.0" x2="564.2" y2="898.0" stroke="#000" stroke-width="1.8" />
<line x1="620.8" y1="893.0" x2="620.8" y2="898.0" stroke="#000" stroke-width="1.8" />
<line x1="677.4" y1="893.0" x2="677.4" y2="898.0" stroke="#000" stroke-width="1.8" />
<line x1="379.9" y1="893.0" x2="379.9" y2="896.0" stroke="#000" stroke-width="1.6" />
<line x1="388.1" y1="893.0" x2="388.1" y2="896.0" stroke="#000" stroke-width="1.6" />
<line x1="423.7" y1="893.0" x2="423.7" y2="896.0" stroke="#000" stroke-width="1.6" />
<line x1="436.4" y1="893.0" x2="436.4" y2="896.0" stroke="#000" stroke-width="1.6" />
<line x1="444.6" y1="893.0" x2="444.6" y2="896.0" stroke="#000" stroke-width="1.6" />
<line x1="480.3" y1="893.0" x2="480.3" y2="896.0" stroke="#000" stroke-width="1.6" />
<line x1="493.0" y1="893.0" x2="493.0" y2="896.0" stroke="#000" stroke-width="1.6" />
<line x1="501.2" y1="893.0" x2="501.2" y2="896.0" stroke="#000" stroke-width="1.6" />
<line x1="536.8" y1="893.0" x2="536.8" y2="896.0" stroke="#000" stroke-width="1.6" />
<line x1="549.5" y1="893.0" x2="549.5" y2="896.0" stroke="#000" stroke-width="1.6" />
<line x1="557.7" y1="893.0" x2="557.7" y2="896.0" stroke="#000" stroke-width="1.6" />
<line x1="593.4" y1="893.0" x2="593.4" y2="896.0" stroke="#000" stroke-width="1.6" />
<line x1="606.1" y1="893.0" x2="606.1" y2="896.0" stroke="#000" stroke-width="1.6" />
<line x1="614.3" y1="893.0" x2="614.3" y2="896.0" stroke="#000" stroke-width="1.6" />
<line x1="649.9" y1="893.0" x2="649.9" y2="896.0" stroke="#000" stroke-width="1.6" />
<line x1="662.6" y1="893.0" x2="662.6" y2="896.0" stroke="#000" stroke-width="1.6" />
<line x1="670.8" y1="893.0" x2="670.8" y2="896.0" stroke="#000" stroke-width="1.6" />
<text x="384.79" y="911.90" font-size="16.30" text-anchor="start" font-weight="normal" fill="#111" textLength="14.94" lengthAdjust="spacingAndGlyphs" stroke="#111" stroke-width="0.1">10</text>
<text x="399.57" y="906.80" font-size="9.60" text-anchor="start" font-weight="normal" fill="#111" textLength="6.58" lengthAdjust="spacingAndGlyphs" stroke="#111" stroke-width="0.08">-9</text>
<text x="440.69" y="911.90" font-size="16.30" text-anchor="start" font-weight="normal" fill="#111" textLength="14.94" lengthAdjust="spacingAndGlyphs" stroke="#111" stroke-width="0.1">10</text>
<text x="455.47" y="906.80" font-size="9.60" text-anchor="start" font-weight="normal" fill="#111" textLength="6.56" lengthAdjust="spacingAndGlyphs" stroke="#111" stroke-width="0.08">-8</text>
<text x="496.29" y="911.90" font-size="16.30" text-anchor="start" font-weight="normal" fill="#111" textLength="14.94" lengthAdjust="spacingAndGlyphs" stroke="#111" stroke-width="0.1">10</text>
<text x="511.06" y="906.80" font-size="9.60" text-anchor="start" font-weight="normal" fill="#111" textLength="6.62" lengthAdjust="spacingAndGlyphs" stroke="#111" stroke-width="0.08">-7</text>
<text x="550.99" y="911.90" font-size="16.30" text-anchor="start" font-weight="normal" fill="#111" textLength="14.94" lengthAdjust="spacingAndGlyphs" stroke="#111" stroke-width="0.1">10</text>
<text x="565.77" y="906.80" font-size="9.60" text-anchor="start" font-weight="normal" fill="#111" textLength="6.56" lengthAdjust="spacingAndGlyphs" stroke="#111" stroke-width="0.08">-6</text>
<text x="606.29" y="911.90" font-size="16.30" text-anchor="start" font-weight="normal" fill="#111" textLength="14.94" lengthAdjust="spacingAndGlyphs" stroke="#111" stroke-width="0.1">10</text>
<text x="621.07" y="906.80" font-size="9.60" text-anchor="start" font-weight="normal" fill="#111" textLength="6.54" lengthAdjust="spacingAndGlyphs" stroke="#111" stroke-width="0.08">-5</text>
<text x="664.79" y="911.90" font-size="16.30" text-anchor="start" font-weight="normal" fill="#111" textLength="14.94" lengthAdjust="spacingAndGlyphs" stroke="#111" stroke-width="0.1">10</text>
<text x="679.57" y="906.80" font-size="9.60" text-anchor="start" font-weight="normal" fill="#111" textLength="6.44" lengthAdjust="spacingAndGlyphs" stroke="#111" stroke-width="0.08">-4</text>
<path d="M377.8,691.4 L377.8,893 L677.6,893 L677.6,691.4 Z" fill="none" stroke="#000" stroke-width="2"/>
<text x="448.11" y="929.50" font-size="16.80" text-anchor="start" font-weight="normal" fill="#111" textLength="178.43" lengthAdjust="spacingAndGlyphs">HMfB concentration (M)</text>
<polyline points="395.0,866.0 397.2,866.0 399.3,866.0 401.5,866.0 403.6,865.9 405.8,865.9 407.9,865.9 410.1,865.8 412.2,865.8 414.4,865.7 416.5,865.7 418.7,865.6 420.8,865.6 423.0,865.5 425.1,865.4 427.3,865.3 429.4,865.3 431.6,865.2 433.7,865.1 435.9,864.9 438.0,864.8 440.2,864.7 442.3,864.5 444.5,864.4 446.6,864.2 448.8,864.0 450.9,863.8 453.1,863.6 455.2,863.4 457.4,863.1 459.6,862.8 461.7,862.5 463.9,862.2 466.0,861.8 468.2,861.4 470.3,861.0 472.5,860.5 474.6,860.0 476.8,859.4 478.9,858.8 481.1,858.2 483.2,857.5 485.4,856.7 487.5,855.9 489.7,855.1 491.8,854.1 494.0,853.1 496.1,852.0 498.3,850.9 500.4,849.6 502.6,848.3 504.7,846.8 506.9,845.3 509.0,843.7 511.2,842.0 513.3,840.2 515.5,838.3 517.6,836.2 519.8,834.1 521.9,831.9 524.1,829.5 526.3,827.1 528.4,824.5 530.6,821.9 532.7,819.2 534.9,816.4 537.0,813.5 539.2,810.5 541.3,807.5 543.5,804.5 545.6,801.4 547.8,798.3 549.9,795.1 552.1,792.0 554.2,788.9 556.4,785.8 558.5,782.7 560.7,779.7 562.8,776.8 565.0,773.9 567.1,771.0 569.3,768.3 571.4,765.7 573.6,763.1 575.7,760.6 577.9,758.3 580.0,756.0 582.2,753.9 584.3,751.8 586.5,749.9 588.7,748.0 590.8,746.3 593.0,744.7 595.1,743.1 597.3,741.7 599.4,740.3 601.6,739.1 603.7,737.9 605.9,736.8 608.0,735.8 610.2,734.8 612.3,733.9 614.5,733.1 616.6,732.3 618.8,731.6 620.9,731.0 623.1,730.4 625.2,729.8 627.4,729.3 629.5,728.8 631.7,728.4 633.8,728.0 636.0,727.6 638.1,727.3 640.3,727.0 642.4,726.7 644.6,726.4 646.7,726.2 648.9,725.9 651.0,725.7 653.2,725.5" fill="none" stroke="#1552a0" stroke-width="1.5"/>
<polyline points="395.0,866.0 397.2,866.0 399.3,865.9 401.5,865.9 403.6,865.9 405.8,865.8 407.9,865.8 410.1,865.7 412.2,865.7 414.4,865.6 416.5,865.6 418.7,865.5 420.8,865.4 423.0,865.3 425.1,865.2 427.3,865.1 429.4,865.0 431.6,864.9 433.7,864.8 435.9,864.6 438.0,864.5 440.2,864.3 442.3,864.1 444.5,863.9 446.6,863.7 448.8,863.4 450.9,863.2 453.1,862.9 455.2,862.6 457.4,862.2 459.6,861.9 461.7,861.4 463.9,861.0 466.0,860.5 468.2,860.0 470.3,859.4 472.5,858.8 474.6,858.1 476.8,857.4 478.9,856.6 481.1,855.8 483.2,854.9 485.4,853.9 487.5,852.9 489.7,851.8 491.8,850.6 494.0,849.3 496.1,847.9 498.3,846.5 500.4,844.9 502.6,843.3 504.7,841.6 506.9,839.8 509.0,837.9 511.2,836.0 513.3,833.9 515.5,831.8 517.6,829.6 519.8,827.4 521.9,825.0 524.1,822.7 526.3,820.3 528.4,817.8 530.6,815.4 532.7,812.9 534.9,810.4 537.0,807.9 539.2,805.5 541.3,803.1 543.5,800.7 545.6,798.3 547.8,796.1 549.9,793.8 552.1,791.7 554.2,789.6 556.4,787.6 558.5,785.7 560.7,783.9 562.8,782.1 565.0,780.5 567.1,778.9 569.3,777.4 571.4,776.0 573.6,774.7 575.7,773.5 577.9,772.3 580.0,771.3 582.2,770.3 584.3,769.3 586.5,768.5 588.7,767.7 590.8,766.9 593.0,766.2 595.1,765.6 597.3,765.0 599.4,764.5 601.6,764.0 603.7,763.5 605.9,763.1 608.0,762.7 610.2,762.3 612.3,762.0 614.5,761.7 616.6,761.4 618.8,761.2 620.9,760.9 623.1,760.7 625.2,760.5 627.4,760.3 629.5,760.2 631.7,760.0 633.8,759.9 636.0,759.8 638.1,759.7 640.3,759.6 642.4,759.5 644.6,759.4 646.7,759.3 648.9,759.2 651.0,759.2 653.2,759.1" fill="none" stroke="#4b1c6c" stroke-width="1.5"/>
<line x1="399.2" y1="862.9" x2="399.2" y2="871.9" stroke="#8e5aa8" stroke-width="1" />
<line x1="396.6" y1="862.9" x2="401.8" y2="862.9" stroke="#8e5aa8" stroke-width="1" />
<line x1="396.6" y1="871.9" x2="401.8" y2="871.9" stroke="#8e5aa8" stroke-width="1" />
<rect x="396.5" y="864.7" width="5.4" height="5.4" fill="#4b1a6b" />
<line x1="416.2" y1="855.8" x2="416.2" y2="866.0" stroke="#8e5aa8" stroke-width="1" />
<line x1="413.6" y1="855.8" x2="418.9" y2="855.8" stroke="#8e5aa8" stroke-width="1" />
<line x1="413.6" y1="866.0" x2="418.9" y2="866.0" stroke="#8e5aa8" stroke-width="1" />
<rect x="413.6" y="858.2" width="5.4" height="5.4" fill="#4b1a6b" />
<line x1="433.3" y1="856.9" x2="433.3" y2="874.7" stroke="#8e5aa8" stroke-width="1" />
<line x1="430.7" y1="856.9" x2="435.9" y2="856.9" stroke="#8e5aa8" stroke-width="1" />
<line x1="430.7" y1="874.7" x2="435.9" y2="874.7" stroke="#8e5aa8" stroke-width="1" />
<rect x="430.6" y="863.1" width="5.4" height="5.4" fill="#4b1a6b" />
<line x1="450.4" y1="857.7" x2="450.4" y2="866.9" stroke="#8e5aa8" stroke-width="1" />
<line x1="447.8" y1="857.7" x2="453.0" y2="857.7" stroke="#8e5aa8" stroke-width="1" />
<line x1="447.8" y1="866.9" x2="453.0" y2="866.9" stroke="#8e5aa8" stroke-width="1" />
<rect x="447.7" y="859.6" width="5.4" height="5.4" fill="#4b1a6b" />
<line x1="467.4" y1="860.6" x2="467.4" y2="868.2" stroke="#8e5aa8" stroke-width="1" />
<line x1="464.8" y1="860.6" x2="470.0" y2="860.6" stroke="#8e5aa8" stroke-width="1" />
<line x1="464.8" y1="868.2" x2="470.0" y2="868.2" stroke="#8e5aa8" stroke-width="1" />
<rect x="464.7" y="861.7" width="5.4" height="5.4" fill="#4b1a6b" />
<line x1="484.4" y1="856.0" x2="484.4" y2="866.6" stroke="#8e5aa8" stroke-width="1" />
<line x1="481.8" y1="856.0" x2="487.1" y2="856.0" stroke="#8e5aa8" stroke-width="1" />
<line x1="481.8" y1="866.6" x2="487.1" y2="866.6" stroke="#8e5aa8" stroke-width="1" />
<rect x="481.8" y="858.6" width="5.4" height="5.4" fill="#4b1a6b" />
<line x1="501.5" y1="842.0" x2="501.5" y2="851.2" stroke="#8e5aa8" stroke-width="1" />
<line x1="498.9" y1="842.0" x2="504.1" y2="842.0" stroke="#8e5aa8" stroke-width="1" />
<line x1="498.9" y1="851.2" x2="504.1" y2="851.2" stroke="#8e5aa8" stroke-width="1" />
<rect x="498.8" y="843.9" width="5.4" height="5.4" fill="#4b1a6b" />
<line x1="518.5" y1="809.5" x2="518.5" y2="826.5" stroke="#8e5aa8" stroke-width="1" />
<line x1="515.9" y1="809.5" x2="521.1" y2="809.5" stroke="#8e5aa8" stroke-width="1" />
<line x1="515.9" y1="826.5" x2="521.1" y2="826.5" stroke="#8e5aa8" stroke-width="1" />
<rect x="515.8" y="815.3" width="5.4" height="5.4" fill="#4b1a6b" />
<line x1="535.6" y1="802.1" x2="535.6" y2="815.7" stroke="#8e5aa8" stroke-width="1" />
<line x1="533.0" y1="802.1" x2="538.2" y2="802.1" stroke="#8e5aa8" stroke-width="1" />
<line x1="533.0" y1="815.7" x2="538.2" y2="815.7" stroke="#8e5aa8" stroke-width="1" />
<rect x="532.9" y="806.2" width="5.4" height="5.4" fill="#4b1a6b" />
<line x1="552.6" y1="789.1" x2="552.6" y2="805.5" stroke="#8e5aa8" stroke-width="1" />
<line x1="550.0" y1="789.1" x2="555.2" y2="789.1" stroke="#8e5aa8" stroke-width="1" />
<line x1="550.0" y1="805.5" x2="555.2" y2="805.5" stroke="#8e5aa8" stroke-width="1" />
<rect x="549.9" y="794.6" width="5.4" height="5.4" fill="#4b1a6b" />
<rect x="567.0" y="788.9" width="5.4" height="5.4" fill="#4b1a6b" />
<line x1="586.8" y1="765.6" x2="586.8" y2="790.2" stroke="#8e5aa8" stroke-width="1" />
<line x1="584.1" y1="765.6" x2="589.4" y2="765.6" stroke="#8e5aa8" stroke-width="1" />
<line x1="584.1" y1="790.2" x2="589.4" y2="790.2" stroke="#8e5aa8" stroke-width="1" />
<rect x="584.0" y="775.2" width="5.4" height="5.4" fill="#4b1a6b" />
<line x1="603.8" y1="755.2" x2="603.8" y2="775.2" stroke="#8e5aa8" stroke-width="1" />
<line x1="601.2" y1="755.2" x2="606.4" y2="755.2" stroke="#8e5aa8" stroke-width="1" />
<line x1="601.2" y1="775.2" x2="606.4" y2="775.2" stroke="#8e5aa8" stroke-width="1" />
<rect x="601.1" y="762.5" width="5.4" height="5.4" fill="#4b1a6b" />
<line x1="620.9" y1="742.5" x2="620.9" y2="753.1" stroke="#8e5aa8" stroke-width="1" />
<line x1="618.2" y1="742.5" x2="623.5" y2="742.5" stroke="#8e5aa8" stroke-width="1" />
<line x1="618.2" y1="753.1" x2="623.5" y2="753.1" stroke="#8e5aa8" stroke-width="1" />
<rect x="618.1" y="745.1" width="5.4" height="5.4" fill="#4b1a6b" />
<line x1="399.2" y1="869.3" x2="399.2" y2="879.9" stroke="#3f78bf" stroke-width="1" />
<line x1="396.6" y1="869.3" x2="401.8" y2="869.3" stroke="#3f78bf" stroke-width="1" />
<line x1="396.6" y1="879.9" x2="401.8" y2="879.9" stroke="#3f78bf" stroke-width="1" />
<circle cx="399.2" cy="874.6" r="2.7" fill="#0e4895"/>
<line x1="416.2" y1="863.4" x2="416.2" y2="873.6" stroke="#3f78bf" stroke-width="1" />
<line x1="413.6" y1="863.4" x2="418.9" y2="863.4" stroke="#3f78bf" stroke-width="1" />
<line x1="413.6" y1="873.6" x2="418.9" y2="873.6" stroke="#3f78bf" stroke-width="1" />
<circle cx="416.2" cy="868.5" r="2.7" fill="#0e4895"/>
<line x1="433.3" y1="864.4" x2="433.3" y2="874.6" stroke="#3f78bf" stroke-width="1" />
<line x1="430.7" y1="864.4" x2="435.9" y2="864.4" stroke="#3f78bf" stroke-width="1" />
<line x1="430.7" y1="874.6" x2="435.9" y2="874.6" stroke="#3f78bf" stroke-width="1" />
<circle cx="433.3" cy="869.5" r="2.7" fill="#0e4895"/>
<line x1="450.4" y1="855.1" x2="450.4" y2="869.5" stroke="#3f78bf" stroke-width="1" />
<line x1="447.8" y1="855.1" x2="453.0" y2="855.1" stroke="#3f78bf" stroke-width="1" />
<line x1="447.8" y1="869.5" x2="453.0" y2="869.5" stroke="#3f78bf" stroke-width="1" />
<circle cx="450.4" cy="862.3" r="2.7" fill="#0e4895"/>
<line x1="467.4" y1="849.3" x2="467.4" y2="869.3" stroke="#3f78bf" stroke-width="1" />
<line x1="464.8" y1="849.3" x2="470.0" y2="849.3" stroke="#3f78bf" stroke-width="1" />
<line x1="464.8" y1="869.3" x2="470.0" y2="869.3" stroke="#3f78bf" stroke-width="1" />
<circle cx="467.4" cy="859.3" r="2.7" fill="#0e4895"/>
<line x1="484.4" y1="853.3" x2="484.4" y2="865.3" stroke="#3f78bf" stroke-width="1" />
<line x1="481.8" y1="853.3" x2="487.1" y2="853.3" stroke="#3f78bf" stroke-width="1" />
<line x1="481.8" y1="865.3" x2="487.1" y2="865.3" stroke="#3f78bf" stroke-width="1" />
<circle cx="484.4" cy="859.3" r="2.7" fill="#0e4895"/>
<line x1="501.5" y1="832.3" x2="501.5" y2="847.5" stroke="#3f78bf" stroke-width="1" />
<line x1="498.9" y1="832.3" x2="504.1" y2="832.3" stroke="#3f78bf" stroke-width="1" />
<line x1="498.9" y1="847.5" x2="504.1" y2="847.5" stroke="#3f78bf" stroke-width="1" />
<circle cx="501.5" cy="839.9" r="2.7" fill="#0e4895"/>
<circle cx="518.5" cy="835.2" r="2.7" fill="#0e4895"/>
<line x1="535.6" y1="807.7" x2="535.6" y2="812.7" stroke="#3f78bf" stroke-width="1" />
<line x1="533.0" y1="807.7" x2="538.2" y2="807.7" stroke="#3f78bf" stroke-width="1" />
<line x1="533.0" y1="812.7" x2="538.2" y2="812.7" stroke="#3f78bf" stroke-width="1" />
<circle cx="535.6" cy="810.2" r="2.7" fill="#0e4895"/>
<line x1="552.6" y1="786.2" x2="552.6" y2="794.0" stroke="#3f78bf" stroke-width="1" />
<line x1="550.0" y1="786.2" x2="555.2" y2="786.2" stroke="#3f78bf" stroke-width="1" />
<line x1="550.0" y1="794.0" x2="555.2" y2="794.0" stroke="#3f78bf" stroke-width="1" />
<circle cx="552.6" cy="790.1" r="2.7" fill="#0e4895"/>
<circle cx="569.7" cy="776.9" r="2.7" fill="#0e4895"/>
<line x1="586.8" y1="759.5" x2="586.8" y2="767.7" stroke="#3f78bf" stroke-width="1" />
<line x1="584.1" y1="759.5" x2="589.4" y2="759.5" stroke="#3f78bf" stroke-width="1" />
<line x1="584.1" y1="767.7" x2="589.4" y2="767.7" stroke="#3f78bf" stroke-width="1" />
<circle cx="586.8" cy="763.6" r="2.7" fill="#0e4895"/>
<line x1="603.8" y1="736.4" x2="603.8" y2="751.2" stroke="#3f78bf" stroke-width="1" />
<line x1="601.2" y1="736.4" x2="606.4" y2="736.4" stroke="#3f78bf" stroke-width="1" />
<line x1="601.2" y1="751.2" x2="606.4" y2="751.2" stroke="#3f78bf" stroke-width="1" />
<circle cx="603.8" cy="743.8" r="2.7" fill="#0e4895"/>
<line x1="620.9" y1="704.0" x2="620.9" y2="723.8" stroke="#3f78bf" stroke-width="1" />
<line x1="618.2" y1="704.0" x2="623.5" y2="704.0" stroke="#3f78bf" stroke-width="1" />
<line x1="618.2" y1="723.8" x2="623.5" y2="723.8" stroke="#3f78bf" stroke-width="1" />
<circle cx="620.9" cy="713.9" r="2.7" fill="#0e4895"/>
<circle cx="393.5" cy="706.8" r="4.4" fill="#0e4895"/>
<rect x="389.2" y="720.0" width="8.7" height="9.2" fill="#4b1a6b" />
<text x="404.51" y="710.90" font-size="14.60" text-anchor="start" font-weight="normal" fill="#111" textLength="113.41" lengthAdjust="spacingAndGlyphs">HMfB + 80-bp DNA</text>
<text x="404.52" y="729.30" font-size="14.60" text-anchor="start" font-weight="normal" fill="#111" textLength="151.01" lengthAdjust="spacingAndGlyphs">HMfB + 80-bp-GC40 DNA</text>
<line x1="47.4" y1="1202.9" x2="52.3" y2="1202.9" stroke="#000" stroke-width="1.8" />
<line x1="49.2" y1="1184.5" x2="52.3" y2="1184.5" stroke="#000" stroke-width="1.8" />
<line x1="47.4" y1="1166.0" x2="52.3" y2="1166.0" stroke="#000" stroke-width="1.8" />
<line x1="49.2" y1="1147.6" x2="52.3" y2="1147.6" stroke="#000" stroke-width="1.8" />
<line x1="47.4" y1="1129.1" x2="52.3" y2="1129.1" stroke="#000" stroke-width="1.8" />
<line x1="49.2" y1="1110.7" x2="52.3" y2="1110.7" stroke="#000" stroke-width="1.8" />
<line x1="47.4" y1="1092.2" x2="52.3" y2="1092.2" stroke="#000" stroke-width="1.8" />
<line x1="49.2" y1="1073.8" x2="52.3" y2="1073.8" stroke="#000" stroke-width="1.8" />
<line x1="47.4" y1="1055.3" x2="52.3" y2="1055.3" stroke="#000" stroke-width="1.8" />
<line x1="49.2" y1="1036.9" x2="52.3" y2="1036.9" stroke="#000" stroke-width="1.8" />
<line x1="47.4" y1="1018.4" x2="52.3" y2="1018.4" stroke="#000" stroke-width="1.8" />
<text x="26.09" y="1210.10" font-size="14.40" text-anchor="start" font-weight="normal" fill="#111" textLength="17.58" lengthAdjust="spacingAndGlyphs" stroke="#111" stroke-width="0.12">0.0</text>
<text x="26.09" y="1173.20" font-size="14.40" text-anchor="start" font-weight="normal" fill="#111" textLength="17.75" lengthAdjust="spacingAndGlyphs" stroke="#111" stroke-width="0.12">0.2</text>
<text x="26.10" y="1136.30" font-size="14.40" text-anchor="start" font-weight="normal" fill="#111" textLength="17.45" lengthAdjust="spacingAndGlyphs" stroke="#111" stroke-width="0.12">0.4</text>
<text x="26.09" y="1099.40" font-size="14.40" text-anchor="start" font-weight="normal" fill="#111" textLength="17.65" lengthAdjust="spacingAndGlyphs" stroke="#111" stroke-width="0.12">0.6</text>
<text x="26.09" y="1062.50" font-size="14.40" text-anchor="start" font-weight="normal" fill="#111" textLength="17.65" lengthAdjust="spacingAndGlyphs" stroke="#111" stroke-width="0.12">0.8</text>
<text x="25.63" y="1025.60" font-size="14.40" text-anchor="start" font-weight="normal" fill="#111" textLength="18.06" lengthAdjust="spacingAndGlyphs" stroke="#111" stroke-width="0.12">1.0</text>
<line x1="102.2" y1="1212.0" x2="102.2" y2="1217.3" stroke="#000" stroke-width="1.8" />
<line x1="152.6" y1="1212.0" x2="152.6" y2="1216.0" stroke="#000" stroke-width="1.8" />
<line x1="203.0" y1="1212.0" x2="203.0" y2="1216.0" stroke="#000" stroke-width="1.8" />
<line x1="253.4" y1="1212.0" x2="253.4" y2="1217.3" stroke="#000" stroke-width="1.8" />
<line x1="303.8" y1="1212.0" x2="303.8" y2="1216.0" stroke="#000" stroke-width="1.8" />
<text x="97.89" y="1231.20" font-size="15.00" text-anchor="start" font-weight="normal" fill="#111" textLength="9.02" lengthAdjust="spacingAndGlyphs" stroke="#111" stroke-width="0.12">6</text>
<text x="246.78" y="1231.20" font-size="15.00" text-anchor="start" font-weight="normal" fill="#111" textLength="13.66" lengthAdjust="spacingAndGlyphs" stroke="#111" stroke-width="0.12">12</text>
<line x1="353.0" y1="1211.8" x2="358.5" y2="1211.8" stroke="#000" stroke-width="1.8" />
<line x1="353.0" y1="1161.4" x2="358.5" y2="1161.4" stroke="#000" stroke-width="1.8" />
<line x1="353.0" y1="1111.0" x2="358.5" y2="1111.0" stroke="#000" stroke-width="1.8" />
<line x1="353.0" y1="1060.6" x2="358.5" y2="1060.6" stroke="#000" stroke-width="1.8" />
<line x1="353.0" y1="1010.2" x2="358.5" y2="1010.2" stroke="#000" stroke-width="1.8" />
<line x1="353.0" y1="1196.6" x2="356.2" y2="1196.6" stroke="#000" stroke-width="1.2" />
<line x1="353.0" y1="1187.8" x2="356.2" y2="1187.8" stroke="#000" stroke-width="1.2" />
<line x1="353.0" y1="1181.5" x2="356.2" y2="1181.5" stroke="#000" stroke-width="1.2" />
<line x1="353.0" y1="1176.6" x2="356.2" y2="1176.6" stroke="#000" stroke-width="1.2" />
<line x1="353.0" y1="1172.6" x2="356.2" y2="1172.6" stroke="#000" stroke-width="1.2" />
<line x1="353.0" y1="1169.2" x2="356.2" y2="1169.2" stroke="#000" stroke-width="1.2" />
<line x1="353.0" y1="1166.3" x2="356.2" y2="1166.3" stroke="#000" stroke-width="1.2" />
<line x1="353.0" y1="1163.7" x2="356.2" y2="1163.7" stroke="#000" stroke-width="1.2" />
<line x1="353.0" y1="1146.2" x2="356.2" y2="1146.2" stroke="#000" stroke-width="1.2" />
<line x1="353.0" y1="1137.4" x2="356.2" y2="1137.4" stroke="#000" stroke-width="1.2" />
<line x1="353.0" y1="1131.1" x2="356.2" y2="1131.1" stroke="#000" stroke-width="1.2" />
<line x1="353.0" y1="1126.2" x2="356.2" y2="1126.2" stroke="#000" stroke-width="1.2" />
<line x1="353.0" y1="1122.2" x2="356.2" y2="1122.2" stroke="#000" stroke-width="1.2" />
<line x1="353.0" y1="1118.8" x2="356.2" y2="1118.8" stroke="#000" stroke-width="1.2" />
<line x1="353.0" y1="1115.9" x2="356.2" y2="1115.9" stroke="#000" stroke-width="1.2" />
<line x1="353.0" y1="1113.3" x2="356.2" y2="1113.3" stroke="#000" stroke-width="1.2" />
<line x1="353.0" y1="1095.8" x2="356.2" y2="1095.8" stroke="#000" stroke-width="1.2" />
<line x1="353.0" y1="1087.0" x2="356.2" y2="1087.0" stroke="#000" stroke-width="1.2" />
<line x1="353.0" y1="1080.7" x2="356.2" y2="1080.7" stroke="#000" stroke-width="1.2" />
<line x1="353.0" y1="1075.8" x2="356.2" y2="1075.8" stroke="#000" stroke-width="1.2" />
<line x1="353.0" y1="1071.8" x2="356.2" y2="1071.8" stroke="#000" stroke-width="1.2" />
<line x1="353.0" y1="1068.4" x2="356.2" y2="1068.4" stroke="#000" stroke-width="1.2" />
<line x1="353.0" y1="1065.5" x2="356.2" y2="1065.5" stroke="#000" stroke-width="1.2" />
<line x1="353.0" y1="1062.9" x2="356.2" y2="1062.9" stroke="#000" stroke-width="1.2" />
<line x1="353.0" y1="1045.4" x2="356.2" y2="1045.4" stroke="#000" stroke-width="1.2" />
<line x1="353.0" y1="1036.6" x2="356.2" y2="1036.6" stroke="#000" stroke-width="1.2" />
<line x1="353.0" y1="1030.3" x2="356.2" y2="1030.3" stroke="#000" stroke-width="1.2" />
<line x1="353.0" y1="1025.4" x2="356.2" y2="1025.4" stroke="#000" stroke-width="1.2" />
<line x1="353.0" y1="1021.4" x2="356.2" y2="1021.4" stroke="#000" stroke-width="1.2" />
<line x1="353.0" y1="1018.0" x2="356.2" y2="1018.0" stroke="#000" stroke-width="1.2" />
<line x1="353.0" y1="1015.1" x2="356.2" y2="1015.1" stroke="#000" stroke-width="1.2" />
<line x1="353.0" y1="1012.5" x2="356.2" y2="1012.5" stroke="#000" stroke-width="1.2" />
<text x="359.78" y="1217.60" font-size="15.00" text-anchor="start" font-weight="normal" fill="#111" textLength="15.05" lengthAdjust="spacingAndGlyphs" stroke="#111" stroke-width="0.1">10</text>
<text x="375.02" y="1210.60" font-size="10.00" text-anchor="start" font-weight="normal" fill="#111" textLength="4.28" lengthAdjust="spacingAndGlyphs" stroke="#111" stroke-width="0.05">2</text>
<text x="359.78" y="1167.20" font-size="15.00" text-anchor="start" font-weight="normal" fill="#111" textLength="15.05" lengthAdjust="spacingAndGlyphs" stroke="#111" stroke-width="0.1">10</text>
<text x="375.12" y="1160.20" font-size="10.00" text-anchor="start" font-weight="normal" fill="#111" textLength="4.10" lengthAdjust="spacingAndGlyphs" stroke="#111" stroke-width="0.05">3</text>
<text x="359.78" y="1116.80" font-size="15.00" text-anchor="start" font-weight="normal" fill="#111" textLength="15.05" lengthAdjust="spacingAndGlyphs" stroke="#111" stroke-width="0.1">10</text>
<text x="375.24" y="1109.80" font-size="10.00" text-anchor="start" font-weight="normal" fill="#111" textLength="3.85" lengthAdjust="spacingAndGlyphs" stroke="#111" stroke-width="0.05">4</text>
<text x="359.78" y="1066.40" font-size="15.00" text-anchor="start" font-weight="normal" fill="#111" textLength="15.05" lengthAdjust="spacingAndGlyphs" stroke="#111" stroke-width="0.1">10</text>
<text x="375.11" y="1059.40" font-size="10.00" text-anchor="start" font-weight="normal" fill="#111" textLength="4.10" lengthAdjust="spacingAndGlyphs" stroke="#111" stroke-width="0.05">5</text>
<text x="359.78" y="1016.00" font-size="15.00" text-anchor="start" font-weight="normal" fill="#111" textLength="15.05" lengthAdjust="spacingAndGlyphs" stroke="#111" stroke-width="0.1">10</text>
<text x="375.02" y="1009.00" font-size="10.00" text-anchor="start" font-weight="normal" fill="#111" textLength="4.21" lengthAdjust="spacingAndGlyphs" stroke="#111" stroke-width="0.05">6</text>
<path d="M52.3,1009.4 L52.3,1212 L353,1212 L353,1009.4 Z" fill="none" stroke="#000" stroke-width="2"/>
<text x="163.82" y="1002.10" font-size="20.20" text-anchor="start" font-weight="normal" fill="#111" textLength="100.47" lengthAdjust="spacingAndGlyphs">SEC-MALS</text>
<text x="162.82" y="1247.60" font-size="17.00" text-anchor="start" font-weight="normal" fill="#111" textLength="95.21" lengthAdjust="spacingAndGlyphs">Volume (mL)</text>
<text transform="translate(18,1170.4) rotate(-90)" font-size="17.7" fill="#111" textLength="127.5" lengthAdjust="spacingAndGlyphs">Absorbance (AU)</text>
<text transform="translate(384.5,1049.5) rotate(90)" font-size="17" fill="#111" textLength="124" lengthAdjust="spacingAndGlyphs">Molar mass (Da)</text>
<polyline points="53.8,1202.3 54.2,1202.3 54.6,1202.3 55.0,1202.3 55.4,1202.3 55.8,1202.3 56.2,1202.3 56.6,1202.3 57.0,1202.3 57.4,1202.3 57.8,1202.3 58.2,1202.3 58.6,1202.3 59.0,1202.3 59.4,1202.3 59.8,1202.3 60.2,1202.3 60.6,1202.3 61.0,1202.3 61.4,1202.3 61.8,1202.3 62.2,1202.3 62.6,1202.3 63.0,1202.3 63.4,1202.3 63.8,1202.3 64.2,1202.3 64.6,1202.3 65.0,1202.3 65.4,1202.3 65.8,1202.3 66.2,1202.3 66.6,1202.3 67.0,1202.3 67.4,1202.3 67.8,1202.3 68.2,1202.3 68.6,1202.3 69.0,1202.3 69.4,1202.3 69.8,1202.3 70.2,1202.3 70.6,1202.3 71.0,1202.3 71.4,1202.3 71.8,1202.3 72.2,1202.3 72.6,1202.3 73.0,1202.3 73.4,1202.3 73.8,1202.3 74.2,1202.3 74.6,1202.3 75.0,1202.3 75.4,1202.3 75.8,1202.3 76.2,1202.3 76.6,1202.3 77.0,1202.3 77.4,1202.3 77.8,1202.3 78.2,1202.3 78.6,1202.3 79.0,1202.3 79.4,1202.3 79.8,1202.3 80.2,1202.3 80.6,1202.3 81.0,1202.3 81.4,1202.3 81.8,1202.3 82.2,1202.3 82.6,1202.3 83.0,1202.3 83.4,1202.3 83.8,1202.3 84.2,1202.3 84.6,1202.3 85.0,1202.3 85.4,1202.3 85.8,1202.3 86.2,1202.3 86.6,1202.3 87.0,1202.3 87.4,1202.3 87.8,1202.3 88.2,1202.3 88.6,1202.3 89.0,1202.3 89.4,1202.3 89.8,1202.3 90.2,1202.3 90.6,1202.3 91.0,1202.3 91.4,1202.3 91.8,1202.3 92.2,1202.3 92.6,1202.3 93.0,1202.3 93.4,1202.3 93.8,1202.3 94.2,1202.3 94.6,1202.3 95.0,1202.3 95.4,1202.3 95.8,1202.3 96.2,1202.3 96.6,1202.3 97.0,1202.3 97.4,1202.3 97.8,1202.3 98.2,1202.3 98.6,1202.3 99.0,1202.3 99.4,1202.3 99.8,1202.3 100.2,1202.3 100.6,1202.2 101.0,1202.2 101.4,1202.2 101.8,1202.1 102.2,1202.1 102.6,1202.0 103.0,1201.9 103.4,1201.9 103.8,1201.8 104.2,1201.7 104.6,1201.6 105.0,1201.4 105.4,1201.3 105.8,1201.1 106.2,1200.9 106.6,1200.7 107.0,1200.5 107.4,1200.3 107.8,1200.1 108.2,1199.8 108.6,1199.6 109.0,1199.3 109.4,1199.0 109.8,1198.7 110.2,1198.5 110.6,1198.2 111.0,1197.9 111.4,1197.7 111.8,1197.5 112.2,1197.3 112.6,1197.1 113.0,1196.9 113.4,1196.8 113.8,1196.7 114.2,1196.6 114.6,1196.6 115.0,1196.6 115.4,1196.6 115.8,1196.6 116.2,1196.6 116.6,1196.7 117.0,1196.8 117.4,1196.8 117.8,1196.9 118.2,1197.0 118.6,1197.1 119.0,1197.2 119.4,1197.3 119.8,1197.5 120.2,1197.6 120.6,1197.7 121.0,1197.9 121.4,1198.0 121.8,1198.2 122.2,1198.3 122.6,1198.5 123.0,1198.6 123.4,1198.8 123.8,1198.9 124.2,1199.0 124.6,1199.2 125.0,1199.3 125.4,1199.4 125.8,1199.6 126.2,1199.7 126.6,1199.8 127.0,1199.9 127.4,1200.0 127.8,1200.1 128.2,1200.1 128.6,1200.2 129.0,1200.3 129.4,1200.4 129.8,1200.4 130.2,1200.5 130.6,1200.5 131.0,1200.6 131.4,1200.6 131.8,1200.6 132.2,1200.7 132.6,1200.7 133.0,1200.7 133.4,1200.7 133.8,1200.8 134.2,1200.8 134.6,1200.8 135.0,1200.8 135.4,1200.8 135.8,1200.8 136.2,1200.8 136.6,1200.8 137.0,1200.8 137.4,1200.8 137.8,1200.9 138.2,1200.9 138.6,1200.9 139.0,1200.9 139.4,1200.9 139.8,1200.9 140.2,1200.9 140.6,1200.9 141.0,1200.9 141.4,1200.9 141.8,1200.9 142.2,1200.9 142.6,1200.9 143.0,1200.9 143.4,1200.9 143.8,1200.9 144.2,1200.9 144.6,1200.9 145.0,1200.9 145.4,1200.9 145.8,1200.9 146.2,1200.9 146.6,1200.9 147.0,1200.9 147.4,1200.9 147.8,1200.9 148.2,1200.9 148.6,1200.9 149.0,1200.9 149.4,1200.9 149.8,1200.9 150.2,1200.9 150.6,1200.9 151.0,1200.9 151.4,1200.9 151.8,1200.8 152.2,1200.8 152.6,1200.8 153.0,1200.8 153.4,1200.8 153.8,1200.7 154.2,1200.7 154.6,1200.6 155.0,1200.5 155.4,1200.4 155.8,1200.2 156.2,1200.0 156.6,1199.8 157.0,1199.5 157.4,1199.2 157.8,1198.9 158.2,1198.6 158.6,1198.2 159.0,1197.8 159.4,1197.4 159.8,1197.1 160.2,1196.8 160.6,1196.5 161.0,1196.3 161.4,1196.1 161.8,1196.0 162.2,1196.0 162.6,1196.1 163.0,1196.1 163.4,1196.2 163.8,1196.2 164.2,1196.1 164.6,1195.9 165.0,1195.5 165.4,1194.9 165.8,1193.9 166.2,1192.5 166.6,1190.7 167.0,1188.5 167.4,1185.9 167.8,1182.8 168.2,1179.6 168.6,1176.1 169.0,1172.7 169.4,1169.5 169.8,1166.7 170.2,1164.4 170.6,1162.9 171.0,1162.2 171.4,1162.6 171.8,1163.2 172.2,1163.9 172.6,1164.7 173.0,1165.6 173.4,1166.5 173.8,1167.5 174.2,1168.6 174.6,1169.7 175.0,1170.8 175.4,1172.0 175.8,1173.2 176.2,1174.4 176.6,1175.6 177.0,1176.8 177.4,1178.0 177.8,1179.2 178.2,1180.4 178.6,1181.5 179.0,1182.6 179.4,1183.7 179.8,1184.7 180.2,1185.7 180.6,1186.6 181.0,1187.5 181.4,1188.3 181.8,1189.1 182.2,1189.8 182.6,1190.4 183.0,1191.0 183.4,1191.6 183.8,1192.1 184.2,1192.6 184.6,1193.1 185.0,1193.5 185.4,1193.8 185.8,1194.2 186.2,1194.5 186.6,1194.8 187.0,1195.1 187.4,1195.4 187.8,1195.6 188.2,1195.8 188.6,1196.0 189.0,1196.2 189.4,1196.4 189.8,1196.6 190.2,1196.8 190.6,1196.9 191.0,1197.0 191.4,1197.2 191.8,1197.3 192.2,1197.3 192.6,1197.3 193.0,1197.3 193.4,1197.2 193.8,1197.0 194.2,1196.7 194.6,1196.3 195.0,1195.6 195.4,1194.8 195.8,1193.6 196.2,1192.1 196.6,1190.3 197.0,1187.9 197.4,1185.1 197.8,1181.6 198.2,1177.4 198.6,1172.5 199.0,1166.8 199.4,1160.2 199.8,1152.9 200.2,1144.6 200.6,1135.6 201.0,1125.9 201.4,1115.6 201.8,1104.8 202.2,1093.7 202.6,1082.6 203.0,1071.6 203.4,1061.1 203.8,1051.3 204.2,1042.5 204.6,1034.9 205.0,1028.7 205.4,1024.2 205.8,1021.4 206.2,1020.5 206.6,1023.4 207.0,1026.7 207.4,1030.5 207.8,1034.8 208.2,1039.5 208.6,1044.5 209.0,1049.9 209.4,1055.6 209.8,1061.6 210.2,1067.7 210.6,1074.0 211.0,1080.3 211.4,1086.7 211.8,1093.1 212.2,1099.4 212.6,1105.6 213.0,1111.6 213.4,1117.4 213.8,1123.1 214.2,1128.4 214.6,1133.5 215.0,1138.3 215.4,1142.9 215.8,1147.1 216.2,1151.0 216.6,1154.7 217.0,1158.1 217.4,1161.2 217.8,1164.0 218.2,1166.6 218.6,1168.9 219.0,1171.1 219.4,1173.0 219.8,1174.8 220.2,1176.4 220.6,1177.8 221.0,1179.1 221.4,1180.3 221.8,1181.4 222.2,1182.3 222.6,1183.2 223.0,1184.0 223.4,1184.7 223.8,1185.3 224.2,1185.8 224.6,1186.2 225.0,1186.6 225.4,1186.8 225.8,1186.8 226.2,1186.6 226.6,1186.3 227.0,1185.7 227.4,1184.9 227.8,1183.7 228.2,1182.3 228.6,1180.5 229.0,1178.4 229.4,1176.0 229.8,1173.3 230.2,1170.4 230.6,1167.5 231.0,1164.4 231.4,1161.5 231.8,1158.8 232.2,1156.4 232.6,1154.3 233.0,1152.8 233.4,1151.8 233.8,1151.3 234.2,1150.9 234.6,1150.7 235.0,1150.8 235.4,1151.1 235.8,1151.6 236.2,1152.4 236.6,1153.6 237.0,1155.0 237.4,1156.6 237.8,1158.2 238.2,1160.0 238.6,1161.8 239.0,1163.7 239.4,1165.6 239.8,1167.4 240.2,1169.2 240.6,1171.0 241.0,1172.6 241.4,1174.2 241.8,1175.7 242.2,1177.1 242.6,1178.4 243.0,1179.6 243.4,1180.7 243.8,1181.6 244.2,1182.5 244.6,1183.3 245.0,1184.0 245.4,1184.5 245.8,1185.0 246.2,1185.4 246.6,1185.7 247.0,1185.9 247.4,1186.0 247.8,1186.0 248.2,1186.0 248.6,1185.8 249.0,1185.6 249.4,1185.3 249.8,1185.0 250.2,1184.6 250.6,1184.2 251.0,1183.8 251.4,1183.3 251.8,1182.9 252.2,1182.5 252.6,1182.2 253.0,1182.0 253.4,1181.9 253.8,1181.9 254.2,1182.0 254.6,1182.2 255.0,1182.4 255.4,1182.7 255.8,1183.0 256.2,1183.4 256.6,1183.9 257.0,1184.3 257.4,1184.8 257.8,1185.4 258.2,1185.9 258.6,1186.5 259.0,1187.1 259.4,1187.6 259.8,1188.2 260.2,1188.8 260.6,1189.3 261.0,1189.8 261.4,1190.4 261.8,1190.8 262.2,1191.3 262.6,1191.7 263.0,1192.1 263.4,1192.5 263.8,1192.8 264.2,1193.2 264.6,1193.4 265.0,1193.7 265.4,1194.0 265.8,1194.2 266.2,1194.4 266.6,1194.6 267.0,1194.7 267.4,1194.9 267.8,1195.0 268.2,1195.2 268.6,1195.3 269.0,1195.4 269.4,1195.5 269.8,1195.6 270.2,1195.7 270.6,1195.8 271.0,1195.9 271.4,1196.0 271.8,1196.1 272.2,1196.1 272.6,1196.2 273.0,1196.3 273.4,1196.3 273.8,1196.4 274.2,1196.5 274.6,1196.5 275.0,1196.6 275.4,1196.7 275.8,1196.7 276.2,1196.8 276.6,1196.9 277.0,1196.9 277.4,1197.0 277.8,1197.0 278.2,1197.1 278.6,1197.1 279.0,1197.2 279.4,1197.2 279.8,1197.3 280.2,1197.3 280.6,1197.4 281.0,1197.4 281.4,1197.5 281.8,1197.5 282.2,1197.6 282.6,1197.6 283.0,1197.6 283.4,1197.7 283.8,1197.7 284.2,1197.8 284.6,1197.8 285.0,1197.8 285.4,1197.9 285.8,1197.9 286.2,1198.0 286.6,1198.0 287.0,1198.0 287.4,1198.1 287.8,1198.1 288.2,1198.1 288.6,1198.2 289.0,1198.2 289.4,1198.2 289.8,1198.3 290.2,1198.3 290.6,1198.3 291.0,1198.3 291.4,1198.4 291.8,1198.4 292.2,1198.4 292.6,1198.5 293.0,1198.5 293.4,1198.5 293.8,1198.5 294.2,1198.6 294.6,1198.6 295.0,1198.6 295.4,1198.6 295.8,1198.7 296.2,1198.7 296.6,1198.7 297.0,1198.7 297.4,1198.8 297.8,1198.8 298.2,1198.8 298.6,1198.8 299.0,1198.8 299.4,1198.9 299.8,1198.9 300.2,1198.9 300.6,1198.9 301.0,1198.9 301.4,1199.0 301.8,1199.0 302.2,1199.0 302.6,1199.0 303.0,1199.0 303.4,1199.0 303.8,1199.1 304.2,1199.1 304.6,1199.1 305.0,1199.1 305.4,1199.1 305.8,1199.1 306.2,1199.2 306.6,1199.2 307.0,1199.2 307.4,1199.2 307.8,1199.2 308.2,1199.2 308.6,1199.2 309.0,1199.3 309.4,1199.3 309.8,1199.3 310.2,1199.3 310.6,1199.3 311.0,1199.3 311.4,1199.3 311.8,1199.3 312.2,1199.4 312.6,1199.4 313.0,1199.4 313.4,1199.4 313.8,1199.4 314.2,1199.4 314.6,1199.4 315.0,1199.4 315.4,1199.4 315.8,1199.5 316.2,1199.5 316.6,1199.5 317.0,1199.5 317.4,1199.5 317.8,1199.5 318.2,1199.5 318.6,1199.5 319.0,1199.5 319.4,1199.5 319.8,1199.6 320.2,1199.6 320.6,1199.6 321.0,1199.6 321.4,1199.6 321.8,1199.6 322.2,1199.6 322.6,1199.6 323.0,1199.6 323.4,1199.6 323.8,1199.6 324.2,1199.7 324.6,1199.7 325.0,1199.7 325.4,1199.7 325.8,1199.7 326.2,1199.7 326.6,1199.7 327.0,1199.7 327.4,1199.7 327.8,1199.7 328.2,1199.7 328.6,1199.7 329.0,1199.7 329.4,1199.7 329.8,1199.8 330.2,1199.8 330.6,1199.8 331.0,1199.8 331.4,1199.8 331.8,1199.8 332.2,1199.8 332.6,1199.8 333.0,1199.8 333.4,1199.8 333.8,1199.8 334.2,1199.8 334.6,1199.8 335.0,1199.8 335.4,1199.8 335.8,1199.8 336.2,1199.8 336.6,1199.9 337.0,1199.9 337.4,1199.9 337.8,1199.9 338.2,1199.9 338.6,1199.9 339.0,1199.9 339.4,1199.9 339.8,1199.9 340.2,1199.9 340.6,1199.9 341.0,1199.9 341.4,1199.9 341.8,1199.9 342.2,1199.9 342.6,1199.9 343.0,1199.9 343.4,1199.9 343.8,1199.9 344.2,1199.9 344.6,1200.0 345.0,1200.0 345.4,1200.0 345.8,1200.0 346.2,1200.0 346.6,1200.0 347.0,1200.0 347.4,1200.0 347.8,1200.0 348.2,1200.0 348.6,1200.0 349.0,1200.0 349.4,1200.0 349.8,1200.0 350.2,1200.0 350.6,1200.0 351.0,1200.0 351.4,1200.0" fill="none" stroke="#8fd34e" stroke-width="1.9" stroke-linejoin="round"/>
<polyline points="53.8,1202.3 54.2,1202.3 54.6,1202.3 55.0,1202.3 55.4,1202.3 55.8,1202.3 56.2,1202.3 56.6,1202.3 57.0,1202.3 57.4,1202.3 57.8,1202.3 58.2,1202.3 58.6,1202.3 59.0,1202.3 59.4,1202.3 59.8,1202.3 60.2,1202.3 60.6,1202.3 61.0,1202.3 61.4,1202.3 61.8,1202.3 62.2,1202.3 62.6,1202.3 63.0,1202.3 63.4,1202.3 63.8,1202.3 64.2,1202.3 64.6,1202.3 65.0,1202.3 65.4,1202.3 65.8,1202.3 66.2,1202.3 66.6,1202.3 67.0,1202.3 67.4,1202.3 67.8,1202.3 68.2,1202.3 68.6,1202.3 69.0,1202.3 69.4,1202.3 69.8,1202.3 70.2,1202.3 70.6,1202.3 71.0,1202.3 71.4,1202.3 71.8,1202.3 72.2,1202.3 72.6,1202.3 73.0,1202.3 73.4,1202.3 73.8,1202.3 74.2,1202.3 74.6,1202.3 75.0,1202.3 75.4,1202.3 75.8,1202.3 76.2,1202.3 76.6,1202.3 77.0,1202.3 77.4,1202.3 77.8,1202.3 78.2,1202.3 78.6,1202.3 79.0,1202.3 79.4,1202.3 79.8,1202.3 80.2,1202.3 80.6,1202.3 81.0,1202.3 81.4,1202.3 81.8,1202.3 82.2,1202.3 82.6,1202.3 83.0,1202.3 83.4,1202.3 83.8,1202.3 84.2,1202.3 84.6,1202.3 85.0,1202.3 85.4,1202.3 85.8,1202.3 86.2,1202.3 86.6,1202.3 87.0,1202.3 87.4,1202.3 87.8,1202.3 88.2,1202.3 88.6,1202.3 89.0,1202.3 89.4,1202.3 89.8,1202.3 90.2,1202.3 90.6,1202.3 91.0,1202.3 91.4,1202.3 91.8,1202.3 92.2,1202.3 92.6,1202.3 93.0,1202.3 93.4,1202.3 93.8,1202.3 94.2,1202.3 94.6,1202.3 95.0,1202.3 95.4,1202.3 95.8,1202.3 96.2,1202.3 96.6,1202.3 97.0,1202.3 97.4,1202.3 97.8,1202.3 98.2,1202.3 98.6,1202.3 99.0,1202.3 99.4,1202.3 99.8,1202.3 100.2,1202.3 100.6,1202.3 101.0,1202.3 101.4,1202.3 101.8,1202.3 102.2,1202.3 102.6,1202.3 103.0,1202.3 103.4,1202.3 103.8,1202.3 104.2,1202.3 104.6,1202.3 105.0,1202.3 105.4,1202.3 105.8,1202.3 106.2,1202.3 106.6,1202.3 107.0,1202.3 107.4,1202.3 107.8,1202.3 108.2,1202.3 108.6,1202.3 109.0,1202.3 109.4,1202.3 109.8,1202.3 110.2,1202.3 110.6,1202.3 111.0,1202.3 111.4,1202.3 111.8,1202.3 112.2,1202.3 112.6,1202.3 113.0,1202.3 113.4,1202.3 113.8,1202.3 114.2,1202.3 114.6,1202.3 115.0,1202.3 115.4,1202.3 115.8,1202.3 116.2,1202.3 116.6,1202.3 117.0,1202.3 117.4,1202.3 117.8,1202.3 118.2,1202.3 118.6,1202.3 119.0,1202.3 119.4,1202.3 119.8,1202.3 120.2,1202.3 120.6,1202.3 121.0,1202.3 121.4,1202.3 121.8,1202.3 122.2,1202.3 122.6,1202.3 123.0,1202.3 123.4,1202.3 123.8,1202.3 124.2,1202.3 124.6,1202.3 125.0,1202.3 125.4,1202.3 125.8,1202.3 126.2,1202.3 126.6,1202.3 127.0,1202.3 127.4,1202.3 127.8,1202.3 128.2,1202.3 128.6,1202.3 129.0,1202.3 129.4,1202.3 129.8,1202.3 130.2,1202.3 130.6,1202.3 131.0,1202.3 131.4,1202.3 131.8,1202.3 132.2,1202.3 132.6,1202.3 133.0,1202.3 133.4,1202.3 133.8,1202.3 134.2,1202.3 134.6,1202.3 135.0,1202.3 135.4,1202.3 135.8,1202.3 136.2,1202.3 136.6,1202.3 137.0,1202.3 137.4,1202.3 137.8,1202.3 138.2,1202.3 138.6,1202.3 139.0,1202.3 139.4,1202.3 139.8,1202.3 140.2,1202.3 140.6,1202.3 141.0,1202.3 141.4,1202.3 141.8,1202.3 142.2,1202.3 142.6,1202.3 143.0,1202.3 143.4,1202.3 143.8,1202.3 144.2,1202.3 144.6,1202.3 145.0,1202.3 145.4,1202.3 145.8,1202.3 146.2,1202.3 146.6,1202.3 147.0,1202.3 147.4,1202.3 147.8,1202.3 148.2,1202.3 148.6,1202.3 149.0,1202.3 149.4,1202.3 149.8,1202.3 150.2,1202.3 150.6,1202.3 151.0,1202.3 151.4,1202.3 151.8,1202.3 152.2,1202.3 152.6,1202.3 153.0,1202.3 153.4,1202.2 153.8,1202.2 154.2,1202.2 154.6,1202.2 155.0,1202.2 155.4,1202.2 155.8,1202.2 156.2,1202.2 156.6,1202.2 157.0,1202.1 157.4,1202.1 157.8,1202.1 158.2,1202.1 158.6,1202.1 159.0,1202.0 159.4,1202.0 159.8,1202.0 160.2,1202.0 160.6,1201.9 161.0,1201.9 161.4,1201.9 161.8,1201.9 162.2,1201.8 162.6,1201.8 163.0,1201.8 163.4,1201.7 163.8,1201.7 164.2,1201.6 164.6,1201.6 165.0,1201.6 165.4,1201.5 165.8,1201.5 166.2,1201.4 166.6,1201.4 167.0,1201.3 167.4,1201.3 167.8,1201.2 168.2,1201.2 168.6,1201.1 169.0,1201.1 169.4,1201.0 169.8,1200.9 170.2,1200.9 170.6,1200.8 171.0,1200.8 171.4,1200.7 171.8,1200.6 172.2,1200.6 172.6,1200.5 173.0,1200.4 173.4,1200.4 173.8,1200.3 174.2,1200.3 174.6,1200.2 175.0,1200.1 175.4,1200.1 175.8,1200.0 176.2,1199.9 176.6,1199.9 177.0,1199.8 177.4,1199.8 177.8,1199.7 178.2,1199.7 178.6,1199.6 179.0,1199.6 179.4,1199.5 179.8,1199.5 180.2,1199.5 180.6,1199.4 181.0,1199.4 181.4,1199.3 181.8,1199.3 182.2,1199.3 182.6,1199.3 183.0,1199.3 183.4,1199.2 183.8,1199.2 184.2,1199.2 184.6,1199.2 185.0,1199.2 185.4,1199.2 185.8,1199.2 186.2,1199.2 186.6,1199.3 187.0,1199.3 187.4,1199.3 187.8,1199.4 188.2,1199.4 188.6,1199.5 189.0,1199.6 189.4,1199.6 189.8,1199.7 190.2,1199.7 190.6,1199.8 191.0,1199.8 191.4,1199.8 191.8,1199.8 192.2,1199.7 192.6,1199.6 193.0,1199.4 193.4,1199.1 193.8,1198.7 194.2,1198.2 194.6,1197.4 195.0,1196.5 195.4,1195.3 195.8,1193.7 196.2,1191.7 196.6,1189.4 197.0,1186.4 197.4,1183.0 197.8,1178.9 198.2,1174.0 198.6,1168.5 199.0,1162.2 199.4,1155.1 199.8,1147.2 200.2,1138.6 200.6,1129.3 201.0,1119.4 201.4,1109.0 201.8,1098.3 202.2,1087.4 202.6,1076.6 203.0,1066.0 203.4,1056.0 203.8,1046.7 204.2,1038.4 204.6,1031.2 205.0,1025.4 205.4,1021.2 205.8,1018.6 206.2,1017.8 206.6,1020.3 207.0,1023.3 207.4,1026.6 207.8,1030.3 208.2,1034.3 208.6,1038.7 209.0,1043.3 209.4,1048.2 209.8,1053.4 210.2,1058.7 210.6,1064.1 211.0,1069.7 211.4,1075.4 211.8,1081.0 212.2,1086.7 212.6,1092.3 213.0,1097.9 213.4,1103.3 213.8,1108.6 214.2,1113.7 214.6,1118.7 215.0,1123.4 215.4,1128.0 215.8,1132.3 216.2,1136.4 216.6,1140.3 217.0,1143.9 217.4,1147.3 217.8,1150.4 218.2,1153.4 218.6,1156.1 219.0,1158.6 219.4,1161.0 219.8,1163.1 220.2,1165.1 220.6,1167.0 221.0,1168.7 221.4,1170.2 221.8,1171.6 222.2,1173.0 222.6,1174.2 223.0,1175.3 223.4,1176.4 223.8,1177.4 224.2,1178.3 224.6,1179.1 225.0,1179.9 225.4,1180.7 225.8,1181.4 226.2,1182.1 226.6,1182.7 227.0,1183.3 227.4,1183.9 227.8,1184.4 228.2,1185.0 228.6,1185.5 229.0,1186.0 229.4,1186.5 229.8,1186.9 230.2,1187.4 230.6,1187.8 231.0,1188.2 231.4,1188.6 231.8,1189.0 232.2,1189.4 232.6,1189.7 233.0,1190.1 233.4,1190.4 233.8,1190.8 234.2,1191.1 234.6,1191.4 235.0,1191.7 235.4,1192.0 235.8,1192.3 236.2,1192.6 236.6,1192.9 237.0,1193.1 237.4,1193.4 237.8,1193.6 238.2,1193.9 238.6,1194.1 239.0,1194.3 239.4,1194.5 239.8,1194.7 240.2,1194.9 240.6,1195.1 241.0,1195.3 241.4,1195.5 241.8,1195.7 242.2,1195.8 242.6,1195.9 243.0,1196.1 243.4,1196.1 243.8,1196.2 244.2,1196.2 244.6,1196.2 245.0,1196.2 245.4,1196.1 245.8,1195.9 246.2,1195.7 246.6,1195.4 247.0,1195.0 247.4,1194.5 247.8,1193.9 248.2,1193.3 248.6,1192.5 249.0,1191.7 249.4,1190.8 249.8,1189.9 250.2,1188.9 250.6,1188.0 251.0,1187.1 251.4,1186.2 251.8,1185.5 252.2,1184.9 252.6,1184.4 253.0,1184.1 253.4,1184.0 253.8,1184.0 254.2,1184.1 254.6,1184.3 255.0,1184.6 255.4,1184.9 255.8,1185.3 256.2,1185.8 256.6,1186.4 257.0,1187.0 257.4,1187.6 257.8,1188.2 258.2,1188.9 258.6,1189.6 259.0,1190.3 259.4,1190.9 259.8,1191.6 260.2,1192.2 260.6,1192.8 261.0,1193.4 261.4,1193.9 261.8,1194.4 262.2,1194.9 262.6,1195.3 263.0,1195.7 263.4,1196.0 263.8,1196.4 264.2,1196.6 264.6,1196.9 265.0,1197.1 265.4,1197.3 265.8,1197.5 266.2,1197.7 266.6,1197.8 267.0,1197.9 267.4,1198.0 267.8,1198.1 268.2,1198.2 268.6,1198.3 269.0,1198.4 269.4,1198.4 269.8,1198.5 270.2,1198.6 270.6,1198.6 271.0,1198.7 271.4,1198.7 271.8,1198.7 272.2,1198.8 272.6,1198.8 273.0,1198.9 273.4,1198.9 273.8,1198.9 274.2,1199.0 274.6,1199.0 275.0,1199.0 275.4,1199.1 275.8,1199.1 276.2,1199.1 276.6,1199.2 277.0,1199.2 277.4,1199.2 277.8,1199.3 278.2,1199.3 278.6,1199.3 279.0,1199.3 279.4,1199.4 279.8,1199.4 280.2,1199.4 280.6,1199.5 281.0,1199.5 281.4,1199.5 281.8,1199.5 282.2,1199.6 282.6,1199.6 283.0,1199.6 283.4,1199.6 283.8,1199.6 284.2,1199.7 284.6,1199.7 285.0,1199.7 285.4,1199.7 285.8,1199.8 286.2,1199.8 286.6,1199.8 287.0,1199.8 287.4,1199.8 287.8,1199.9 288.2,1199.9 288.6,1199.9 289.0,1199.9 289.4,1199.9 289.8,1200.0 290.2,1200.0 290.6,1200.0 291.0,1200.0 291.4,1200.0 291.8,1200.0 292.2,1200.1 292.6,1200.1 293.0,1200.1 293.4,1200.1 293.8,1200.1 294.2,1200.1 294.6,1200.2 295.0,1200.2 295.4,1200.2 295.8,1200.2 296.2,1200.2 296.6,1200.2 297.0,1200.3 297.4,1200.3 297.8,1200.3 298.2,1200.3 298.6,1200.3 299.0,1200.3 299.4,1200.3 299.8,1200.4 300.2,1200.4 300.6,1200.4 301.0,1200.4 301.4,1200.4 301.8,1200.4 302.2,1200.4 302.6,1200.4 303.0,1200.5 303.4,1200.5 303.8,1200.5 304.2,1200.5 304.6,1200.5 305.0,1200.5 305.4,1200.5 305.8,1200.5 306.2,1200.6 306.6,1200.6 307.0,1200.6 307.4,1200.6 307.8,1200.6 308.2,1200.6 308.6,1200.6 309.0,1200.6 309.4,1200.6 309.8,1200.7 310.2,1200.7 310.6,1200.7 311.0,1200.7 311.4,1200.7 311.8,1200.7 312.2,1200.7 312.6,1200.7 313.0,1200.7 313.4,1200.8 313.8,1200.8 314.2,1200.8 314.6,1200.8 315.0,1200.8 315.4,1200.8 315.8,1200.8 316.2,1200.8 316.6,1200.8 317.0,1200.8 317.4,1200.8 317.8,1200.9 318.2,1200.9 318.6,1200.9 319.0,1200.9 319.4,1200.9 319.8,1200.9 320.2,1200.9 320.6,1200.9 321.0,1200.9 321.4,1200.9 321.8,1200.9 322.2,1201.0 322.6,1201.0 323.0,1201.0 323.4,1201.0 323.8,1201.0 324.2,1201.0 324.6,1201.0 325.0,1201.0 325.4,1201.0 325.8,1201.0 326.2,1201.0 326.6,1201.0 327.0,1201.0 327.4,1201.1 327.8,1201.1 328.2,1201.1 328.6,1201.1 329.0,1201.1 329.4,1201.1 329.8,1201.1 330.2,1201.1 330.6,1201.1 331.0,1201.1 331.4,1201.1 331.8,1201.1 332.2,1201.1 332.6,1201.2 333.0,1201.2 333.4,1201.2 333.8,1201.2 334.2,1201.2 334.6,1201.2 335.0,1201.2 335.4,1201.2 335.8,1201.2 336.2,1201.2 336.6,1201.2 337.0,1201.2 337.4,1201.2 337.8,1201.2 338.2,1201.2 338.6,1201.3 339.0,1201.3 339.4,1201.3 339.8,1201.3 340.2,1201.3 340.6,1201.3 341.0,1201.3 341.4,1201.3 341.8,1201.3 342.2,1201.3 342.6,1201.3 343.0,1201.3 343.4,1201.3 343.8,1201.3 344.2,1201.3 344.6,1201.3 345.0,1201.4 345.4,1201.4 345.8,1201.4 346.2,1201.4 346.6,1201.4 347.0,1201.4 347.4,1201.4 347.8,1201.4 348.2,1201.4 348.6,1201.4 349.0,1201.4 349.4,1201.4 349.8,1201.4 350.2,1201.4 350.6,1201.4 351.0,1201.4 351.4,1201.4" fill="none" stroke="#f7e422" stroke-width="1.9" stroke-linejoin="round"/>
<polyline points="53.8,1202.7 54.2,1202.7 54.6,1202.7 55.0,1202.7 55.4,1202.7 55.8,1202.7 56.2,1202.7 56.6,1202.7 57.0,1202.7 57.4,1202.7 57.8,1202.7 58.2,1202.7 58.6,1202.7 59.0,1202.7 59.4,1202.7 59.8,1202.7 60.2,1202.7 60.6,1202.7 61.0,1202.7 61.4,1202.7 61.8,1202.7 62.2,1202.7 62.6,1202.7 63.0,1202.7 63.4,1202.7 63.8,1202.7 64.2,1202.7 64.6,1202.7 65.0,1202.7 65.4,1202.7 65.8,1202.7 66.2,1202.7 66.6,1202.7 67.0,1202.7 67.4,1202.7 67.8,1202.7 68.2,1202.7 68.6,1202.7 69.0,1202.7 69.4,1202.7 69.8,1202.7 70.2,1202.7 70.6,1202.7 71.0,1202.7 71.4,1202.7 71.8,1202.7 72.2,1202.7 72.6,1202.7 73.0,1202.7 73.4,1202.7 73.8,1202.7 74.2,1202.7 74.6,1202.7 75.0,1202.7 75.4,1202.7 75.8,1202.7 76.2,1202.7 76.6,1202.7 77.0,1202.7 77.4,1202.7 77.8,1202.7 78.2,1202.7 78.6,1202.7 79.0,1202.7 79.4,1202.7 79.8,1202.7 80.2,1202.7 80.6,1202.7 81.0,1202.7 81.4,1202.7 81.8,1202.7 82.2,1202.7 82.6,1202.7 83.0,1202.7 83.4,1202.7 83.8,1202.7 84.2,1202.7 84.6,1202.7 85.0,1202.7 85.4,1202.7 85.8,1202.7 86.2,1202.7 86.6,1202.7 87.0,1202.7 87.4,1202.7 87.8,1202.7 88.2,1202.7 88.6,1202.7 89.0,1202.7 89.4,1202.7 89.8,1202.7 90.2,1202.7 90.6,1202.7 91.0,1202.7 91.4,1202.7 91.8,1202.7 92.2,1202.7 92.6,1202.7 93.0,1202.7 93.4,1202.7 93.8,1202.7 94.2,1202.7 94.6,1202.7 95.0,1202.7 95.4,1202.7 95.8,1202.7 96.2,1202.7 96.6,1202.7 97.0,1202.7 97.4,1202.7 97.8,1202.7 98.2,1202.7 98.6,1202.7 99.0,1202.7 99.4,1202.7 99.8,1202.7 100.2,1202.7 100.6,1202.7 101.0,1202.7 101.4,1202.7 101.8,1202.7 102.2,1202.7 102.6,1202.7 103.0,1202.7 103.4,1202.7 103.8,1202.7 104.2,1202.7 104.6,1202.7 105.0,1202.7 105.4,1202.7 105.8,1202.7 106.2,1202.7 106.6,1202.7 107.0,1202.7 107.4,1202.7 107.8,1202.7 108.2,1202.7 108.6,1202.7 109.0,1202.7 109.4,1202.7 109.8,1202.7 110.2,1202.7 110.6,1202.7 111.0,1202.7 111.4,1202.7 111.8,1202.7 112.2,1202.7 112.6,1202.7 113.0,1202.7 113.4,1202.7 113.8,1202.7 114.2,1202.7 114.6,1202.7 115.0,1202.7 115.4,1202.7 115.8,1202.7 116.2,1202.7 116.6,1202.7 117.0,1202.7 117.4,1202.7 117.8,1202.7 118.2,1202.7 118.6,1202.7 119.0,1202.7 119.4,1202.7 119.8,1202.7 120.2,1202.7 120.6,1202.7 121.0,1202.7 121.4,1202.7 121.8,1202.7 122.2,1202.7 122.6,1202.7 123.0,1202.7 123.4,1202.7 123.8,1202.7 124.2,1202.7 124.6,1202.7 125.0,1202.7 125.4,1202.7 125.8,1202.7 126.2,1202.7 126.6,1202.7 127.0,1202.7 127.4,1202.7 127.8,1202.7 128.2,1202.7 128.6,1202.7 129.0,1202.7 129.4,1202.7 129.8,1202.7 130.2,1202.7 130.6,1202.7 131.0,1202.7 131.4,1202.7 131.8,1202.7 132.2,1202.7 132.6,1202.7 133.0,1202.7 133.4,1202.7 133.8,1202.7 134.2,1202.7 134.6,1202.7 135.0,1202.7 135.4,1202.7 135.8,1202.7 136.2,1202.7 136.6,1202.7 137.0,1202.7 137.4,1202.7 137.8,1202.7 138.2,1202.7 138.6,1202.7 139.0,1202.7 139.4,1202.7 139.8,1202.7 140.2,1202.7 140.6,1202.7 141.0,1202.7 141.4,1202.7 141.8,1202.7 142.2,1202.7 142.6,1202.7 143.0,1202.7 143.4,1202.7 143.8,1202.7 144.2,1202.7 144.6,1202.7 145.0,1202.7 145.4,1202.7 145.8,1202.7 146.2,1202.7 146.6,1202.7 147.0,1202.7 147.4,1202.7 147.8,1202.7 148.2,1202.7 148.6,1202.7 149.0,1202.7 149.4,1202.7 149.8,1202.7 150.2,1202.7 150.6,1202.7 151.0,1202.7 151.4,1202.7 151.8,1202.7 152.2,1202.7 152.6,1202.7 153.0,1202.7 153.4,1202.7 153.8,1202.7 154.2,1202.7 154.6,1202.7 155.0,1202.7 155.4,1202.7 155.8,1202.7 156.2,1202.7 156.6,1202.7 157.0,1202.7 157.4,1202.7 157.8,1202.7 158.2,1202.7 158.6,1202.7 159.0,1202.7 159.4,1202.7 159.8,1202.7 160.2,1202.7 160.6,1202.7 161.0,1202.7 161.4,1202.7 161.8,1202.7 162.2,1202.7 162.6,1202.7 163.0,1202.7 163.4,1202.7 163.8,1202.7 164.2,1202.7 164.6,1202.7 165.0,1202.7 165.4,1202.7 165.8,1202.7 166.2,1202.7 166.6,1202.7 167.0,1202.7 167.4,1202.7 167.8,1202.7 168.2,1202.7 168.6,1202.7 169.0,1202.7 169.4,1202.7 169.8,1202.7 170.2,1202.7 170.6,1202.7 171.0,1202.7 171.4,1202.7 171.8,1202.7 172.2,1202.7 172.6,1202.7 173.0,1202.7 173.4,1202.7 173.8,1202.7 174.2,1202.7 174.6,1202.7 175.0,1202.7 175.4,1202.7 175.8,1202.7 176.2,1202.7 176.6,1202.7 177.0,1202.7 177.4,1202.7 177.8,1202.7 178.2,1202.7 178.6,1202.7 179.0,1202.7 179.4,1202.7 179.8,1202.7 180.2,1202.7 180.6,1202.7 181.0,1202.7 181.4,1202.7 181.8,1202.7 182.2,1202.7 182.6,1202.7 183.0,1202.7 183.4,1202.7 183.8,1202.7 184.2,1202.7 184.6,1202.7 185.0,1202.7 185.4,1202.7 185.8,1202.7 186.2,1202.7 186.6,1202.7 187.0,1202.7 187.4,1202.7 187.8,1202.7 188.2,1202.7 188.6,1202.7 189.0,1202.7 189.4,1202.7 189.8,1202.7 190.2,1202.7 190.6,1202.7 191.0,1202.7 191.4,1202.7 191.8,1202.7 192.2,1202.7 192.6,1202.7 193.0,1202.7 193.4,1202.7 193.8,1202.7 194.2,1202.7 194.6,1202.7 195.0,1202.7 195.4,1202.7 195.8,1202.7 196.2,1202.7 196.6,1202.7 197.0,1202.7 197.4,1202.7 197.8,1202.7 198.2,1202.7 198.6,1202.7 199.0,1202.7 199.4,1202.7 199.8,1202.7 200.2,1202.7 200.6,1202.7 201.0,1202.7 201.4,1202.7 201.8,1202.7 202.2,1202.7 202.6,1202.7 203.0,1202.7 203.4,1202.7 203.8,1202.7 204.2,1202.7 204.6,1202.7 205.0,1202.7 205.4,1202.7 205.8,1202.7 206.2,1202.7 206.6,1202.7 207.0,1202.7 207.4,1202.7 207.8,1202.7 208.2,1202.7 208.6,1202.7 209.0,1202.7 209.4,1202.7 209.8,1202.7 210.2,1202.7 210.6,1202.7 211.0,1202.7 211.4,1202.7 211.8,1202.7 212.2,1202.7 212.6,1202.7 213.0,1202.7 213.4,1202.7 213.8,1202.7 214.2,1202.7 214.6,1202.7 215.0,1202.7 215.4,1202.7 215.8,1202.7 216.2,1202.7 216.6,1202.7 217.0,1202.7 217.4,1202.7 217.8,1202.6 218.2,1202.6 218.6,1202.6 219.0,1202.5 219.4,1202.3 219.8,1202.2 220.2,1201.9 220.6,1201.6 221.0,1201.1 221.4,1200.5 221.8,1199.6 222.2,1198.5 222.6,1197.0 223.0,1195.2 223.4,1192.8 223.8,1189.8 224.2,1186.1 224.6,1181.7 225.0,1176.3 225.4,1170.1 225.8,1162.8 226.2,1154.5 226.6,1145.3 227.0,1135.1 227.4,1124.0 227.8,1112.3 228.2,1100.1 228.6,1087.7 229.0,1075.4 229.4,1063.4 229.8,1052.3 230.2,1042.2 230.6,1033.6 231.0,1026.6 231.4,1021.7 231.8,1018.9 232.2,1018.7 232.6,1021.2 233.0,1024.3 233.4,1027.9 233.8,1032.0 234.2,1036.6 234.6,1041.7 235.0,1047.1 235.4,1052.9 235.8,1058.9 236.2,1065.2 236.6,1071.6 237.0,1078.1 237.4,1084.7 237.8,1091.2 238.2,1097.6 238.6,1103.9 239.0,1110.1 239.4,1116.0 239.8,1121.6 240.2,1127.0 240.6,1132.1 241.0,1137.0 241.4,1141.5 241.8,1145.6 242.2,1149.5 242.6,1153.1 243.0,1156.4 243.4,1159.4 243.8,1162.1 244.2,1164.6 244.6,1166.8 245.0,1168.9 245.4,1170.7 245.8,1172.4 246.2,1173.9 246.6,1175.2 247.0,1176.4 247.4,1177.5 247.8,1178.5 248.2,1179.4 248.6,1180.3 249.0,1181.0 249.4,1181.7 249.8,1182.4 250.2,1183.0 250.6,1183.6 251.0,1184.1 251.4,1184.6 251.8,1185.1 252.2,1185.6 252.6,1186.0 253.0,1186.4 253.4,1186.9 253.8,1187.2 254.2,1187.6 254.6,1188.0 255.0,1188.4 255.4,1188.7 255.8,1189.1 256.2,1189.4 256.6,1189.7 257.0,1190.1 257.4,1190.4 257.8,1190.7 258.2,1191.0 258.6,1191.3 259.0,1191.6 259.4,1191.8 259.8,1192.1 260.2,1192.4 260.6,1192.6 261.0,1192.9 261.4,1193.1 261.8,1193.4 262.2,1193.6 262.6,1193.8 263.0,1194.0 263.4,1194.2 263.8,1194.4 264.2,1194.7 264.6,1194.8 265.0,1195.0 265.4,1195.2 265.8,1195.4 266.2,1195.6 266.6,1195.7 267.0,1195.9 267.4,1196.1 267.8,1196.2 268.2,1196.4 268.6,1196.5 269.0,1196.7 269.4,1196.8 269.8,1196.9 270.2,1197.1 270.6,1197.2 271.0,1197.3 271.4,1197.4 271.8,1197.6 272.2,1197.7 272.6,1197.8 273.0,1197.9 273.4,1198.0 273.8,1198.1 274.2,1198.2 274.6,1198.3 275.0,1198.4 275.4,1198.5 275.8,1198.6 276.2,1198.7 276.6,1198.7 277.0,1198.8 277.4,1198.9 277.8,1199.0 278.2,1199.1 278.6,1199.1 279.0,1199.2 279.4,1199.3 279.8,1199.3 280.2,1199.4 280.6,1199.5 281.0,1199.5 281.4,1199.6 281.8,1199.7 282.2,1199.7 282.6,1199.8 283.0,1199.8 283.4,1199.9 283.8,1199.9 284.2,1200.0 284.6,1200.0 285.0,1200.1 285.4,1200.1 285.8,1200.2 286.2,1200.2 286.6,1200.2 287.0,1200.3 287.4,1200.3 287.8,1200.4 288.2,1200.4 288.6,1200.4 289.0,1200.5 289.4,1200.5 289.8,1200.6 290.2,1200.6 290.6,1200.6 291.0,1200.7 291.4,1200.7 291.8,1200.7 292.2,1200.7 292.6,1200.8 293.0,1200.8 293.4,1200.8 293.8,1200.9 294.2,1200.9 294.6,1200.9 295.0,1200.9 295.4,1201.0 295.8,1201.0 296.2,1201.0 296.6,1201.0 297.0,1201.0 297.4,1201.1 297.8,1201.1 298.2,1201.1 298.6,1201.1 299.0,1201.2 299.4,1201.2 299.8,1201.2 300.2,1201.2 300.6,1201.2 301.0,1201.2 301.4,1201.3 301.8,1201.3 302.2,1201.3 302.6,1201.3 303.0,1201.3 303.4,1201.3 303.8,1201.4 304.2,1201.4 304.6,1201.4 305.0,1201.4 305.4,1201.4 305.8,1201.4 306.2,1201.4 306.6,1201.5 307.0,1201.5 307.4,1201.5 307.8,1201.5 308.2,1201.5 308.6,1201.5 309.0,1201.5 309.4,1201.5 309.8,1201.5 310.2,1201.6 310.6,1201.6 311.0,1201.6 311.4,1201.6 311.8,1201.6 312.2,1201.6 312.6,1201.6 313.0,1201.6 313.4,1201.6 313.8,1201.6 314.2,1201.7 314.6,1201.7 315.0,1201.7 315.4,1201.7 315.8,1201.7 316.2,1201.7 316.6,1201.7 317.0,1201.7 317.4,1201.7 317.8,1201.7 318.2,1201.7 318.6,1201.7 319.0,1201.7 319.4,1201.8 319.8,1201.8 320.2,1201.8 320.6,1201.8 321.0,1201.8 321.4,1201.8 321.8,1201.8 322.2,1201.8 322.6,1201.8 323.0,1201.8 323.4,1201.8 323.8,1201.8 324.2,1201.8 324.6,1201.8 325.0,1201.8 325.4,1201.8 325.8,1201.9 326.2,1201.9 326.6,1201.9 327.0,1201.9 327.4,1201.9 327.8,1201.9 328.2,1201.9 328.6,1201.9 329.0,1201.9 329.4,1201.9 329.8,1201.9 330.2,1201.9 330.6,1201.9 331.0,1201.9 331.4,1201.9 331.8,1201.9 332.2,1201.9 332.6,1201.9 333.0,1201.9 333.4,1201.9 333.8,1202.0 334.2,1202.0 334.6,1202.0 335.0,1202.0 335.4,1202.0 335.8,1202.0 336.2,1202.0 336.6,1202.0 337.0,1202.0 337.4,1202.0 337.8,1202.0 338.2,1202.0 338.6,1202.0 339.0,1202.0 339.4,1202.0 339.8,1202.0 340.2,1202.0 340.6,1202.0 341.0,1202.0 341.4,1202.0 341.8,1202.0 342.2,1202.0 342.6,1202.0 343.0,1202.0 343.4,1202.0 343.8,1202.0 344.2,1202.1 344.6,1202.1 345.0,1202.1 345.4,1202.1 345.8,1202.1 346.2,1202.1 346.6,1202.1 347.0,1202.1 347.4,1202.1 347.8,1202.1 348.2,1202.1 348.6,1202.1 349.0,1202.1 349.4,1202.1 349.8,1202.1 350.2,1202.1 350.6,1202.1 351.0,1202.1 351.4,1202.1" fill="none" stroke="#12877e" stroke-width="1.9" stroke-linejoin="round"/>
<path d="M168,1071.5 l2,-3 l1.5,0.8 l2,-3 l2,0.8" fill="none" stroke="#8fd34e" stroke-width="1.6"/>
<line x1="201.0" y1="1089.2" x2="214.4" y2="1089.2" stroke="#f7e422" stroke-width="1.8" />
<path d="M203,1095.5 l3,-3 l2,0.5 l3,-3 l2.5,-1.5 l2,0.8" fill="none" stroke="#8fd34e" stroke-width="1.6"/>
<line x1="227.7" y1="1089.8" x2="236.9" y2="1089.8" stroke="#12877e" stroke-width="1.8" />
<path d="M230,1092 l1.5,-2.5 l1,-2.5 l2,-0.5 l1,1.5" fill="none" stroke="#8fd34e" stroke-width="1.6"/>
<line x1="61.1" y1="1025.6" x2="73.8" y2="1025.6" stroke="#12877e" stroke-width="3" />
<line x1="61.1" y1="1041.0" x2="73.8" y2="1041.0" stroke="#8fd34e" stroke-width="3" />
<line x1="61.1" y1="1056.9" x2="73.8" y2="1056.9" stroke="#f7e422" stroke-width="3" />
<text x="76.79" y="1028.90" font-size="14.20" text-anchor="start" font-weight="normal" fill="#111" textLength="24.78" lengthAdjust="spacingAndGlyphs" stroke="#111" stroke-width="0.1">HLp</text>
<text x="76.83" y="1045.20" font-size="14.20" text-anchor="start" font-weight="normal" fill="#111" textLength="109.48" lengthAdjust="spacingAndGlyphs" stroke="#111" stroke-width="0.1">HLp + 30-bp-GC40</text>
<text x="77.42" y="1061.00" font-size="14.20" text-anchor="start" font-weight="normal" fill="#111" textLength="71.08" lengthAdjust="spacingAndGlyphs" stroke="#111" stroke-width="0.1">30-bp-GC40</text>
<text x="474.58" y="1002.90" font-size="19.60" text-anchor="start" font-weight="normal" fill="#1c1c1c" textLength="147.19" lengthAdjust="spacingAndGlyphs" stroke="#1c1c1c" stroke-width="0.1">Molecular weight</text>
<line x1="416.0" y1="1010.6" x2="676.0" y2="1010.6" stroke="#5a5a5a" stroke-width="3" />
<line x1="416.0" y1="1061.2" x2="676.0" y2="1061.2" stroke="#5a5a5a" stroke-width="3" />
<line x1="416.0" y1="1211.0" x2="676.0" y2="1211.0" stroke="#5a5a5a" stroke-width="3" />
<text x="424.43" y="1040.50" font-size="16.90" text-anchor="start" font-weight="normal" fill="#1c1c1c" textLength="58.21" lengthAdjust="spacingAndGlyphs" stroke="#1c1c1c" stroke-width="0.1">Sample</text>
<text x="505.52" y="1032.60" font-size="17.00" text-anchor="start" font-weight="normal" fill="#1c1c1c" textLength="82.59" lengthAdjust="spacingAndGlyphs" stroke="#1c1c1c" stroke-width="0.1">Theoretical</text>
<text x="504.82" y="1052.80" font-size="17.00" text-anchor="start" font-weight="normal" fill="#1c1c1c" textLength="42.10" lengthAdjust="spacingAndGlyphs" stroke="#1c1c1c" stroke-width="0.1">(kDa)</text>
<text x="601.20" y="1032.60" font-size="17.00" text-anchor="start" font-weight="normal" fill="#1c1c1c" textLength="75.39" lengthAdjust="spacingAndGlyphs" stroke="#1c1c1c" stroke-width="0.1">Measured</text>
<text x="601.52" y="1052.80" font-size="17.00" text-anchor="start" font-weight="normal" fill="#1c1c1c" textLength="42.10" lengthAdjust="spacingAndGlyphs" stroke="#1c1c1c" stroke-width="0.1">(kDa)</text>
<text x="424.12" y="1089.80" font-size="17.40" text-anchor="start" font-weight="normal" fill="#1c1c1c" textLength="30.68" lengthAdjust="spacingAndGlyphs" stroke="#1c1c1c" stroke-width="0.1">HLp</text>
<text x="520.22" y="1089.80" font-size="16.20" text-anchor="start" font-weight="normal" fill="#1c1c1c" textLength="30.22" lengthAdjust="spacingAndGlyphs" stroke="#1c1c1c" stroke-width="0.1">28.4</text>
<text x="601.80" y="1089.80" font-size="16.20" text-anchor="start" font-weight="normal" fill="#1c1c1c" textLength="71.20" lengthAdjust="spacingAndGlyphs" stroke="#1c1c1c" stroke-width="0.1">26.0 ± 0.3</text>
<text x="424.96" y="1138.20" font-size="15.90" text-anchor="start" font-weight="normal" fill="#1c1c1c" textLength="78.88" lengthAdjust="spacingAndGlyphs" stroke="#1c1c1c" stroke-width="0.1">30-bp-GC40</text>
<text x="519.81" y="1138.40" font-size="16.20" text-anchor="start" font-weight="normal" fill="#1c1c1c" textLength="30.84" lengthAdjust="spacingAndGlyphs" stroke="#1c1c1c" stroke-width="0.1">18.5</text>
<text x="601.80" y="1138.40" font-size="16.20" text-anchor="start" font-weight="normal" fill="#1c1c1c" textLength="71.20" lengthAdjust="spacingAndGlyphs" stroke="#1c1c1c" stroke-width="0.1">23.2 ± 2.3</text>
<text x="424.34" y="1179.80" font-size="15.90" text-anchor="start" font-weight="normal" fill="#1c1c1c" textLength="82.46" lengthAdjust="spacingAndGlyphs" stroke="#1c1c1c" stroke-width="0.1">HLp + 30-bp-</text>
<text x="424.80" y="1199.10" font-size="15.90" text-anchor="start" font-weight="normal" fill="#1c1c1c" textLength="36.76" lengthAdjust="spacingAndGlyphs" stroke="#1c1c1c" stroke-width="0.1">GC40</text>
<text x="520.22" y="1189.70" font-size="16.20" text-anchor="start" font-weight="normal" fill="#1c1c1c" textLength="30.43" lengthAdjust="spacingAndGlyphs" stroke="#1c1c1c" stroke-width="0.1">65.5</text>
<text x="601.80" y="1189.70" font-size="16.20" text-anchor="start" font-weight="normal" fill="#1c1c1c" textLength="71.32" lengthAdjust="spacingAndGlyphs" stroke="#1c1c1c" stroke-width="0.1">69.2 ± 5.7</text>
</svg>
</body></html>
